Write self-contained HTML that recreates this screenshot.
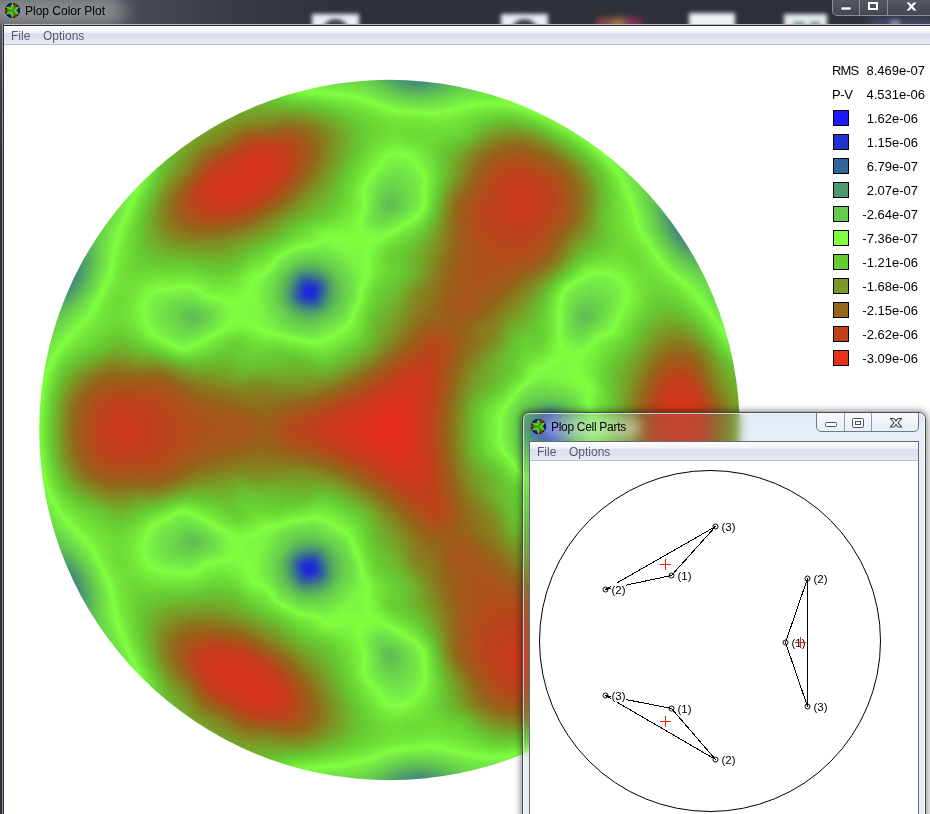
<!DOCTYPE html>
<html><head><meta charset="utf-8"><title>Plop Color Plot</title>
<style>
html,body{margin:0;padding:0}
body{width:930px;height:814px;overflow:hidden;position:relative;background:#fff;font-family:"Liberation Sans",sans-serif;font-size:12px;color:#000}
.abs{position:absolute}
#tb1{left:0;top:0;width:930px;height:26px;background:linear-gradient(90deg,#4d5158 0,#474b52 130px,#383c43 230px,#2e3239 330px,#2c3037 100%);overflow:hidden}
#tb1 .glow{left:-14px;top:-4px;width:140px;height:30px;border-radius:15px;background:rgba(255,255,255,.36);filter:blur(9px)}
#tb1 .ttl{left:25px;top:4px;font-size:12px;letter-spacing:0;color:#000;white-space:nowrap}
.blob{filter:blur(2.2px)}
#lb{left:0;top:24px;width:4px;height:790px;background:linear-gradient(#565a62,#3a3e46 60px,#2a2e36 160px)}
#lb i{position:absolute;left:2px;top:0;width:1px;height:790px;background:#8d9299}
#lb b{position:absolute;left:3px;top:1px;width:1px;height:789px;background:#30333a}
#tline1{left:2px;top:24px;width:928px;height:1px;background:#b9bdc3}
#tline2{left:3px;top:25px;width:927px;height:1px;background:#23262b}
.menu{height:18px;background:linear-gradient(#fff 0,#f1f3fa 35%,#dcdfee 42%,#dfe3f0 70%,#e9ecf6 100%);border-bottom:1px solid #b6bccc;color:#5a5a66}
.menu span{position:absolute;top:3px;font-size:12px;white-space:nowrap}
#menu1{left:4px;top:26px;width:926px}
#cap1{left:832px;top:-1px;width:100px;height:17px;border:1px solid #8b9096;border-bottom-left-radius:5px;background:linear-gradient(#555a62,#42464e);box-sizing:border-box}
#cap1 i{position:absolute;top:0;width:1px;height:16px;background:#8b9096}
.lg{left:832px;font-size:13px;white-space:nowrap;line-height:16px}
.sw{left:833px;width:14px;height:14px;border:1px solid #000}
.num{position:absolute;right:0;text-align:right}
/* window 2 */
#w2{left:522px;top:412px;width:404px;height:420px;border-radius:7px 7px 0 0;box-sizing:border-box;border:1px solid #454950;overflow:hidden;box-shadow:0 0 7px 1px rgba(0,0,0,.5)}
#w2 .glass{left:0;top:0;width:402px;height:420px;backdrop-filter:blur(5px);-webkit-backdrop-filter:blur(5px);background:rgba(255,255,255,.11)}
#w2 .tint{left:0;top:0;width:402px;height:420px;background:linear-gradient(#e2eaf6,#e8eff9 28px,#e8eff9);mix-blend-mode:multiply}
#w2 .hl{left:0;top:0;width:400px;height:418px;border:1px solid rgba(255,255,255,.65);border-radius:6px 6px 0 0}
#w2 .glow{left:18px;top:4px;width:100px;height:22px;border-radius:11px;background:rgba(255,255,255,.42);filter:blur(6px)}
#w2 .ttl{left:28px;top:7px;font-size:12px;letter-spacing:-.3px;white-space:nowrap}
#cl2{left:6px;top:28px;width:388px;height:400px;border:1px solid #5f6a74;background:#fff}
#menu2{left:0;top:0;width:388px}
#cap2{left:293px;top:-1px;width:103px;height:20px;border:1px solid #6f7b88;border-radius:0 0 5px 5px;box-sizing:border-box;background:linear-gradient(rgba(255,255,255,.75),rgba(235,240,248,.6))}
#cap2 i{position:absolute;top:0;width:1px;height:18px;background:#8e99a6}
</style></head><body>
<!-- main plot -->
<svg class="abs" style="left:0;top:0" width="930" height="814" viewBox="0 0 930 814">
<defs>
<filter id="cm" x="0" y="40" width="780" height="774" filterUnits="userSpaceOnUse" color-interpolation-filters="sRGB">
<feGaussianBlur stdDeviation="2.75"/>
<feComponentTransfer>
<feFuncR type="table" tableValues="0.1020 0.1020 0.1020 0.1294 0.2000 0.3020 0.4000 0.5020 0.4000 0.4784 0.5804 0.7529 0.9020"/>
<feFuncG type="table" tableValues="0.1020 0.1020 0.1020 0.2000 0.4000 0.6000 0.8000 1.0000 0.8000 0.6000 0.4000 0.2510 0.1882"/>
<feFuncB type="table" tableValues="1.0000 1.0000 1.0000 0.8000 0.6000 0.4235 0.3020 0.2510 0.2000 0.1490 0.1020 0.1020 0.1020"/>
<feFuncA type="linear" slope="0" intercept="1"/>
</feComponentTransfer>
</filter>
<symbol id="ico" viewBox="0 0 16 16"><circle cx="8" cy="8" r="7.6" fill="#0b0b0b"/><circle cx="14.30" cy="8.00" r="1.45" fill="#0c0cd2"/><circle cx="4.85" cy="2.54" r="1.45" fill="#0c0cd2"/><circle cx="4.85" cy="13.46" r="1.45" fill="#0c0cd2"/><circle cx="11.15" cy="2.54" r="1.45" fill="#b8200c"/><circle cx="1.70" cy="8.00" r="1.45" fill="#b8200c"/><circle cx="11.15" cy="13.46" r="1.45" fill="#b8200c"/><path d="M14.67 4.15 L10.35 3.93 L8.00 0.30 L5.65 3.93 L1.33 4.15 L3.30 8.00 L1.33 11.85 L5.65 12.07 L8.00 15.70 L10.35 12.07 L14.67 11.85 L12.70 8.00Z" fill="#3c9a18"/><path d="M13.14 4.91 L10.00 8.00 L13.14 11.09 M2.75 5.09 L7.00 6.27 L8.10 2.00 M8.10 14.00 L7.00 9.73 L2.75 10.91 " fill="none" stroke="#72e234" stroke-width="1.05" stroke-linejoin="round" stroke-linecap="round"/></symbol>
<clipPath id="disc"><circle cx="389.5" cy="430" r="350.3"/></clipPath>
<g id="half" shape-rendering="crispEdges">
<path fill="#2f2f2f" d="M308 290h5v5h-5z"/>
<path fill="#323232" d="M548 425h5v5h-5z"/>
<path fill="#373737" d="M303 290h5v5h-5z"/>
<path fill="#383838" d="M308 285h5v5h-5z"/>
<path fill="#393939" d="M543 425h5v5h-5z"/>
<path fill="#3c3c3c" d="M303 285h5v5h-5z"/>
<path fill="#3d3d3d" d="M308 295h5v5h-5z"/>
<path fill="#3f3f3f" d="M313 285h5v5h-5zM313 290h5v5h-5zM553 425h5v5h-5z"/>
<path fill="#404040" d="M548 420h5v5h-5z"/>
<path fill="#424242" d="M303 295h5v5h-5z"/>
<path fill="#444444" d="M313 295h5v5h-5z"/>
<path fill="#464646" d="M543 420h5v5h-5zM538 425h5v5h-5z"/>
<path fill="#474747" d="M303 280h5v5h-5zM298 290h5v5h-5z"/>
<path fill="#484848" d="M298 295h5v5h-5z"/>
<path fill="#494949" d="M308 280h5v5h-5z"/>
<path fill="#4b4b4b" d="M298 285h5v5h-5zM553 420h5v5h-5z"/>
<path fill="#4c4c4c" d="M318 285h5v5h-5zM558 425h5v5h-5z"/>
<path fill="#4d4d4d" d="M313 280h5v5h-5zM548 415h5v5h-5z"/>
<path fill="#4e4e4e" d="M308 300h10v5h-10z"/>
<path fill="#4f4f4f" d="M318 290h5v5h-5z"/>
<path fill="#515151" d="M298 280h5v5h-5zM303 300h5v5h-5zM538 420h5v5h-5z"/>
<path fill="#525252" d="M543 415h5v5h-5z"/>
<path fill="#535353" d="M318 295h5v5h-5z"/>
<path fill="#545454" d="M318 280h5v5h-5zM533 425h5v5h-5z"/>
<path fill="#565656" d="M293 295h5v5h-5zM298 300h5v5h-5zM558 420h5v5h-5z"/>
<path fill="#575757" d="M303 275h5v5h-5zM293 290h5v5h-5zM553 415h5v5h-5z"/>
<path fill="#585858" d="M308 275h5v5h-5z"/>
<path fill="#5a5a5a" d="M293 285h5v5h-5zM318 300h5v5h-5z"/>
<path fill="#5b5b5b" d="M298 275h5v5h-5zM563 425h5v5h-5z"/>
<path fill="#5c5c5c" d="M313 275h5v5h-5zM538 415h5v5h-5z"/>
<path fill="#5d5d5d" d="M323 285h5v5h-5zM548 410h5v5h-5zM533 420h5v5h-5z"/>
<path fill="#5e5e5e" d="M323 290h5v5h-5zM308 305h10v5h-10z"/>
<path fill="#5f5f5f" d="M293 300h5v5h-5z"/>
<path fill="#606060" d="M293 280h5v5h-5zM323 280h5v5h-5zM303 305h5v5h-5z"/>
<path fill="#616161" d="M543 410h5v5h-5zM558 415h5v5h-5z"/>
<path fill="#626262" d="M318 275h5v5h-5zM323 295h5v5h-5z"/>
<path fill="#636363" d="M413 65h5v5h-5zM413 70h5v5h-5zM408 75h10v5h-10zM688 220h5v5h-5zM678 225h20v5h-20zM678 230h10v5h-10zM58 265h10v5h-10zM58 270h15v5h-15zM63 275h10v5h-10zM563 420h5v5h-5z"/>
<path fill="#646464" d="M408 65h5v5h-5zM418 65h5v5h-5zM408 70h5v5h-5zM418 70h5v5h-5zM418 75h5v5h-5zM678 220h10v5h-10zM673 225h5v5h-5zM688 230h5v5h-5zM683 235h5v5h-5zM68 265h5v5h-5zM73 270h5v5h-5zM53 275h10v5h-10zM73 275h5v5h-5zM63 280h10v5h-10zM553 410h5v5h-5zM528 425h5v5h-5z"/>
<path fill="#656565" d="M403 65h5v5h-5zM423 65h5v5h-5zM403 70h5v5h-5zM423 70h5v5h-5zM403 75h5v5h-5zM423 75h5v5h-5zM413 80h10v5h-10zM683 215h5v5h-5zM693 230h5v5h-5zM678 235h5v5h-5zM688 235h5v5h-5zM63 260h5v5h-5zM73 265h5v5h-5zM58 280h5v5h-5zM298 305h5v5h-5zM318 305h5v5h-5z"/>
<path fill="#666666" d="M408 80h5v5h-5zM423 80h5v5h-5zM678 215h5v5h-5zM673 220h5v5h-5zM673 230h5v5h-5zM683 240h5v5h-5zM68 260h5v5h-5zM53 280h5v5h-5zM63 285h5v5h-5z"/>
<path fill="#676767" d="M428 65h5v5h-5zM428 70h5v5h-5zM398 75h5v5h-5zM428 75h5v5h-5zM683 210h5v5h-5zM673 215h5v5h-5zM693 235h5v5h-5zM688 240h5v5h-5zM63 255h5v5h-5zM73 260h5v5h-5zM303 270h5v5h-5zM58 285h5v5h-5zM68 285h5v5h-5zM288 290h5v5h-5zM288 295h5v5h-5zM533 415h5v5h-5z"/>
<path fill="#686868" d="M398 65h5v5h-5zM398 70h5v5h-5zM403 80h5v5h-5zM428 80h5v5h-5zM678 210h5v5h-5zM668 220h5v5h-5zM698 235h5v5h-5zM68 255h5v5h-5zM78 265h5v5h-5zM308 270h5v5h-5zM293 275h5v5h-5zM73 280h5v5h-5zM53 285h5v5h-5zM323 300h5v5h-5z"/>
<path fill="#696969" d="M668 215h5v5h-5zM693 240h5v5h-5zM78 260h5v5h-5zM78 270h5v5h-5zM288 285h5v5h-5zM63 290h5v5h-5zM538 410h5v5h-5z"/>
<path fill="#6a6a6a" d="M433 65h5v5h-5zM433 70h5v5h-5zM678 205h5v5h-5zM673 210h5v5h-5zM668 225h5v5h-5zM678 240h5v5h-5zM688 245h5v5h-5zM73 255h5v5h-5zM298 270h5v5h-5zM313 270h5v5h-5zM48 285h5v5h-5zM58 290h5v5h-5zM528 420h5v5h-5z"/>
<path fill="#6b6b6b" d="M393 65h5v5h-5zM393 70h5v5h-5zM393 75h5v5h-5zM433 75h5v5h-5zM398 80h5v5h-5zM673 235h5v5h-5zM698 240h5v5h-5zM683 245h5v5h-5zM68 250h5v5h-5zM78 275h5v5h-5zM323 275h5v5h-5zM53 290h5v5h-5zM68 290h5v5h-5zM288 300h5v5h-5zM558 410h5v5h-5zM563 415h5v5h-5zM568 425h5v5h-5z"/>
<path fill="#6c6c6c" d="M433 80h5v5h-5zM668 210h5v5h-5zM703 240h5v5h-5zM693 245h5v5h-5zM78 255h5v5h-5zM73 285h5v5h-5zM328 285h5v5h-5zM328 290h5v5h-5zM293 305h5v5h-5zM308 310h5v5h-5z"/>
<path fill="#6d6d6d" d="M438 65h5v5h-5zM413 85h10v5h-10zM673 205h5v5h-5zM663 215h5v5h-5zM73 250h5v5h-5zM288 280h5v5h-5zM48 290h5v5h-5zM58 295h10v5h-10zM303 310h5v5h-5zM313 310h5v5h-5zM548 405h5v5h-5z"/>
<path fill="#6e6e6e" d="M388 60h5v5h-5zM388 65h5v5h-5zM388 70h5v5h-5zM438 70h5v5h-5zM388 75h5v5h-5zM438 75h5v5h-5zM393 80h5v5h-5zM408 85h5v5h-5zM423 85h5v5h-5zM663 210h5v5h-5zM668 230h5v5h-5zM68 245h5v5h-5zM698 245h5v5h-5zM688 250h5v5h-5zM83 255h5v5h-5zM83 260h5v5h-5zM318 270h5v5h-5zM328 280h5v5h-5zM328 295h5v5h-5zM543 405h5v5h-5z"/>
<path fill="#6f6f6f" d="M438 80h5v5h-5zM428 85h5v5h-5zM668 205h5v5h-5zM663 220h5v5h-5zM78 250h5v5h-5zM693 250h5v5h-5zM83 265h5v5h-5zM78 280h5v5h-5zM53 295h5v5h-5zM323 305h5v5h-5zM533 410h5v5h-5zM568 420h5v5h-5z"/>
<path fill="#707070" d="M403 85h5v5h-5zM673 200h5v5h-5zM673 240h5v5h-5zM73 245h5v5h-5zM678 245h5v5h-5zM703 245h5v5h-5zM48 295h5v5h-5zM298 310h5v5h-5zM553 405h5v5h-5zM528 415h5v5h-5z"/>
<path fill="#717171" d="M443 70h5v5h-5zM433 85h5v5h-5zM663 205h5v5h-5zM83 250h5v5h-5zM698 250h5v5h-5zM83 270h5v5h-5zM293 270h5v5h-5zM73 290h5v5h-5zM68 295h5v5h-5zM58 300h5v5h-5zM328 300h5v5h-5zM318 310h5v5h-5z"/>
<path fill="#727272" d="M383 65h5v5h-5zM383 70h5v5h-5zM383 75h5v5h-5zM443 75h5v5h-5zM388 80h5v5h-5zM398 85h5v5h-5zM668 200h5v5h-5zM663 225h5v5h-5zM668 235h5v5h-5zM78 245h5v5h-5zM683 250h5v5h-5zM288 275h5v5h-5zM283 290h5v5h-5zM63 300h5v5h-5zM538 405h5v5h-5zM563 410h5v5h-5zM523 425h5v5h-5z"/>
<path fill="#737373" d="M443 80h5v5h-5zM703 250h5v5h-5zM693 255h5v5h-5zM303 265h10v5h-10zM323 270h5v5h-5zM83 275h5v5h-5zM328 275h5v5h-5zM78 285h5v5h-5zM283 285h5v5h-5zM283 295h5v5h-5zM53 300h5v5h-5zM288 305h5v5h-5z"/>
<path fill="#747474" d="M438 85h5v5h-5zM663 200h5v5h-5zM658 205h5v5h-5zM658 210h5v5h-5zM73 240h5v5h-5zM83 245h5v5h-5zM688 255h5v5h-5zM698 255h5v5h-5zM313 265h5v5h-5zM48 300h5v5h-5zM293 310h5v5h-5zM558 405h5v5h-5zM568 415h5v5h-5zM523 420h5v5h-5z"/>
<path fill="#757575" d="M448 70h5v5h-5zM393 85h5v5h-5zM668 195h5v5h-5zM658 215h5v5h-5zM663 230h5v5h-5zM708 250h5v5h-5zM43 300h5v5h-5zM58 305h5v5h-5zM528 410h5v5h-5z"/>
<path fill="#767676" d="M378 65h5v5h-5zM378 70h5v5h-5zM378 75h5v5h-5zM448 75h5v5h-5zM383 80h5v5h-5zM408 90h20v5h-20zM78 240h5v5h-5zM673 245h5v5h-5zM88 250h5v5h-5zM88 255h5v5h-5zM703 255h5v5h-5zM88 260h5v5h-5zM298 265h5v5h-5zM283 280h5v5h-5zM333 285h5v5h-5zM333 290h5v5h-5zM283 300h5v5h-5zM53 305h5v5h-5zM328 305h5v5h-5zM303 315h10v5h-10zM533 405h5v5h-5z"/>
<path fill="#777777" d="M448 80h5v5h-5zM443 85h5v5h-5zM663 195h5v5h-5zM658 200h5v5h-5zM658 220h5v5h-5zM668 240h5v5h-5zM88 245h5v5h-5zM678 250h5v5h-5zM693 260h5v5h-5zM88 265h5v5h-5zM318 265h5v5h-5zM83 280h5v5h-5zM73 295h5v5h-5zM333 295h5v5h-5zM68 300h5v5h-5zM323 310h5v5h-5zM313 315h5v5h-5zM523 415h5v5h-5zM573 425h5v5h-5z"/>
<path fill="#787878" d="M403 90h5v5h-5zM428 90h5v5h-5zM83 240h5v5h-5zM683 255h5v5h-5zM708 255h5v5h-5zM698 260h5v5h-5zM333 280h5v5h-5zM78 290h5v5h-5zM48 305h5v5h-5zM63 305h5v5h-5zM298 315h5v5h-5zM548 400h5v5h-5z"/>
<path fill="#797979" d="M453 70h5v5h-5zM388 85h5v5h-5zM433 90h5v5h-5zM388 200h5v5h-5zM78 235h5v5h-5zM88 270h5v5h-5zM288 270h5v5h-5zM333 300h5v5h-5zM43 305h5v5h-5zM188 315h10v5h-10zM583 315h5v5h-5zM543 400h5v5h-5zM563 405h5v5h-5zM568 410h5v5h-5zM573 420h5v5h-5z"/>
<path fill="#7a7a7a" d="M373 65h5v5h-5zM373 70h5v5h-5zM373 75h5v5h-5zM453 75h5v5h-5zM378 80h5v5h-5zM453 80h5v5h-5zM448 85h5v5h-5zM398 90h5v5h-5zM663 190h5v5h-5zM658 195h5v5h-5zM653 200h5v5h-5zM388 205h5v5h-5zM653 205h5v5h-5zM658 225h5v5h-5zM663 235h5v5h-5zM88 240h5v5h-5zM703 260h5v5h-5zM293 265h5v5h-5zM328 270h5v5h-5zM283 275h5v5h-5zM53 310h10v5h-10zM288 310h5v5h-5zM583 310h5v5h-5zM318 315h5v5h-5zM553 400h5v5h-5z"/>
<path fill="#7b7b7b" d="M383 200h5v5h-5zM393 200h5v5h-5zM653 210h5v5h-5zM83 235h5v5h-5zM688 260h5v5h-5zM708 260h5v5h-5zM323 265h5v5h-5zM698 265h5v5h-5zM88 275h5v5h-5zM83 285h5v5h-5zM283 305h5v5h-5zM48 310h5v5h-5zM293 315h5v5h-5zM578 315h5v5h-5zM538 400h5v5h-5zM528 405h5v5h-5zM523 410h5v5h-5z"/>
<path fill="#7c7c7c" d="M458 70h5v5h-5zM383 85h5v5h-5zM453 85h5v5h-5zM438 90h5v5h-5zM388 195h5v5h-5zM653 195h5v5h-5zM383 205h5v5h-5zM78 230h5v5h-5zM668 245h5v5h-5zM673 250h5v5h-5zM308 260h5v5h-5zM333 275h5v5h-5zM278 285h5v5h-5zM278 290h5v5h-5zM278 295h5v5h-5zM73 300h5v5h-5zM43 310h5v5h-5zM188 310h10v5h-10zM328 310h5v5h-5zM578 310h5v5h-5zM588 310h5v5h-5zM588 315h5v5h-5zM188 320h10v5h-10zM583 320h5v5h-5zM558 400h5v5h-5zM518 425h5v5h-5z"/>
<path fill="#7d7d7d" d="M458 75h5v5h-5zM373 80h5v5h-5zM393 90h5v5h-5zM663 185h5v5h-5zM658 190h5v5h-5zM393 195h5v5h-5zM393 205h5v5h-5zM653 215h5v5h-5zM658 230h5v5h-5zM88 235h5v5h-5zM93 240h5v5h-5zM93 245h5v5h-5zM93 250h5v5h-5zM93 255h5v5h-5zM678 255h5v5h-5zM303 260h5v5h-5zM313 260h5v5h-5zM713 260h5v5h-5zM693 265h5v5h-5zM703 265h5v5h-5zM338 290h5v5h-5zM78 295h5v5h-5zM68 305h5v5h-5zM333 305h5v5h-5zM38 310h5v5h-5zM53 315h5v5h-5zM183 315h5v5h-5zM198 315h5v5h-5zM578 320h5v5h-5zM533 400h5v5h-5zM573 415h5v5h-5zM518 420h5v5h-5z"/>
<path fill="#7e7e7e" d="M368 65h5v5h-5zM368 70h5v5h-5zM368 75h5v5h-5zM458 80h5v5h-5zM443 90h5v5h-5zM413 95h10v5h-10zM653 190h5v5h-5zM383 195h5v5h-5zM83 230h5v5h-5zM93 235h5v5h-5zM663 240h5v5h-5zM93 260h5v5h-5zM708 265h5v5h-5zM88 280h5v5h-5zM278 280h5v5h-5zM338 285h5v5h-5zM338 295h5v5h-5zM278 300h5v5h-5zM583 305h10v5h-10zM63 310h5v5h-5zM183 310h5v5h-5zM48 315h5v5h-5zM58 315h5v5h-5zM323 315h5v5h-5zM183 320h5v5h-5zM303 320h10v5h-10zM568 405h5v5h-5zM518 415h5v5h-5z"/>
<path fill="#7f7f7f" d="M463 70h5v5h-5zM458 85h5v5h-5zM388 90h5v5h-5zM408 95h5v5h-5zM423 95h10v5h-10zM658 185h5v5h-5zM388 190h5v5h-5zM648 195h5v5h-5zM383 210h10v5h-10zM653 220h5v5h-5zM88 230h5v5h-5zM298 260h5v5h-5zM318 260h5v5h-5zM683 260h5v5h-5zM93 265h5v5h-5zM713 265h5v5h-5zM698 270h10v5h-10zM338 280h5v5h-5zM83 290h5v5h-5zM338 300h5v5h-5zM198 310h5v5h-5zM283 310h5v5h-5zM43 315h5v5h-5zM288 315h5v5h-5zM198 320h5v5h-5zM298 320h5v5h-5zM313 320h5v5h-5zM563 400h5v5h-5zM523 405h5v5h-5z"/>
<path fill="#808080" d="M363 65h5v5h-5zM363 70h5v5h-5zM463 75h5v5h-5zM368 80h5v5h-5zM463 80h5v5h-5zM378 85h5v5h-5zM448 90h5v5h-5zM403 95h5v5h-5zM658 180h5v5h-5zM653 185h5v5h-5zM393 190h5v5h-5zM648 190h5v5h-5zM398 195h5v5h-5zM398 200h5v5h-5zM648 200h5v5h-5zM83 225h5v5h-5zM288 265h5v5h-5zM328 265h5v5h-5zM93 270h5v5h-5zM283 270h5v5h-5zM333 270h5v5h-5zM708 270h5v5h-5zM578 305h5v5h-5zM593 310h5v5h-5zM38 315h5v5h-5zM178 315h5v5h-5zM593 315h5v5h-5zM53 320h5v5h-5zM293 320h5v5h-5zM588 320h5v5h-5zM543 395h10v5h-10zM528 400h5v5h-5zM518 410h5v5h-5zM573 410h5v5h-5zM578 425h5v5h-5z"/>
<path fill="#818181" d="M363 75h5v5h-5zM463 85h5v5h-5zM433 95h5v5h-5zM383 190h5v5h-5zM378 200h5v5h-5zM378 205h5v5h-5zM398 205h5v5h-5zM648 205h5v5h-5zM393 210h5v5h-5zM88 225h5v5h-5zM653 225h5v5h-5zM93 230h5v5h-5zM658 235h5v5h-5zM668 250h5v5h-5zM673 255h5v5h-5zM323 260h5v5h-5zM688 265h5v5h-5zM713 270h5v5h-5zM278 275h5v5h-5zM338 275h5v5h-5zM588 300h5v5h-5zM73 305h5v5h-5zM183 305h10v5h-10zM278 305h5v5h-5zM338 305h5v5h-5zM593 305h5v5h-5zM178 310h5v5h-5zM333 310h5v5h-5zM573 310h5v5h-5zM203 315h5v5h-5zM328 315h5v5h-5zM573 315h5v5h-5zM43 320h10v5h-10zM178 320h5v5h-5zM318 320h5v5h-5zM188 325h10v5h-10zM578 325h10v5h-10zM538 395h5v5h-5zM553 395h5v5h-5zM578 420h5v5h-5z"/>
<path fill="#828282" d="M358 65h5v5h-5zM468 75h5v5h-5zM363 80h5v5h-5zM468 80h5v5h-5zM373 85h5v5h-5zM383 90h5v5h-5zM453 90h5v5h-5zM398 95h5v5h-5zM438 95h5v5h-5zM653 180h5v5h-5zM388 185h10v5h-10zM648 185h5v5h-5zM398 190h5v5h-5zM378 195h5v5h-5zM378 210h5v5h-5zM648 210h5v5h-5zM93 225h5v5h-5zM98 230h5v5h-5zM98 235h5v5h-5zM663 245h5v5h-5zM293 260h5v5h-5zM678 260h5v5h-5zM693 270h5v5h-5zM718 270h5v5h-5zM703 275h10v5h-10zM88 285h5v5h-5zM273 285h5v5h-5zM343 285h5v5h-5zM273 290h5v5h-5zM343 290h5v5h-5zM273 295h5v5h-5zM343 295h5v5h-5zM78 300h5v5h-5zM583 300h5v5h-5zM593 300h5v5h-5zM193 305h5v5h-5zM68 310h5v5h-5zM203 310h5v5h-5zM63 315h5v5h-5zM283 315h5v5h-5zM38 320h5v5h-5zM288 320h5v5h-5zM573 320h5v5h-5zM183 325h5v5h-5zM533 395h5v5h-5zM558 395h5v5h-5zM523 400h5v5h-5zM568 400h5v5h-5zM513 425h5v5h-5z"/>
<path fill="#838383" d="M358 70h5v5h-5zM358 75h5v5h-5zM468 85h5v5h-5zM393 95h5v5h-5zM653 175h5v5h-5zM648 180h5v5h-5zM643 185h5v5h-5zM643 190h5v5h-5zM383 215h5v5h-5zM648 215h5v5h-5zM88 220h10v5h-10zM98 225h5v5h-5zM98 240h5v5h-5zM98 245h5v5h-5zM98 250h5v5h-5zM308 255h10v5h-10zM328 260h5v5h-5zM333 265h5v5h-5zM93 275h5v5h-5zM713 275h10v5h-10zM343 280h5v5h-5zM83 295h5v5h-5zM273 300h5v5h-5zM578 300h5v5h-5zM178 305h5v5h-5zM573 305h5v5h-5zM598 305h5v5h-5zM173 310h5v5h-5zM278 310h5v5h-5zM598 310h5v5h-5zM173 315h5v5h-5zM58 320h5v5h-5zM203 320h5v5h-5zM323 320h5v5h-5zM593 320h5v5h-5zM43 325h15v5h-15zM298 325h20v5h-20zM573 325h5v5h-5zM528 395h5v5h-5zM518 405h5v5h-5zM573 405h5v5h-5zM513 415h5v5h-5zM578 415h5v5h-5zM513 420h5v5h-5z"/>
<path fill="#848484" d="M348 65h10v5h-10zM348 70h10v5h-10zM353 75h5v5h-5zM473 75h5v5h-5zM358 80h5v5h-5zM473 80h5v5h-5zM458 90h5v5h-5zM443 95h5v5h-5zM393 180h5v5h-5zM383 185h5v5h-5zM398 185h5v5h-5zM378 190h5v5h-5zM403 195h5v5h-5zM643 195h5v5h-5zM403 200h5v5h-5zM88 215h10v5h-10zM378 215h5v5h-5zM388 215h5v5h-5zM98 220h5v5h-5zM653 230h5v5h-5zM658 240h5v5h-5zM98 255h5v5h-5zM303 255h5v5h-5zM318 255h5v5h-5zM98 260h5v5h-5zM283 265h5v5h-5zM683 265h5v5h-5zM278 270h5v5h-5zM338 270h5v5h-5zM698 275h5v5h-5zM273 280h5v5h-5zM703 280h20v5h-20zM588 295h5v5h-5zM343 300h5v5h-5zM598 300h5v5h-5zM173 305h5v5h-5zM198 305h5v5h-5zM338 310h5v5h-5zM208 315h5v5h-5zM333 315h5v5h-5zM598 315h5v5h-5zM173 320h5v5h-5zM38 325h5v5h-5zM178 325h5v5h-5zM198 325h5v5h-5zM293 325h5v5h-5zM588 325h5v5h-5zM48 330h5v5h-5zM578 330h5v5h-5zM543 390h5v5h-5zM563 395h5v5h-5z"/>
<path fill="#858585" d="M343 65h5v5h-5zM343 70h5v5h-5zM348 75h5v5h-5zM348 80h10v5h-10zM368 85h5v5h-5zM473 85h5v5h-5zM378 90h5v5h-5zM463 90h5v5h-5zM388 95h5v5h-5zM418 100h5v5h-5zM648 175h5v5h-5zM388 180h5v5h-5zM398 180h5v5h-5zM643 180h5v5h-5zM403 190h5v5h-5zM643 200h5v5h-5zM403 205h5v5h-5zM93 210h10v5h-10zM398 210h5v5h-5zM98 215h10v5h-10zM103 220h5v5h-5zM648 220h5v5h-5zM103 225h5v5h-5zM298 255h5v5h-5zM323 255h5v5h-5zM288 260h5v5h-5zM98 265h5v5h-5zM688 270h5v5h-5zM343 275h5v5h-5zM93 280h5v5h-5zM723 280h5v5h-5zM708 285h20v5h-20zM88 290h5v5h-5zM583 295h5v5h-5zM593 295h5v5h-5zM183 300h10v5h-10zM273 305h5v5h-5zM168 310h5v5h-5zM208 310h5v5h-5zM168 315h5v5h-5zM278 315h5v5h-5zM283 320h5v5h-5zM318 325h5v5h-5zM38 330h10v5h-10zM183 330h10v5h-10zM573 330h5v5h-5zM583 330h5v5h-5zM533 390h10v5h-10zM548 390h10v5h-10zM513 410h5v5h-5z"/>
<path fill="#868686" d="M338 65h5v5h-5zM338 70h5v5h-5zM338 75h10v5h-10zM478 75h5v5h-5zM343 80h5v5h-5zM478 80h5v5h-5zM468 90h5v5h-5zM448 95h5v5h-5zM408 100h10v5h-10zM423 100h10v5h-10zM648 170h5v5h-5zM643 175h5v5h-5zM383 180h5v5h-5zM638 180h5v5h-5zM403 185h5v5h-5zM638 185h5v5h-5zM98 205h5v5h-5zM643 205h5v5h-5zM103 210h10v5h-10zM373 210h5v5h-5zM108 215h5v5h-5zM373 215h5v5h-5zM103 230h5v5h-5zM668 255h5v5h-5zM333 260h5v5h-5zM673 260h5v5h-5zM338 265h5v5h-5zM273 275h5v5h-5zM348 285h5v5h-5zM268 290h5v5h-5zM348 290h5v5h-5zM708 290h25v5h-25zM578 295h5v5h-5zM598 295h5v5h-5zM713 295h5v5h-5zM178 300h5v5h-5zM573 300h5v5h-5zM603 300h5v5h-5zM78 305h5v5h-5zM168 305h5v5h-5zM203 305h5v5h-5zM343 305h5v5h-5zM603 305h5v5h-5zM73 310h5v5h-5zM68 315h5v5h-5zM568 315h5v5h-5zM63 320h5v5h-5zM168 320h5v5h-5zM208 320h5v5h-5zM328 320h5v5h-5zM58 325h5v5h-5zM173 325h5v5h-5zM288 325h5v5h-5zM33 330h5v5h-5zM53 330h5v5h-5zM193 330h5v5h-5zM48 335h5v5h-5zM558 390h5v5h-5zM523 395h5v5h-5zM568 395h5v5h-5zM518 400h5v5h-5zM573 400h5v5h-5zM578 410h5v5h-5z"/>
<path fill="#878787" d="M333 70h5v5h-5zM333 75h5v5h-5zM483 75h5v5h-5zM333 80h10v5h-10zM363 85h5v5h-5zM478 85h5v5h-5zM373 90h5v5h-5zM473 90h5v5h-5zM453 95h5v5h-5zM403 100h5v5h-5zM433 100h5v5h-5zM643 170h5v5h-5zM388 175h15v5h-15zM638 175h5v5h-5zM403 180h5v5h-5zM378 185h5v5h-5zM408 190h5v5h-5zM638 190h5v5h-5zM373 195h5v5h-5zM408 195h5v5h-5zM98 200h10v5h-10zM373 200h5v5h-5zM408 200h5v5h-5zM103 205h10v5h-10zM373 205h5v5h-5zM113 210h5v5h-5zM393 215h5v5h-5zM108 220h5v5h-5zM378 220h10v5h-10zM648 225h5v5h-5zM103 235h5v5h-5zM653 235h5v5h-5zM663 250h5v5h-5zM293 255h5v5h-5zM328 255h5v5h-5zM678 265h5v5h-5zM98 270h5v5h-5zM343 270h5v5h-5zM693 275h5v5h-5zM348 280h5v5h-5zM698 280h5v5h-5zM268 285h5v5h-5zM703 285h5v5h-5zM588 290h15v5h-15zM268 295h5v5h-5zM348 295h5v5h-5zM603 295h5v5h-5zM718 295h15v5h-15zM83 300h5v5h-5zM173 300h5v5h-5zM193 300h5v5h-5zM568 305h5v5h-5zM163 310h5v5h-5zM273 310h5v5h-5zM568 310h5v5h-5zM603 310h5v5h-5zM163 315h5v5h-5zM213 315h5v5h-5zM338 315h5v5h-5zM278 320h5v5h-5zM568 320h5v5h-5zM598 320h5v5h-5zM203 325h5v5h-5zM568 325h5v5h-5zM593 325h5v5h-5zM178 330h5v5h-5zM308 330h5v5h-5zM33 335h15v5h-15zM578 335h5v5h-5zM528 390h5v5h-5zM513 405h5v5h-5zM583 420h5v5h-5zM583 425h5v5h-5z"/>
<path fill="#888888" d="M328 70h5v5h-5zM328 75h5v5h-5zM328 80h5v5h-5zM483 80h5v5h-5zM358 85h5v5h-5zM483 85h5v5h-5zM478 90h10v5h-10zM383 95h5v5h-5zM398 100h5v5h-5zM438 100h5v5h-5zM643 165h5v5h-5zM638 170h5v5h-5zM633 175h5v5h-5zM633 180h5v5h-5zM408 185h5v5h-5zM373 190h5v5h-5zM103 195h5v5h-5zM108 200h5v5h-5zM113 205h5v5h-5zM403 210h5v5h-5zM643 210h5v5h-5zM373 220h5v5h-5zM103 240h5v5h-5zM658 245h5v5h-5zM283 260h5v5h-5zM278 265h5v5h-5zM348 275h5v5h-5zM268 280h5v5h-5zM93 285h5v5h-5zM583 290h5v5h-5zM573 295h5v5h-5zM708 295h5v5h-5zM168 300h5v5h-5zM268 300h5v5h-5zM713 300h20v5h-20zM163 305h5v5h-5zM208 305h5v5h-5zM718 305h5v5h-5zM213 310h5v5h-5zM343 310h5v5h-5zM273 315h5v5h-5zM603 315h5v5h-5zM163 320h5v5h-5zM333 320h5v5h-5zM168 325h5v5h-5zM283 325h5v5h-5zM323 325h5v5h-5zM173 330h5v5h-5zM303 330h5v5h-5zM313 330h5v5h-5zM568 330h5v5h-5zM573 335h5v5h-5zM38 340h15v5h-15zM538 385h10v5h-10zM563 390h5v5h-5zM578 405h5v5h-5zM508 415h5v5h-5zM508 420h5v5h-5zM508 425h5v5h-5z"/>
<path fill="#898989" d="M323 70h5v5h-5zM488 80h5v5h-5zM353 85h5v5h-5zM488 85h5v5h-5zM488 90h5v5h-5zM458 95h5v5h-5zM443 100h5v5h-5zM638 165h5v5h-5zM393 170h10v5h-10zM633 170h5v5h-5zM383 175h5v5h-5zM403 175h5v5h-5zM378 180h5v5h-5zM408 180h5v5h-5zM108 195h10v5h-10zM638 195h5v5h-5zM113 200h10v5h-10zM118 205h5v5h-5zM408 205h5v5h-5zM113 215h5v5h-5zM398 215h5v5h-5zM643 215h5v5h-5zM388 220h5v5h-5zM108 225h5v5h-5zM648 230h5v5h-5zM103 245h5v5h-5zM103 250h5v5h-5zM313 250h10v5h-10zM338 260h5v5h-5zM343 265h5v5h-5zM683 270h5v5h-5zM98 275h5v5h-5zM588 285h10v5h-10zM578 290h5v5h-5zM603 290h5v5h-5zM88 295h5v5h-5zM183 295h5v5h-5zM608 295h5v5h-5zM198 300h5v5h-5zM348 300h5v5h-5zM568 300h5v5h-5zM608 300h5v5h-5zM268 305h5v5h-5zM608 305h5v5h-5zM723 305h10v5h-10zM158 310h5v5h-5zM213 320h5v5h-5zM208 325h5v5h-5zM198 330h5v5h-5zM293 330h10v5h-10zM588 330h5v5h-5zM53 335h5v5h-5zM178 335h10v5h-10zM583 335h5v5h-5zM33 340h5v5h-5zM43 345h5v5h-5zM533 385h5v5h-5zM548 385h10v5h-10zM573 395h5v5h-5zM508 410h5v5h-5zM583 415h5v5h-5z"/>
<path fill="#8a8a8a" d="M318 70h5v5h-5zM323 75h5v5h-5zM323 80h5v5h-5zM493 80h5v5h-5zM338 85h15v5h-15zM493 85h5v5h-5zM368 90h5v5h-5zM378 95h5v5h-5zM463 95h5v5h-5zM393 100h5v5h-5zM633 160h10v5h-10zM633 165h5v5h-5zM388 170h5v5h-5zM403 170h5v5h-5zM628 170h5v5h-5zM408 175h5v5h-5zM628 175h5v5h-5zM373 185h5v5h-5zM633 185h5v5h-5zM108 190h10v5h-10zM413 190h5v5h-5zM118 195h5v5h-5zM413 195h5v5h-5zM413 200h5v5h-5zM638 200h5v5h-5zM368 215h5v5h-5zM653 240h5v5h-5zM303 250h10v5h-10zM323 250h5v5h-5zM103 255h5v5h-5zM288 255h5v5h-5zM333 255h5v5h-5zM103 260h5v5h-5zM273 270h5v5h-5zM348 270h5v5h-5zM688 275h5v5h-5zM583 285h5v5h-5zM598 285h5v5h-5zM573 290h5v5h-5zM608 290h5v5h-5zM703 290h5v5h-5zM178 295h5v5h-5zM188 295h5v5h-5zM568 295h5v5h-5zM163 300h5v5h-5zM83 305h5v5h-5zM158 305h5v5h-5zM213 305h5v5h-5zM713 305h5v5h-5zM733 305h5v5h-5zM78 310h5v5h-5zM268 310h5v5h-5zM608 310h5v5h-5zM718 310h10v5h-10zM73 315h5v5h-5zM158 315h5v5h-5zM68 320h5v5h-5zM158 320h5v5h-5zM603 320h5v5h-5zM63 325h5v5h-5zM163 325h5v5h-5zM598 325h5v5h-5zM58 330h5v5h-5zM168 330h5v5h-5zM318 330h5v5h-5zM188 335h5v5h-5zM28 345h15v5h-15zM48 345h5v5h-5zM43 350h5v5h-5zM558 385h5v5h-5zM523 390h5v5h-5zM568 390h5v5h-5zM518 395h5v5h-5z"/>
<path fill="#8b8b8b" d="M318 75h5v5h-5zM318 80h5v5h-5zM498 80h5v5h-5zM328 85h10v5h-10zM498 85h5v5h-5zM493 90h5v5h-5zM468 95h5v5h-5zM388 100h5v5h-5zM448 100h5v5h-5zM633 155h5v5h-5zM628 160h5v5h-5zM628 165h5v5h-5zM413 180h5v5h-5zM413 185h5v5h-5zM118 190h5v5h-5zM123 195h5v5h-5zM368 210h5v5h-5zM408 210h5v5h-5zM113 220h5v5h-5zM368 220h5v5h-5zM393 220h5v5h-5zM643 220h5v5h-5zM378 225h10v5h-10zM108 230h5v5h-5zM298 250h5v5h-5zM328 250h5v5h-5zM663 255h5v5h-5zM668 260h5v5h-5zM673 265h5v5h-5zM268 275h5v5h-5zM353 280h5v5h-5zM693 280h5v5h-5zM263 285h5v5h-5zM353 285h5v5h-5zM603 285h5v5h-5zM698 285h5v5h-5zM93 290h5v5h-5zM263 290h5v5h-5zM353 290h5v5h-5zM173 295h5v5h-5zM193 295h5v5h-5zM263 295h5v5h-5zM708 300h5v5h-5zM348 305h5v5h-5zM728 310h10v5h-10zM343 315h5v5h-5zM273 320h5v5h-5zM338 320h5v5h-5zM278 325h5v5h-5zM328 325h5v5h-5zM288 330h5v5h-5zM173 335h5v5h-5zM193 335h5v5h-5zM568 335h5v5h-5zM578 340h5v5h-5zM28 350h15v5h-15zM528 385h5v5h-5zM513 400h5v5h-5zM578 400h5v5h-5zM583 410h5v5h-5z"/>
<path fill="#8c8c8c" d="M313 70h5v5h-5zM313 75h5v5h-5zM503 80h5v5h-5zM318 85h10v5h-10zM363 90h5v5h-5zM498 90h5v5h-5zM473 95h10v5h-10zM488 95h10v5h-10zM423 105h10v5h-10zM628 155h5v5h-5zM623 160h5v5h-5zM393 165h10v5h-10zM623 165h5v5h-5zM383 170h5v5h-5zM408 170h5v5h-5zM623 170h5v5h-5zM378 175h5v5h-5zM373 180h5v5h-5zM113 185h5v5h-5zM633 190h5v5h-5zM123 200h5v5h-5zM368 205h5v5h-5zM413 205h5v5h-5zM638 205h5v5h-5zM118 210h5v5h-5zM403 215h5v5h-5zM373 225h5v5h-5zM108 235h5v5h-5zM658 250h5v5h-5zM338 255h5v5h-5zM278 260h5v5h-5zM343 260h5v5h-5zM103 265h5v5h-5zM678 270h5v5h-5zM353 275h5v5h-5zM98 280h5v5h-5zM588 280h15v5h-15zM578 285h5v5h-5zM608 285h5v5h-5zM168 295h5v5h-5zM353 295h5v5h-5zM613 295h5v5h-5zM88 300h5v5h-5zM158 300h5v5h-5zM203 300h5v5h-5zM263 300h5v5h-5zM563 305h5v5h-5zM153 310h5v5h-5zM218 310h5v5h-5zM563 310h5v5h-5zM153 315h5v5h-5zM218 315h5v5h-5zM268 315h5v5h-5zM563 315h5v5h-5zM608 315h5v5h-5zM718 315h15v5h-15zM563 320h5v5h-5zM158 325h5v5h-5zM563 325h5v5h-5zM163 330h5v5h-5zM203 330h5v5h-5zM323 330h5v5h-5zM53 340h5v5h-5zM573 340h5v5h-5zM48 350h5v5h-5zM28 355h20v5h-20zM543 380h5v5h-5zM563 385h5v5h-5zM573 390h5v5h-5zM508 405h5v5h-5z"/>
<path fill="#8d8d8d" d="M313 80h5v5h-5zM503 85h5v5h-5zM358 90h5v5h-5zM503 90h5v5h-5zM373 95h5v5h-5zM483 95h5v5h-5zM498 95h10v5h-10zM383 100h5v5h-5zM453 100h5v5h-5zM408 105h15v5h-15zM433 105h5v5h-5zM628 150h5v5h-5zM623 155h5v5h-5zM618 160h5v5h-5zM388 165h5v5h-5zM403 165h5v5h-5zM618 165h5v5h-5zM413 175h5v5h-5zM628 180h5v5h-5zM118 185h5v5h-5zM123 190h5v5h-5zM368 190h5v5h-5zM368 195h5v5h-5zM368 200h5v5h-5zM638 210h5v5h-5zM388 225h5v5h-5zM643 225h5v5h-5zM648 235h5v5h-5zM108 240h5v5h-5zM293 250h5v5h-5zM333 250h5v5h-5zM348 265h5v5h-5zM103 270h5v5h-5zM683 275h5v5h-5zM263 280h5v5h-5zM603 280h5v5h-5zM568 290h5v5h-5zM613 290h5v5h-5zM163 295h5v5h-5zM703 295h5v5h-5zM563 300h5v5h-5zM613 300h5v5h-5zM153 305h5v5h-5zM218 305h5v5h-5zM263 305h5v5h-5zM613 305h5v5h-5zM713 310h5v5h-5zM733 315h5v5h-5zM153 320h5v5h-5zM218 320h5v5h-5zM723 320h5v5h-5zM213 325h5v5h-5zM333 325h5v5h-5zM603 325h5v5h-5zM283 330h5v5h-5zM563 330h5v5h-5zM593 330h5v5h-5zM58 335h5v5h-5zM168 335h5v5h-5zM308 335h10v5h-10zM588 335h5v5h-5zM178 340h10v5h-10zM28 360h20v5h-20zM538 380h5v5h-5zM548 380h10v5h-10zM578 395h5v5h-5zM503 415h5v5h-5zM503 420h5v5h-5zM503 425h5v5h-5zM588 425h5v5h-5z"/>
<path fill="#8e8e8e" d="M308 70h5v5h-5zM308 75h5v5h-5zM313 85h5v5h-5zM508 85h5v5h-5zM353 90h5v5h-5zM508 90h5v5h-5zM508 95h5v5h-5zM458 100h5v5h-5zM403 105h5v5h-5zM438 105h5v5h-5zM623 150h5v5h-5zM618 155h5v5h-5zM408 165h5v5h-5zM118 180h5v5h-5zM123 185h5v5h-5zM368 185h5v5h-5zM128 190h5v5h-5zM633 195h5v5h-5zM118 215h5v5h-5zM398 220h5v5h-5zM113 225h5v5h-5zM368 225h5v5h-5zM108 245h5v5h-5zM318 245h10v5h-10zM653 245h5v5h-5zM283 255h5v5h-5zM273 265h5v5h-5zM353 270h5v5h-5zM583 280h5v5h-5zM608 280h5v5h-5zM688 280h5v5h-5zM573 285h5v5h-5zM613 285h5v5h-5zM178 290h15v5h-15zM698 290h5v5h-5zM158 295h5v5h-5zM153 300h5v5h-5zM208 300h5v5h-5zM83 310h5v5h-5zM263 310h5v5h-5zM348 310h5v5h-5zM78 315h5v5h-5zM73 320h5v5h-5zM268 320h5v5h-5zM608 320h5v5h-5zM728 320h5v5h-5zM68 325h5v5h-5zM273 325h5v5h-5zM63 330h5v5h-5zM158 330h5v5h-5zM198 335h5v5h-5zM303 335h5v5h-5zM563 335h5v5h-5zM188 340h5v5h-5zM568 340h5v5h-5zM583 340h5v5h-5zM38 365h5v5h-5zM533 380h5v5h-5zM568 385h5v5h-5zM518 390h5v5h-5zM588 420h5v5h-5z"/>
<path fill="#8f8f8f" d="M308 80h5v5h-5zM308 85h5v5h-5zM513 85h5v5h-5zM348 90h5v5h-5zM513 90h5v5h-5zM368 95h5v5h-5zM463 100h5v5h-5zM398 105h5v5h-5zM443 105h5v5h-5zM618 145h5v5h-5zM613 150h10v5h-10zM613 155h5v5h-5zM393 160h15v5h-15zM613 160h5v5h-5zM383 165h5v5h-5zM378 170h5v5h-5zM413 170h5v5h-5zM373 175h5v5h-5zM623 175h5v5h-5zM418 180h5v5h-5zM418 185h5v5h-5zM628 185h5v5h-5zM418 190h5v5h-5zM128 195h5v5h-5zM418 195h5v5h-5zM418 200h5v5h-5zM123 205h5v5h-5zM413 210h5v5h-5zM363 215h5v5h-5zM638 215h5v5h-5zM363 220h5v5h-5zM643 230h5v5h-5zM313 245h5v5h-5zM328 245h5v5h-5zM108 250h5v5h-5zM343 255h5v5h-5zM348 260h5v5h-5zM668 265h5v5h-5zM268 270h5v5h-5zM263 275h5v5h-5zM593 275h5v5h-5zM98 285h5v5h-5zM693 285h5v5h-5zM173 290h5v5h-5zM93 295h5v5h-5zM198 295h5v5h-5zM563 295h5v5h-5zM213 300h5v5h-5zM353 300h5v5h-5zM148 305h5v5h-5zM708 305h5v5h-5zM148 310h5v5h-5zM613 310h5v5h-5zM148 315h5v5h-5zM343 320h5v5h-5zM718 320h5v5h-5zM733 320h10v5h-10zM153 325h5v5h-5zM208 330h5v5h-5zM598 330h5v5h-5zM318 335h5v5h-5zM173 340h5v5h-5zM53 345h5v5h-5zM28 365h10v5h-10zM43 365h5v5h-5zM28 370h15v5h-15zM558 380h5v5h-5zM523 385h5v5h-5zM583 405h5v5h-5zM503 410h5v5h-5zM588 415h5v5h-5z"/>
<path fill="#909090" d="M518 85h5v5h-5zM343 90h5v5h-5zM518 90h5v5h-5zM513 95h10v5h-10zM378 100h5v5h-5zM508 100h10v5h-10zM393 105h5v5h-5zM613 145h5v5h-5zM608 150h5v5h-5zM608 155h5v5h-5zM388 160h5v5h-5zM418 175h5v5h-5zM123 180h5v5h-5zM128 185h5v5h-5zM633 200h5v5h-5zM418 205h5v5h-5zM408 215h5v5h-5zM638 220h5v5h-5zM113 230h5v5h-5zM373 230h10v5h-10zM338 250h5v5h-5zM108 255h5v5h-5zM663 260h5v5h-5zM353 265h5v5h-5zM673 270h5v5h-5zM103 275h5v5h-5zM588 275h5v5h-5zM598 275h10v5h-10zM578 280h5v5h-5zM613 280h5v5h-5zM258 285h5v5h-5zM168 290h5v5h-5zM193 290h5v5h-5zM258 290h5v5h-5zM618 290h5v5h-5zM153 295h5v5h-5zM258 295h5v5h-5zM618 295h5v5h-5zM148 300h5v5h-5zM258 300h5v5h-5zM618 300h5v5h-5zM88 305h5v5h-5zM223 310h5v5h-5zM223 315h5v5h-5zM263 315h5v5h-5zM613 315h5v5h-5zM148 320h5v5h-5zM218 325h5v5h-5zM338 325h5v5h-5zM723 325h10v5h-10zM278 330h5v5h-5zM328 330h5v5h-5zM163 335h5v5h-5zM298 335h5v5h-5zM58 340h5v5h-5zM573 345h10v5h-10zM48 355h5v5h-5zM33 375h10v5h-10zM563 380h5v5h-5zM573 385h5v5h-5zM578 390h5v5h-5zM513 395h5v5h-5z"/>
<path fill="#919191" d="M303 75h5v5h-5zM338 90h5v5h-5zM523 90h5v5h-5zM363 95h5v5h-5zM523 95h5v5h-5zM468 100h5v5h-5zM518 100h10v5h-10zM448 105h5v5h-5zM608 140h10v5h-10zM603 145h10v5h-10zM603 150h5v5h-5zM408 160h5v5h-5zM413 165h5v5h-5zM618 170h5v5h-5zM368 180h5v5h-5zM628 190h5v5h-5zM363 210h5v5h-5zM118 220h5v5h-5zM363 225h5v5h-5zM393 225h5v5h-5zM383 230h5v5h-5zM648 240h5v5h-5zM303 245h10v5h-10zM288 250h5v5h-5zM353 255h5v5h-5zM658 255h5v5h-5zM108 260h5v5h-5zM353 260h5v5h-5zM358 270h5v5h-5zM358 275h5v5h-5zM608 275h5v5h-5zM678 275h5v5h-5zM258 280h5v5h-5zM358 280h5v5h-5zM568 285h5v5h-5zM618 285h5v5h-5zM163 290h5v5h-5zM563 290h5v5h-5zM218 300h5v5h-5zM703 300h5v5h-5zM223 305h5v5h-5zM258 305h5v5h-5zM258 310h5v5h-5zM258 315h5v5h-5zM348 315h5v5h-5zM713 315h5v5h-5zM223 320h5v5h-5zM263 320h5v5h-5zM268 325h5v5h-5zM608 325h5v5h-5zM733 325h5v5h-5zM153 330h5v5h-5zM203 335h5v5h-5zM293 335h5v5h-5zM193 340h5v5h-5zM563 340h5v5h-5zM568 345h5v5h-5zM43 370h5v5h-5zM23 375h10v5h-10zM538 375h20v5h-20zM38 380h5v5h-5zM528 380h5v5h-5zM23 385h10v5h-10zM508 400h5v5h-5zM583 400h5v5h-5z"/>
<path fill="#929292" d="M303 80h5v5h-5zM303 85h5v5h-5zM328 90h10v5h-10zM528 90h5v5h-5zM528 95h15v5h-15zM473 100h5v5h-5zM503 100h5v5h-5zM528 100h15v5h-15zM388 105h5v5h-5zM528 105h10v5h-10zM598 130h5v5h-5zM598 135h15v5h-15zM593 140h15v5h-15zM598 145h5v5h-5zM393 155h10v5h-10zM383 160h5v5h-5zM418 170h5v5h-5zM123 175h5v5h-5zM128 180h5v5h-5zM623 180h5v5h-5zM133 185h5v5h-5zM363 190h5v5h-5zM633 205h5v5h-5zM123 210h5v5h-5zM403 220h5v5h-5zM368 230h5v5h-5zM113 235h5v5h-5zM323 240h5v5h-5zM298 245h5v5h-5zM333 245h5v5h-5zM343 250h20v5h-20zM278 255h5v5h-5zM348 255h5v5h-5zM358 255h5v5h-5zM273 260h5v5h-5zM358 260h5v5h-5zM358 265h5v5h-5zM358 285h5v5h-5zM158 290h5v5h-5zM203 295h5v5h-5zM698 295h5v5h-5zM248 305h10v5h-10zM618 305h5v5h-5zM248 310h10v5h-10zM248 315h10v5h-10zM258 320h5v5h-5zM263 325h5v5h-5zM738 325h5v5h-5zM68 330h5v5h-5zM603 330h5v5h-5zM63 335h5v5h-5zM288 335h5v5h-5zM323 335h5v5h-5zM593 335h5v5h-5zM588 340h5v5h-5zM583 345h5v5h-5zM553 365h10v5h-10zM543 370h25v5h-25zM533 375h5v5h-5zM558 375h10v5h-10zM23 380h15v5h-15zM568 380h5v5h-5zM33 385h10v5h-10zM23 390h20v5h-20zM583 395h5v5h-5zM588 410h5v5h-5z"/>
<path fill="#939393" d="M298 75h5v5h-5zM323 90h5v5h-5zM358 95h5v5h-5zM373 100h5v5h-5zM478 100h10v5h-10zM498 100h5v5h-5zM543 100h5v5h-5zM453 105h5v5h-5zM523 105h5v5h-5zM538 105h10v5h-10zM538 110h5v5h-5zM593 125h5v5h-5zM588 130h10v5h-10zM588 135h10v5h-10zM588 140h5v5h-5zM388 155h5v5h-5zM403 155h5v5h-5zM378 165h5v5h-5zM613 165h5v5h-5zM363 185h5v5h-5zM133 190h5v5h-5zM363 195h5v5h-5zM128 200h5v5h-5zM363 205h5v5h-5zM638 225h5v5h-5zM363 230h5v5h-5zM643 235h5v5h-5zM328 240h5v5h-5zM338 245h25v5h-25zM653 250h5v5h-5zM108 265h5v5h-5zM583 275h5v5h-5zM613 275h5v5h-5zM103 280h5v5h-5zM253 280h5v5h-5zM618 280h5v5h-5zM683 280h5v5h-5zM183 285h5v5h-5zM253 285h5v5h-5zM688 285h5v5h-5zM98 290h5v5h-5zM153 290h5v5h-5zM253 290h5v5h-5zM693 290h5v5h-5zM148 295h5v5h-5zM253 295h5v5h-5zM623 295h5v5h-5zM93 300h5v5h-5zM223 300h5v5h-5zM248 300h10v5h-10zM143 305h5v5h-5zM228 305h5v5h-5zM243 305h5v5h-5zM558 305h5v5h-5zM143 310h5v5h-5zM228 310h5v5h-5zM243 310h5v5h-5zM558 310h5v5h-5zM83 315h5v5h-5zM143 315h5v5h-5zM228 315h5v5h-5zM243 315h5v5h-5zM558 315h5v5h-5zM78 320h5v5h-5zM253 320h5v5h-5zM558 320h5v5h-5zM613 320h5v5h-5zM73 325h5v5h-5zM148 325h5v5h-5zM558 325h5v5h-5zM213 330h5v5h-5zM273 330h5v5h-5zM333 330h5v5h-5zM558 330h5v5h-5zM723 330h10v5h-10zM158 335h5v5h-5zM168 340h5v5h-5zM178 345h5v5h-5zM563 345h5v5h-5zM53 350h5v5h-5zM573 350h10v5h-10zM48 360h5v5h-5zM553 360h15v5h-15zM548 365h5v5h-5zM563 365h5v5h-5zM538 370h5v5h-5zM568 370h5v5h-5zM568 375h5v5h-5zM573 380h5v5h-5zM578 385h10v5h-10zM583 390h5v5h-5zM23 395h20v5h-20zM503 405h5v5h-5zM498 420h5v5h-5z"/>
<path fill="#949494" d="M298 80h5v5h-5zM318 90h5v5h-5zM488 100h10v5h-10zM548 100h5v5h-5zM548 105h5v5h-5zM423 110h15v5h-15zM533 110h5v5h-5zM543 110h5v5h-5zM583 125h10v5h-10zM583 130h5v5h-5zM583 135h5v5h-5zM593 145h5v5h-5zM373 170h5v5h-5zM128 175h5v5h-5zM368 175h5v5h-5zM133 180h5v5h-5zM628 195h5v5h-5zM363 200h5v5h-5zM633 210h5v5h-5zM358 220h5v5h-5zM118 225h5v5h-5zM358 225h5v5h-5zM388 230h5v5h-5zM323 235h10v5h-10zM363 235h20v5h-20zM113 240h5v5h-5zM318 240h5v5h-5zM333 240h35v5h-35zM363 245h5v5h-5zM363 250h5v5h-5zM363 255h5v5h-5zM363 260h5v5h-5zM268 265h5v5h-5zM363 265h5v5h-5zM363 270h5v5h-5zM253 275h10v5h-10zM573 280h5v5h-5zM178 285h5v5h-5zM188 285h5v5h-5zM198 290h5v5h-5zM248 290h5v5h-5zM358 290h5v5h-5zM623 290h5v5h-5zM208 295h5v5h-5zM248 295h5v5h-5zM143 300h5v5h-5zM243 300h5v5h-5zM238 305h5v5h-5zM353 305h5v5h-5zM88 310h5v5h-5zM233 310h10v5h-10zM618 310h5v5h-5zM708 310h5v5h-5zM238 315h5v5h-5zM248 320h5v5h-5zM223 325h5v5h-5zM258 325h5v5h-5zM268 330h5v5h-5zM733 330h5v5h-5zM558 335h5v5h-5zM558 340h5v5h-5zM183 345h5v5h-5zM568 350h5v5h-5zM558 355h10v5h-10zM568 360h5v5h-5zM543 365h5v5h-5zM568 365h5v5h-5zM573 370h5v5h-5zM43 375h5v5h-5zM573 375h5v5h-5zM578 380h5v5h-5zM23 400h15v5h-15zM23 405h15v5h-15zM23 410h15v5h-15zM23 415h15v5h-15zM23 420h15v5h-15zM498 425h5v5h-5z"/>
<path fill="#959595" d="M313 90h5v5h-5zM353 95h5v5h-5zM383 105h5v5h-5zM458 105h5v5h-5zM518 105h5v5h-5zM553 105h10v5h-10zM413 110h10v5h-10zM438 110h5v5h-5zM548 110h25v5h-25zM548 115h20v5h-20zM578 115h5v5h-5zM558 120h5v5h-5zM573 120h15v5h-15zM573 125h10v5h-10zM578 130h5v5h-5zM598 150h5v5h-5zM383 155h5v5h-5zM408 155h5v5h-5zM603 155h5v5h-5zM413 160h5v5h-5zM608 160h5v5h-5zM423 180h5v5h-5zM418 210h5v5h-5zM358 215h5v5h-5zM413 215h5v5h-5zM398 225h5v5h-5zM358 230h5v5h-5zM333 235h30v5h-30zM368 240h5v5h-5zM113 245h5v5h-5zM293 245h5v5h-5zM663 265h5v5h-5zM108 270h5v5h-5zM263 270h5v5h-5zM593 270h15v5h-15zM668 270h5v5h-5zM363 275h5v5h-5zM248 280h5v5h-5zM173 285h5v5h-5zM248 285h5v5h-5zM623 285h5v5h-5zM213 295h5v5h-5zM243 295h5v5h-5zM358 295h5v5h-5zM228 300h5v5h-5zM238 300h5v5h-5zM558 300h5v5h-5zM623 300h5v5h-5zM233 305h5v5h-5zM233 315h5v5h-5zM143 320h5v5h-5zM228 320h5v5h-5zM243 320h5v5h-5zM343 325h5v5h-5zM718 325h5v5h-5zM263 330h5v5h-5zM608 330h5v5h-5zM738 330h5v5h-5zM198 340h5v5h-5zM58 345h5v5h-5zM563 350h5v5h-5zM568 355h10v5h-10zM548 360h5v5h-5zM573 365h5v5h-5zM533 370h5v5h-5zM578 375h5v5h-5zM583 380h5v5h-5zM518 385h5v5h-5zM38 400h5v5h-5zM498 415h5v5h-5zM23 425h15v5h-15z"/>
<path fill="#969696" d="M298 85h5v5h-5zM308 90h5v5h-5zM348 95h5v5h-5zM368 100h5v5h-5zM463 105h5v5h-5zM403 110h10v5h-10zM443 110h5v5h-5zM543 115h5v5h-5zM568 115h10v5h-10zM563 120h10v5h-10zM568 125h5v5h-5zM573 130h5v5h-5zM393 150h10v5h-10zM378 160h5v5h-5zM418 165h5v5h-5zM423 175h5v5h-5zM618 175h5v5h-5zM363 180h5v5h-5zM423 185h5v5h-5zM623 185h5v5h-5zM423 190h5v5h-5zM628 200h5v5h-5zM123 215h5v5h-5zM633 215h5v5h-5zM353 230h5v5h-5zM638 230h5v5h-5zM313 240h5v5h-5zM368 245h5v5h-5zM648 245h5v5h-5zM283 250h5v5h-5zM658 260h5v5h-5zM588 270h5v5h-5zM618 275h5v5h-5zM673 275h5v5h-5zM168 285h5v5h-5zM193 285h5v5h-5zM148 290h5v5h-5zM243 290h5v5h-5zM143 295h5v5h-5zM218 295h5v5h-5zM238 295h5v5h-5zM558 295h5v5h-5zM233 300h5v5h-5zM93 305h5v5h-5zM703 305h5v5h-5zM233 320h10v5h-10zM348 320h5v5h-5zM253 325h5v5h-5zM613 325h5v5h-5zM148 330h5v5h-5zM208 335h5v5h-5zM283 335h5v5h-5zM328 335h5v5h-5zM598 335h5v5h-5zM63 340h5v5h-5zM308 340h10v5h-10zM173 345h5v5h-5zM188 345h5v5h-5zM558 345h5v5h-5zM588 345h5v5h-5zM558 350h5v5h-5zM583 350h5v5h-5zM553 355h5v5h-5zM578 355h5v5h-5zM573 360h5v5h-5zM538 365h5v5h-5zM578 370h5v5h-5zM528 375h5v5h-5zM523 380h5v5h-5zM588 385h5v5h-5zM513 390h5v5h-5zM588 390h5v5h-5zM38 405h5v5h-5zM588 405h5v5h-5zM593 420h5v5h-5z"/>
<path fill="#979797" d="M303 90h5v5h-5zM398 110h5v5h-5zM553 120h5v5h-5zM563 125h5v5h-5zM578 135h5v5h-5zM388 150h5v5h-5zM403 150h5v5h-5zM128 170h5v5h-5zM133 175h5v5h-5zM138 180h5v5h-5zM423 195h5v5h-5zM423 200h5v5h-5zM128 205h5v5h-5zM358 210h5v5h-5zM408 220h5v5h-5zM633 220h5v5h-5zM353 225h5v5h-5zM118 230h5v5h-5zM348 230h5v5h-5zM318 235h5v5h-5zM383 235h5v5h-5zM373 240h5v5h-5zM113 250h5v5h-5zM368 250h5v5h-5zM608 270h5v5h-5zM108 275h5v5h-5zM248 275h5v5h-5zM578 275h5v5h-5zM363 280h5v5h-5zM623 280h5v5h-5zM103 285h5v5h-5zM158 285h10v5h-10zM243 285h5v5h-5zM563 285h5v5h-5zM98 295h5v5h-5zM223 295h5v5h-5zM233 295h5v5h-5zM698 300h5v5h-5zM623 305h5v5h-5zM353 310h5v5h-5zM618 315h5v5h-5zM713 320h5v5h-5zM228 325h5v5h-5zM218 330h5v5h-5zM258 330h5v5h-5zM338 330h5v5h-5zM68 335h5v5h-5zM153 335h5v5h-5zM728 335h5v5h-5zM163 340h5v5h-5zM318 340h5v5h-5zM593 340h5v5h-5zM578 360h5v5h-5zM48 365h5v5h-5zM578 365h5v5h-5zM583 375h5v5h-5zM43 380h5v5h-5zM38 410h5v5h-5zM498 410h5v5h-5zM38 415h5v5h-5zM38 420h5v5h-5zM593 425h5v5h-5z"/>
<path fill="#989898" d="M293 75h5v5h-5zM293 80h5v5h-5zM343 95h5v5h-5zM363 100h5v5h-5zM378 105h5v5h-5zM468 105h5v5h-5zM513 105h5v5h-5zM393 110h5v5h-5zM448 110h5v5h-5zM528 110h5v5h-5zM583 140h5v5h-5zM413 155h5v5h-5zM373 165h5v5h-5zM368 170h5v5h-5zM423 170h5v5h-5zM138 185h5v5h-5zM623 190h5v5h-5zM133 195h5v5h-5zM628 205h5v5h-5zM353 220h5v5h-5zM323 230h25v5h-25zM393 230h5v5h-5zM378 240h5v5h-5zM643 240h5v5h-5zM113 255h5v5h-5zM273 255h5v5h-5zM368 255h5v5h-5zM653 255h5v5h-5zM368 260h5v5h-5zM368 265h5v5h-5zM253 270h10v5h-10zM368 270h5v5h-5zM613 270h5v5h-5zM678 280h5v5h-5zM153 285h5v5h-5zM203 290h5v5h-5zM238 290h5v5h-5zM628 290h5v5h-5zM228 295h5v5h-5zM628 295h5v5h-5zM693 295h5v5h-5zM138 305h5v5h-5zM138 310h5v5h-5zM88 315h5v5h-5zM83 320h5v5h-5zM78 325h5v5h-5zM143 325h5v5h-5zM248 325h5v5h-5zM73 330h5v5h-5zM603 335h5v5h-5zM733 335h5v5h-5zM303 340h5v5h-5zM553 350h5v5h-5zM53 355h5v5h-5zM548 355h5v5h-5zM583 355h5v5h-5zM543 360h5v5h-5zM533 365h5v5h-5zM583 370h5v5h-5zM588 380h5v5h-5zM508 395h5v5h-5zM588 400h5v5h-5zM593 415h5v5h-5zM38 425h5v5h-5z"/>
<path fill="#999999" d="M293 85h5v5h-5zM298 90h5v5h-5zM338 95h5v5h-5zM473 105h5v5h-5zM453 110h5v5h-5zM568 130h5v5h-5zM383 150h5v5h-5zM408 150h5v5h-5zM378 155h5v5h-5zM418 160h5v5h-5zM133 170h5v5h-5zM613 170h5v5h-5zM138 175h5v5h-5zM358 190h5v5h-5zM358 195h5v5h-5zM358 205h5v5h-5zM423 205h5v5h-5zM123 220h5v5h-5zM348 225h5v5h-5zM403 225h5v5h-5zM633 225h5v5h-5zM118 235h5v5h-5zM638 235h5v5h-5zM308 240h5v5h-5zM373 245h5v5h-5zM113 260h5v5h-5zM583 270h5v5h-5zM243 280h5v5h-5zM568 280h5v5h-5zM198 285h5v5h-5zM628 285h5v5h-5zM683 285h5v5h-5zM143 290h5v5h-5zM233 290h5v5h-5zM688 290h5v5h-5zM98 300h5v5h-5zM138 300h5v5h-5zM358 300h5v5h-5zM628 300h5v5h-5zM93 310h5v5h-5zM138 315h5v5h-5zM708 315h5v5h-5zM618 320h5v5h-5zM233 325h5v5h-5zM243 325h5v5h-5zM278 335h5v5h-5zM333 335h5v5h-5zM723 335h5v5h-5zM738 335h10v5h-10zM203 340h5v5h-5zM323 340h5v5h-5zM553 340h5v5h-5zM193 345h5v5h-5zM553 345h5v5h-5zM588 350h5v5h-5zM583 360h5v5h-5zM583 365h5v5h-5zM528 370h5v5h-5zM43 385h5v5h-5zM588 395h5v5h-5zM503 400h5v5h-5z"/>
<path fill="#9a9a9a" d="M288 75h5v5h-5zM293 90h5v5h-5zM333 95h5v5h-5zM358 100h5v5h-5zM373 105h5v5h-5zM478 105h5v5h-5zM508 105h5v5h-5zM388 110h5v5h-5zM458 110h5v5h-5zM428 115h10v5h-10zM538 115h5v5h-5zM558 125h5v5h-5zM393 145h5v5h-5zM588 145h5v5h-5zM373 160h5v5h-5zM363 175h5v5h-5zM618 180h5v5h-5zM358 185h5v5h-5zM623 195h5v5h-5zM358 200h5v5h-5zM628 210h5v5h-5zM353 215h5v5h-5zM343 225h5v5h-5zM318 230h5v5h-5zM303 240h5v5h-5zM288 245h5v5h-5zM648 250h5v5h-5zM268 260h5v5h-5zM113 265h5v5h-5zM263 265h5v5h-5zM658 265h5v5h-5zM618 270h5v5h-5zM663 270h5v5h-5zM368 275h5v5h-5zM623 275h5v5h-5zM108 280h5v5h-5zM178 280h15v5h-15zM628 280h5v5h-5zM148 285h5v5h-5zM238 285h5v5h-5zM363 285h5v5h-5zM103 290h5v5h-5zM208 290h5v5h-5zM228 290h5v5h-5zM558 290h5v5h-5zM138 295h5v5h-5zM623 310h5v5h-5zM353 315h5v5h-5zM138 320h5v5h-5zM238 325h5v5h-5zM348 325h5v5h-5zM223 330h5v5h-5zM253 330h5v5h-5zM343 330h5v5h-5zM613 330h5v5h-5zM213 335h5v5h-5zM263 335h15v5h-15zM553 335h5v5h-5zM298 340h5v5h-5zM328 340h5v5h-5zM728 340h5v5h-5zM593 345h5v5h-5zM58 350h5v5h-5zM538 360h5v5h-5zM588 375h5v5h-5zM498 405h5v5h-5zM493 415h5v5h-5zM493 420h5v5h-5zM493 425h5v5h-5z"/>
<path fill="#9b9b9b" d="M288 80h5v5h-5zM328 95h5v5h-5zM483 105h5v5h-5zM503 105h5v5h-5zM383 110h5v5h-5zM423 115h5v5h-5zM438 115h10v5h-10zM548 120h5v5h-5zM388 145h5v5h-5zM398 145h5v5h-5zM133 165h5v5h-5zM368 165h5v5h-5zM423 165h5v5h-5zM608 165h5v5h-5zM138 170h5v5h-5zM133 200h5v5h-5zM128 210h5v5h-5zM353 210h5v5h-5zM418 215h5v5h-5zM628 215h5v5h-5zM348 220h5v5h-5zM413 220h5v5h-5zM123 225h5v5h-5zM338 225h5v5h-5zM633 230h5v5h-5zM313 235h5v5h-5zM388 235h5v5h-5zM118 240h5v5h-5zM643 245h5v5h-5zM278 250h5v5h-5zM373 250h5v5h-5zM653 260h5v5h-5zM593 265h20v5h-20zM248 270h5v5h-5zM243 275h5v5h-5zM668 275h5v5h-5zM158 280h20v5h-20zM213 290h15v5h-15zM628 305h5v5h-5zM553 310h5v5h-5zM703 310h5v5h-5zM553 315h5v5h-5zM88 320h5v5h-5zM553 320h5v5h-5zM83 325h5v5h-5zM553 325h5v5h-5zM78 330h5v5h-5zM143 330h5v5h-5zM553 330h5v5h-5zM718 330h5v5h-5zM73 335h5v5h-5zM148 335h5v5h-5zM258 335h5v5h-5zM338 335h5v5h-5zM608 335h5v5h-5zM68 340h5v5h-5zM158 340h5v5h-5zM293 340h5v5h-5zM598 340h5v5h-5zM733 340h5v5h-5zM63 345h5v5h-5zM168 345h5v5h-5zM548 350h5v5h-5zM543 355h5v5h-5zM588 355h5v5h-5zM53 360h5v5h-5zM48 370h5v5h-5zM523 375h5v5h-5zM518 380h5v5h-5zM513 385h5v5h-5zM593 385h5v5h-5zM43 390h5v5h-5zM593 390h5v5h-5zM593 410h5v5h-5z"/>
<path fill="#9c9c9c" d="M288 85h5v5h-5zM323 95h5v5h-5zM353 100h5v5h-5zM368 105h5v5h-5zM488 105h15v5h-15zM463 110h5v5h-5zM523 110h5v5h-5zM408 115h15v5h-15zM448 115h5v5h-5zM573 135h5v5h-5zM403 145h5v5h-5zM378 150h5v5h-5zM413 150h5v5h-5zM593 150h5v5h-5zM373 155h5v5h-5zM418 155h5v5h-5zM598 155h5v5h-5zM603 160h5v5h-5zM143 175h5v5h-5zM358 180h5v5h-5zM618 185h5v5h-5zM138 190h5v5h-5zM623 200h5v5h-5zM628 220h5v5h-5zM333 225h5v5h-5zM398 230h5v5h-5zM298 240h5v5h-5zM383 240h5v5h-5zM638 240h5v5h-5zM118 245h5v5h-5zM378 245h5v5h-5zM373 255h5v5h-5zM258 265h5v5h-5zM613 265h5v5h-5zM113 270h5v5h-5zM573 275h5v5h-5zM153 280h5v5h-5zM193 280h5v5h-5zM238 280h5v5h-5zM673 280h5v5h-5zM108 285h5v5h-5zM143 285h5v5h-5zM203 285h5v5h-5zM233 285h5v5h-5zM678 285h5v5h-5zM138 290h5v5h-5zM363 290h5v5h-5zM633 290h5v5h-5zM103 295h5v5h-5zM633 295h5v5h-5zM693 300h5v5h-5zM98 305h5v5h-5zM133 305h5v5h-5zM358 305h5v5h-5zM553 305h5v5h-5zM698 305h5v5h-5zM133 310h5v5h-5zM93 315h5v5h-5zM623 315h5v5h-5zM353 320h5v5h-5zM138 325h5v5h-5zM618 325h5v5h-5zM713 325h5v5h-5zM228 330h5v5h-5zM248 330h5v5h-5zM208 340h5v5h-5zM288 340h5v5h-5zM333 340h5v5h-5zM738 340h5v5h-5zM198 345h5v5h-5zM313 345h10v5h-10zM593 350h5v5h-5zM533 360h5v5h-5zM588 360h5v5h-5zM528 365h5v5h-5zM588 365h5v5h-5zM588 370h5v5h-5zM593 395h5v5h-5zM493 410h5v5h-5z"/>
<path fill="#9d9d9d" d="M318 95h5v5h-5zM348 100h5v5h-5zM378 110h5v5h-5zM468 110h5v5h-5zM398 115h10v5h-10zM453 115h5v5h-5zM383 145h5v5h-5zM408 145h5v5h-5zM423 160h5v5h-5zM363 170h5v5h-5zM428 175h5v5h-5zM613 175h5v5h-5zM143 180h5v5h-5zM428 180h5v5h-5zM353 205h5v5h-5zM623 205h5v5h-5zM423 210h5v5h-5zM128 215h5v5h-5zM348 215h5v5h-5zM343 220h5v5h-5zM328 225h5v5h-5zM408 225h5v5h-5zM628 225h5v5h-5zM123 230h5v5h-5zM313 230h5v5h-5zM633 235h5v5h-5zM118 250h5v5h-5zM648 255h5v5h-5zM373 260h5v5h-5zM253 265h5v5h-5zM373 265h5v5h-5zM588 265h5v5h-5zM373 270h5v5h-5zM623 270h5v5h-5zM113 275h5v5h-5zM628 275h5v5h-5zM148 280h5v5h-5zM198 280h5v5h-5zM368 280h5v5h-5zM228 285h5v5h-5zM633 285h5v5h-5zM683 290h5v5h-5zM363 295h5v5h-5zM688 295h5v5h-5zM133 300h5v5h-5zM553 300h5v5h-5zM98 310h5v5h-5zM133 315h5v5h-5zM348 330h5v5h-5zM218 335h5v5h-5zM253 335h5v5h-5zM343 335h5v5h-5zM283 340h5v5h-5zM603 340h5v5h-5zM723 340h5v5h-5zM743 340h5v5h-5zM308 345h5v5h-5zM323 345h5v5h-5zM598 345h5v5h-5zM178 350h10v5h-10zM593 380h5v5h-5zM508 390h5v5h-5zM43 395h5v5h-5zM593 400h5v5h-5zM593 405h5v5h-5z"/>
<path fill="#9e9e9e" d="M288 90h5v5h-5zM313 95h5v5h-5zM343 100h5v5h-5zM363 105h5v5h-5zM473 110h5v5h-5zM388 115h10v5h-10zM458 115h5v5h-5zM533 115h5v5h-5zM428 120h15v5h-15zM563 130h5v5h-5zM388 140h15v5h-15zM413 145h5v5h-5zM418 150h5v5h-5zM368 160h5v5h-5zM138 165h5v5h-5zM143 170h5v5h-5zM428 170h5v5h-5zM358 175h5v5h-5zM428 185h5v5h-5zM353 190h5v5h-5zM618 190h5v5h-5zM353 195h5v5h-5zM353 200h5v5h-5zM623 210h5v5h-5zM623 215h5v5h-5zM338 220h5v5h-5zM323 225h5v5h-5zM628 230h5v5h-5zM123 235h5v5h-5zM308 235h5v5h-5zM393 235h5v5h-5zM293 240h5v5h-5zM283 245h5v5h-5zM643 250h5v5h-5zM118 255h5v5h-5zM268 255h5v5h-5zM118 260h5v5h-5zM263 260h5v5h-5zM618 265h5v5h-5zM653 265h5v5h-5zM578 270h5v5h-5zM658 270h5v5h-5zM663 275h5v5h-5zM113 280h5v5h-5zM633 280h5v5h-5zM138 285h5v5h-5zM208 285h10v5h-10zM223 285h5v5h-5zM108 290h5v5h-5zM133 295h5v5h-5zM103 300h5v5h-5zM633 300h5v5h-5zM358 310h5v5h-5zM628 310h5v5h-5zM93 320h5v5h-5zM133 320h5v5h-5zM623 320h5v5h-5zM708 320h5v5h-5zM88 325h5v5h-5zM353 325h5v5h-5zM83 330h5v5h-5zM233 330h15v5h-15zM618 330h5v5h-5zM78 335h5v5h-5zM613 335h5v5h-5zM73 340h5v5h-5zM153 340h5v5h-5zM203 345h5v5h-5zM328 345h5v5h-5zM548 345h5v5h-5zM728 345h5v5h-5zM188 350h5v5h-5zM58 355h5v5h-5zM538 355h5v5h-5zM593 355h5v5h-5zM523 370h5v5h-5zM48 375h5v5h-5zM503 395h5v5h-5zM43 400h5v5h-5zM498 400h5v5h-5zM493 405h5v5h-5zM488 420h5v5h-5zM488 425h5v5h-5z"/>
<path fill="#9f9f9f" d="M283 80h5v5h-5zM308 95h5v5h-5zM338 100h5v5h-5zM358 105h5v5h-5zM373 110h5v5h-5zM478 110h5v5h-5zM518 110h5v5h-5zM463 115h5v5h-5zM418 120h10v5h-10zM443 120h10v5h-10zM543 120h5v5h-5zM553 125h5v5h-5zM403 140h5v5h-5zM578 140h5v5h-5zM378 145h5v5h-5zM373 150h5v5h-5zM423 155h5v5h-5zM363 165h5v5h-5zM428 165h5v5h-5zM608 170h5v5h-5zM353 185h5v5h-5zM428 190h5v5h-5zM618 195h5v5h-5zM133 205h5v5h-5zM348 210h5v5h-5zM343 215h5v5h-5zM128 220h5v5h-5zM623 220h5v5h-5zM318 225h5v5h-5zM403 230h5v5h-5zM633 240h5v5h-5zM638 245h5v5h-5zM273 250h5v5h-5zM378 250h5v5h-5zM598 260h20v5h-20zM648 260h5v5h-5zM118 265h5v5h-5zM583 265h5v5h-5zM623 265h5v5h-5zM243 270h5v5h-5zM628 270h5v5h-5zM178 275h10v5h-10zM238 275h5v5h-5zM373 275h5v5h-5zM633 275h5v5h-5zM143 280h5v5h-5zM203 280h5v5h-5zM233 280h5v5h-5zM563 280h5v5h-5zM668 280h5v5h-5zM218 285h5v5h-5zM558 285h5v5h-5zM673 285h5v5h-5zM133 290h5v5h-5zM553 295h5v5h-5zM363 300h5v5h-5zM103 305h5v5h-5zM128 305h5v5h-5zM633 305h5v5h-5zM128 310h5v5h-5zM98 315h5v5h-5zM703 315h5v5h-5zM138 330h5v5h-5zM143 335h5v5h-5zM223 335h5v5h-5zM718 335h5v5h-5zM213 340h5v5h-5zM278 340h5v5h-5zM338 340h5v5h-5zM548 340h5v5h-5zM608 340h5v5h-5zM68 345h5v5h-5zM163 345h5v5h-5zM303 345h5v5h-5zM733 345h10v5h-10zM63 350h5v5h-5zM543 350h5v5h-5zM598 350h5v5h-5zM528 360h5v5h-5zM593 360h5v5h-5zM53 365h5v5h-5zM593 375h5v5h-5zM43 405h5v5h-5zM488 415h5v5h-5z"/>
<path fill="#a0a0a0" d="M283 85h5v5h-5zM298 95h10v5h-10zM368 110h5v5h-5zM383 115h5v5h-5zM398 120h20v5h-20zM453 120h5v5h-5zM383 140h5v5h-5zM408 140h5v5h-5zM418 145h5v5h-5zM583 145h5v5h-5zM423 150h5v5h-5zM368 155h5v5h-5zM613 180h5v5h-5zM143 185h5v5h-5zM138 195h5v5h-5zM428 195h5v5h-5zM618 200h5v5h-5zM348 205h5v5h-5zM333 220h5v5h-5zM623 225h5v5h-5zM308 230h5v5h-5zM303 235h5v5h-5zM628 235h5v5h-5zM123 240h5v5h-5zM388 240h5v5h-5zM123 245h5v5h-5zM383 245h5v5h-5zM643 255h5v5h-5zM258 260h5v5h-5zM593 260h5v5h-5zM618 260h5v5h-5zM248 265h5v5h-5zM648 265h5v5h-5zM118 270h5v5h-5zM653 270h5v5h-5zM118 275h5v5h-5zM153 275h25v5h-25zM188 275h5v5h-5zM138 280h5v5h-5zM228 280h5v5h-5zM638 280h5v5h-5zM113 285h5v5h-5zM133 285h5v5h-5zM368 285h5v5h-5zM638 285h5v5h-5zM638 290h5v5h-5zM678 290h5v5h-5zM108 295h5v5h-5zM128 295h5v5h-5zM638 295h5v5h-5zM683 295h5v5h-5zM128 300h5v5h-5zM688 300h5v5h-5zM693 305h5v5h-5zM103 310h5v5h-5zM698 310h5v5h-5zM128 315h5v5h-5zM358 315h5v5h-5zM628 315h5v5h-5zM98 320h5v5h-5zM93 325h5v5h-5zM133 325h5v5h-5zM623 325h5v5h-5zM88 330h5v5h-5zM353 330h5v5h-5zM83 335h5v5h-5zM248 335h5v5h-5zM348 335h5v5h-5zM548 335h5v5h-5zM258 340h20v5h-20zM298 345h5v5h-5zM333 345h5v5h-5zM603 345h5v5h-5zM743 345h5v5h-5zM173 350h5v5h-5zM193 350h5v5h-5zM533 355h5v5h-5zM593 365h5v5h-5zM593 370h5v5h-5zM518 375h5v5h-5zM48 380h5v5h-5zM513 380h5v5h-5zM508 385h5v5h-5zM598 390h5v5h-5zM43 410h5v5h-5zM488 410h5v5h-5zM598 415h5v5h-5zM598 420h5v5h-5zM598 425h5v5h-5z"/>
<path fill="#a1a1a1" d="M283 90h5v5h-5zM293 95h5v5h-5zM333 100h5v5h-5zM353 105h5v5h-5zM483 110h5v5h-5zM513 110h5v5h-5zM378 115h5v5h-5zM468 115h5v5h-5zM528 115h5v5h-5zM388 120h10v5h-10zM458 120h5v5h-5zM423 125h25v5h-25zM388 135h15v5h-15zM568 135h5v5h-5zM378 140h5v5h-5zM413 140h5v5h-5zM373 145h5v5h-5zM138 160h5v5h-5zM363 160h5v5h-5zM428 160h5v5h-5zM143 165h5v5h-5zM603 165h5v5h-5zM148 170h5v5h-5zM358 170h5v5h-5zM148 175h5v5h-5zM353 180h5v5h-5zM348 200h5v5h-5zM428 200h5v5h-5zM618 205h5v5h-5zM133 210h5v5h-5zM343 210h5v5h-5zM618 210h5v5h-5zM338 215h5v5h-5zM618 215h5v5h-5zM418 220h5v5h-5zM128 225h5v5h-5zM413 225h5v5h-5zM623 230h5v5h-5zM298 235h5v5h-5zM398 235h5v5h-5zM288 240h5v5h-5zM628 240h5v5h-5zM633 245h5v5h-5zM123 250h5v5h-5zM638 250h5v5h-5zM378 255h5v5h-5zM378 260h5v5h-5zM623 260h5v5h-5zM643 260h5v5h-5zM378 265h5v5h-5zM628 265h5v5h-5zM378 270h5v5h-5zM633 270h5v5h-5zM148 275h5v5h-5zM193 275h5v5h-5zM568 275h5v5h-5zM638 275h5v5h-5zM658 275h5v5h-5zM118 280h5v5h-5zM208 280h5v5h-5zM663 280h5v5h-5zM113 290h5v5h-5zM128 290h5v5h-5zM108 300h5v5h-5zM638 300h5v5h-5zM108 305h5v5h-5zM548 310h5v5h-5zM633 310h5v5h-5zM103 315h5v5h-5zM548 315h5v5h-5zM128 320h5v5h-5zM358 320h5v5h-5zM548 320h5v5h-5zM548 325h5v5h-5zM548 330h5v5h-5zM713 330h5v5h-5zM618 335h5v5h-5zM78 340h5v5h-5zM148 340h5v5h-5zM253 340h5v5h-5zM343 340h5v5h-5zM613 340h5v5h-5zM208 345h5v5h-5zM293 345h5v5h-5zM313 350h15v5h-15zM598 355h5v5h-5zM58 360h5v5h-5zM523 365h5v5h-5zM598 385h5v5h-5zM503 390h5v5h-5zM598 395h5v5h-5zM493 400h5v5h-5zM598 400h5v5h-5zM598 405h5v5h-5zM598 410h5v5h-5zM43 415h5v5h-5zM43 420h5v5h-5zM43 425h5v5h-5z"/>
<path fill="#a2a2a2" d="M288 95h5v5h-5zM328 100h5v5h-5zM348 105h5v5h-5zM363 110h5v5h-5zM488 110h5v5h-5zM508 110h5v5h-5zM373 115h5v5h-5zM383 120h5v5h-5zM393 125h30v5h-30zM448 125h5v5h-5zM388 130h15v5h-15zM558 130h5v5h-5zM383 135h5v5h-5zM403 135h10v5h-10zM418 140h5v5h-5zM423 145h5v5h-5zM368 150h5v5h-5zM588 150h5v5h-5zM428 155h5v5h-5zM593 155h5v5h-5zM598 160h5v5h-5zM613 185h5v5h-5zM348 195h5v5h-5zM423 215h5v5h-5zM328 220h5v5h-5zM618 220h5v5h-5zM313 225h5v5h-5zM618 225h5v5h-5zM128 230h5v5h-5zM408 230h5v5h-5zM623 235h5v5h-5zM393 240h5v5h-5zM623 240h5v5h-5zM278 245h5v5h-5zM628 245h5v5h-5zM633 250h5v5h-5zM123 255h5v5h-5zM263 255h5v5h-5zM608 255h15v5h-15zM638 255h5v5h-5zM123 260h5v5h-5zM253 260h5v5h-5zM588 260h5v5h-5zM123 265h5v5h-5zM633 265h5v5h-5zM643 265h5v5h-5zM573 270h5v5h-5zM638 270h15v5h-15zM123 275h5v5h-5zM143 275h5v5h-5zM198 275h5v5h-5zM233 275h5v5h-5zM643 275h5v5h-5zM653 275h5v5h-5zM123 280h15v5h-15zM213 280h15v5h-15zM373 280h5v5h-5zM643 280h5v5h-5zM118 285h15v5h-15zM643 285h5v5h-5zM668 285h5v5h-5zM118 290h10v5h-10zM368 290h5v5h-5zM553 290h5v5h-5zM673 290h5v5h-5zM113 295h5v5h-5zM123 300h5v5h-5zM123 305h5v5h-5zM363 305h5v5h-5zM548 305h5v5h-5zM108 310h5v5h-5zM123 310h5v5h-5zM123 315h5v5h-5zM103 320h5v5h-5zM628 320h5v5h-5zM98 325h5v5h-5zM93 330h5v5h-5zM623 330h5v5h-5zM88 335h5v5h-5zM228 335h5v5h-5zM243 335h5v5h-5zM218 340h5v5h-5zM73 345h5v5h-5zM158 345h5v5h-5zM288 345h5v5h-5zM543 345h5v5h-5zM608 345h5v5h-5zM723 345h5v5h-5zM68 350h5v5h-5zM198 350h5v5h-5zM538 350h5v5h-5zM603 350h5v5h-5zM728 350h10v5h-10zM63 355h5v5h-5zM528 355h5v5h-5zM598 360h5v5h-5zM53 370h5v5h-5zM48 385h5v5h-5zM498 395h5v5h-5zM488 405h5v5h-5z"/>
<path fill="#a3a3a3" d="M278 80h5v5h-5zM323 100h5v5h-5zM343 105h5v5h-5zM358 110h5v5h-5zM493 110h15v5h-15zM473 115h5v5h-5zM463 120h5v5h-5zM538 120h5v5h-5zM388 125h5v5h-5zM453 125h5v5h-5zM548 125h5v5h-5zM383 130h5v5h-5zM403 130h40v5h-40zM378 135h5v5h-5zM413 135h15v5h-15zM373 140h5v5h-5zM423 140h5v5h-5zM428 150h5v5h-5zM358 165h5v5h-5zM353 175h5v5h-5zM608 175h5v5h-5zM348 190h5v5h-5zM613 190h5v5h-5zM138 200h5v5h-5zM343 205h5v5h-5zM428 205h5v5h-5zM133 215h5v5h-5zM303 230h5v5h-5zM618 230h5v5h-5zM128 235h5v5h-5zM293 235h5v5h-5zM403 235h5v5h-5zM623 245h5v5h-5zM268 250h5v5h-5zM618 250h15v5h-15zM603 255h5v5h-5zM623 255h15v5h-15zM628 260h15v5h-15zM243 265h5v5h-5zM578 265h5v5h-5zM638 265h5v5h-5zM123 270h5v5h-5zM238 270h5v5h-5zM128 275h15v5h-15zM203 275h5v5h-5zM378 275h5v5h-5zM648 275h5v5h-5zM648 280h5v5h-5zM658 280h5v5h-5zM643 290h5v5h-5zM118 295h10v5h-10zM643 295h5v5h-5zM678 295h5v5h-5zM113 300h10v5h-10zM113 305h10v5h-10zM638 305h5v5h-5zM113 310h10v5h-10zM108 315h15v5h-15zM633 315h5v5h-5zM108 320h5v5h-5zM123 320h5v5h-5zM128 325h5v5h-5zM358 325h5v5h-5zM708 325h5v5h-5zM133 330h5v5h-5zM138 335h5v5h-5zM353 335h5v5h-5zM83 340h5v5h-5zM248 340h5v5h-5zM213 345h5v5h-5zM283 345h5v5h-5zM338 345h5v5h-5zM168 350h5v5h-5zM308 350h5v5h-5zM328 350h5v5h-5zM533 350h5v5h-5zM738 350h5v5h-5zM523 360h5v5h-5zM598 365h5v5h-5zM598 380h5v5h-5zM483 415h5v5h-5zM483 420h5v5h-5zM483 425h5v5h-5z"/>
<path fill="#a4a4a4" d="M278 85h5v5h-5zM283 95h5v5h-5zM368 115h5v5h-5zM478 115h5v5h-5zM523 115h5v5h-5zM378 120h5v5h-5zM468 120h5v5h-5zM383 125h5v5h-5zM458 125h5v5h-5zM443 130h5v5h-5zM428 135h10v5h-10zM428 140h5v5h-5zM573 140h5v5h-5zM368 145h5v5h-5zM428 145h5v5h-5zM363 155h5v5h-5zM143 160h5v5h-5zM148 165h5v5h-5zM433 165h5v5h-5zM433 170h5v5h-5zM433 175h5v5h-5zM148 180h5v5h-5zM433 180h5v5h-5zM348 185h5v5h-5zM143 190h5v5h-5zM613 195h5v5h-5zM613 200h5v5h-5zM613 205h5v5h-5zM338 210h5v5h-5zM613 210h5v5h-5zM333 215h5v5h-5zM613 215h5v5h-5zM323 220h5v5h-5zM613 220h5v5h-5zM308 225h5v5h-5zM618 235h5v5h-5zM128 240h5v5h-5zM283 240h5v5h-5zM618 240h5v5h-5zM128 245h5v5h-5zM388 245h5v5h-5zM618 245h5v5h-5zM383 250h5v5h-5zM613 250h5v5h-5zM258 255h5v5h-5zM598 255h5v5h-5zM248 260h5v5h-5zM383 265h5v5h-5zM128 270h5v5h-5zM143 270h50v5h-50zM383 270h5v5h-5zM228 275h5v5h-5zM653 280h5v5h-5zM648 285h5v5h-5zM663 285h5v5h-5zM668 290h5v5h-5zM368 295h5v5h-5zM548 300h5v5h-5zM643 300h5v5h-5zM683 300h5v5h-5zM688 305h5v5h-5zM363 310h5v5h-5zM693 310h5v5h-5zM698 315h5v5h-5zM113 320h10v5h-10zM703 320h5v5h-5zM103 325h5v5h-5zM628 325h5v5h-5zM98 330h5v5h-5zM358 330h5v5h-5zM93 335h5v5h-5zM233 335h10v5h-10zM143 340h5v5h-5zM223 340h5v5h-5zM348 340h5v5h-5zM718 340h5v5h-5zM78 345h5v5h-5zM153 345h5v5h-5zM253 345h15v5h-15zM203 350h5v5h-5zM743 350h5v5h-5zM523 355h5v5h-5zM603 355h5v5h-5zM518 370h5v5h-5zM598 370h5v5h-5zM598 375h5v5h-5zM508 380h5v5h-5zM48 390h5v5h-5zM483 410h5v5h-5z"/>
<path fill="#a5a5a5" d="M278 90h5v5h-5zM318 100h5v5h-5zM338 105h5v5h-5zM353 110h5v5h-5zM363 115h5v5h-5zM373 120h5v5h-5zM378 125h5v5h-5zM463 125h5v5h-5zM378 130h5v5h-5zM448 130h10v5h-10zM373 135h5v5h-5zM438 135h5v5h-5zM563 135h5v5h-5zM433 140h5v5h-5zM363 150h5v5h-5zM358 160h5v5h-5zM433 160h5v5h-5zM353 170h5v5h-5zM603 170h5v5h-5zM348 180h5v5h-5zM608 180h5v5h-5zM433 185h5v5h-5zM343 200h5v5h-5zM138 205h5v5h-5zM133 220h5v5h-5zM318 220h5v5h-5zM418 225h5v5h-5zM613 225h5v5h-5zM298 230h5v5h-5zM413 230h5v5h-5zM398 240h5v5h-5zM273 245h5v5h-5zM613 245h5v5h-5zM128 250h5v5h-5zM263 250h5v5h-5zM608 250h5v5h-5zM128 255h5v5h-5zM593 255h5v5h-5zM128 260h5v5h-5zM383 260h5v5h-5zM583 260h5v5h-5zM128 265h5v5h-5zM133 270h10v5h-10zM193 270h5v5h-5zM208 275h20v5h-20zM378 280h5v5h-5zM558 280h5v5h-5zM373 285h5v5h-5zM653 285h10v5h-10zM648 290h5v5h-5zM673 295h5v5h-5zM368 300h5v5h-5zM638 310h5v5h-5zM363 315h5v5h-5zM543 320h5v5h-5zM633 320h5v5h-5zM108 325h5v5h-5zM123 325h5v5h-5zM543 325h5v5h-5zM103 330h5v5h-5zM128 330h5v5h-5zM623 335h5v5h-5zM88 340h5v5h-5zM243 340h5v5h-5zM543 340h5v5h-5zM618 340h5v5h-5zM218 345h5v5h-5zM248 345h5v5h-5zM268 345h5v5h-5zM278 345h5v5h-5zM613 345h5v5h-5zM73 350h5v5h-5zM303 350h5v5h-5zM333 350h5v5h-5zM528 350h5v5h-5zM608 350h5v5h-5zM58 365h5v5h-5zM518 365h5v5h-5zM53 375h5v5h-5zM513 375h5v5h-5zM503 385h5v5h-5zM603 395h5v5h-5zM488 400h5v5h-5zM603 400h5v5h-5zM603 415h5v5h-5z"/>
<path fill="#a6a6a6" d="M273 80h5v5h-5zM313 100h5v5h-5zM348 110h5v5h-5zM358 115h5v5h-5zM483 115h5v5h-5zM518 115h5v5h-5zM368 120h5v5h-5zM473 120h5v5h-5zM533 120h5v5h-5zM373 125h5v5h-5zM373 130h5v5h-5zM458 130h5v5h-5zM443 135h5v5h-5zM368 140h5v5h-5zM433 145h5v5h-5zM578 145h5v5h-5zM433 150h5v5h-5zM143 155h5v5h-5zM433 155h5v5h-5zM153 170h5v5h-5zM343 195h5v5h-5zM338 205h5v5h-5zM428 210h5v5h-5zM328 215h5v5h-5zM423 220h5v5h-5zM133 225h5v5h-5zM613 230h5v5h-5zM288 235h5v5h-5zM408 235h5v5h-5zM613 235h5v5h-5zM613 240h5v5h-5zM393 245h5v5h-5zM603 250h5v5h-5zM253 255h5v5h-5zM383 255h5v5h-5zM133 265h5v5h-5zM198 270h5v5h-5zM233 270h5v5h-5zM383 275h5v5h-5zM563 275h5v5h-5zM553 285h5v5h-5zM653 290h15v5h-15zM548 295h5v5h-5zM648 295h5v5h-5zM678 300h5v5h-5zM643 305h5v5h-5zM543 315h5v5h-5zM113 325h10v5h-10zM543 330h5v5h-5zM628 330h5v5h-5zM98 335h5v5h-5zM133 335h5v5h-5zM543 335h5v5h-5zM713 335h5v5h-5zM93 340h5v5h-5zM228 340h5v5h-5zM83 345h5v5h-5zM273 345h5v5h-5zM343 345h5v5h-5zM538 345h5v5h-5zM163 350h5v5h-5zM208 350h5v5h-5zM298 350h5v5h-5zM523 350h5v5h-5zM68 355h5v5h-5zM183 355h10v5h-10zM313 355h15v5h-15zM733 355h5v5h-5zM63 360h5v5h-5zM518 360h5v5h-5zM603 360h5v5h-5zM498 390h5v5h-5zM603 390h5v5h-5zM48 395h5v5h-5zM493 395h5v5h-5zM483 405h5v5h-5zM603 405h5v5h-5zM603 410h5v5h-5zM603 420h5v5h-5zM603 425h5v5h-5z"/>
<path fill="#a7a7a7" d="M273 85h5v5h-5zM278 95h5v5h-5zM303 100h10v5h-10zM333 105h5v5h-5zM488 115h5v5h-5zM363 120h5v5h-5zM368 125h5v5h-5zM543 125h5v5h-5zM553 130h5v5h-5zM368 135h5v5h-5zM448 135h5v5h-5zM438 140h5v5h-5zM363 145h5v5h-5zM583 150h5v5h-5zM358 155h5v5h-5zM148 160h5v5h-5zM153 165h5v5h-5zM353 165h5v5h-5zM598 165h5v5h-5zM348 175h5v5h-5zM148 185h5v5h-5zM608 185h5v5h-5zM343 190h5v5h-5zM433 190h5v5h-5zM143 195h5v5h-5zM138 210h5v5h-5zM333 210h5v5h-5zM608 215h5v5h-5zM313 220h5v5h-5zM608 220h5v5h-5zM303 225h5v5h-5zM133 230h5v5h-5zM133 235h5v5h-5zM278 240h5v5h-5zM403 240h5v5h-5zM268 245h5v5h-5zM608 245h5v5h-5zM133 255h5v5h-5zM588 255h5v5h-5zM133 260h5v5h-5zM243 260h5v5h-5zM138 265h20v5h-20zM238 265h5v5h-5zM388 265h5v5h-5zM203 270h5v5h-5zM388 270h5v5h-5zM568 270h5v5h-5zM383 280h5v5h-5zM373 290h5v5h-5zM653 295h5v5h-5zM668 295h5v5h-5zM648 300h5v5h-5zM368 305h5v5h-5zM683 305h5v5h-5zM543 310h5v5h-5zM638 315h5v5h-5zM363 320h5v5h-5zM108 330h5v5h-5zM123 330h5v5h-5zM708 330h5v5h-5zM358 335h5v5h-5zM138 340h5v5h-5zM353 340h5v5h-5zM148 345h5v5h-5zM223 345h5v5h-5zM243 345h5v5h-5zM523 345h15v5h-15zM248 350h15v5h-15zM288 350h10v5h-10zM338 350h5v5h-5zM723 350h5v5h-5zM178 355h5v5h-5zM193 355h5v5h-5zM328 355h5v5h-5zM518 355h5v5h-5zM608 355h5v5h-5zM728 355h5v5h-5zM738 355h5v5h-5zM603 365h5v5h-5zM53 380h5v5h-5zM603 385h5v5h-5zM48 400h5v5h-5z"/>
<path fill="#a8a8a8" d="M298 100h5v5h-5zM328 105h5v5h-5zM343 110h5v5h-5zM353 115h5v5h-5zM493 115h5v5h-5zM513 115h5v5h-5zM468 125h5v5h-5zM368 130h5v5h-5zM463 130h5v5h-5zM453 135h5v5h-5zM363 140h5v5h-5zM443 140h5v5h-5zM568 140h5v5h-5zM438 145h5v5h-5zM588 155h5v5h-5zM593 160h5v5h-5zM153 175h5v5h-5zM603 175h5v5h-5zM343 185h5v5h-5zM608 190h5v5h-5zM433 195h5v5h-5zM608 195h5v5h-5zM338 200h5v5h-5zM608 205h5v5h-5zM608 210h5v5h-5zM323 215h5v5h-5zM608 225h5v5h-5zM293 230h5v5h-5zM608 230h5v5h-5zM608 235h5v5h-5zM133 240h5v5h-5zM608 240h5v5h-5zM133 245h5v5h-5zM398 245h5v5h-5zM133 250h5v5h-5zM258 250h5v5h-5zM388 250h5v5h-5zM598 250h5v5h-5zM248 255h5v5h-5zM138 260h5v5h-5zM388 260h5v5h-5zM578 260h5v5h-5zM158 265h25v5h-25zM393 265h5v5h-5zM573 265h5v5h-5zM208 270h5v5h-5zM223 270h10v5h-10zM393 270h5v5h-5zM388 275h5v5h-5zM378 285h5v5h-5zM373 295h5v5h-5zM658 295h10v5h-10zM673 300h5v5h-5zM543 305h5v5h-5zM643 310h5v5h-5zM688 310h5v5h-5zM693 315h5v5h-5zM698 320h5v5h-5zM363 325h5v5h-5zM633 325h5v5h-5zM703 325h5v5h-5zM113 330h10v5h-10zM103 335h5v5h-5zM128 335h5v5h-5zM98 340h5v5h-5zM233 340h10v5h-10zM523 340h10v5h-10zM538 340h5v5h-5zM623 340h5v5h-5zM88 345h5v5h-5zM348 345h5v5h-5zM618 345h5v5h-5zM718 345h5v5h-5zM78 350h5v5h-5zM213 350h5v5h-5zM243 350h5v5h-5zM263 350h10v5h-10zM283 350h5v5h-5zM518 350h5v5h-5zM613 350h5v5h-5zM198 355h5v5h-5zM308 355h5v5h-5zM743 355h10v5h-10zM58 370h5v5h-5zM513 370h5v5h-5zM603 370h5v5h-5zM508 375h5v5h-5zM603 375h5v5h-5zM503 380h5v5h-5zM603 380h5v5h-5zM48 405h5v5h-5zM478 415h5v5h-5zM478 420h5v5h-5zM478 425h5v5h-5z"/>
<path fill="#a9a9a9" d="M273 90h5v5h-5zM293 100h5v5h-5zM498 115h15v5h-15zM358 120h5v5h-5zM478 120h5v5h-5zM528 120h5v5h-5zM363 125h5v5h-5zM363 130h5v5h-5zM363 135h5v5h-5zM458 135h5v5h-5zM358 150h5v5h-5zM438 150h5v5h-5zM148 155h5v5h-5zM153 160h5v5h-5zM353 160h5v5h-5zM438 165h5v5h-5zM348 170h5v5h-5zM438 170h5v5h-5zM343 180h5v5h-5zM338 195h5v5h-5zM143 200h5v5h-5zM608 200h5v5h-5zM333 205h5v5h-5zM328 210h5v5h-5zM138 215h5v5h-5zM428 215h5v5h-5zM308 220h5v5h-5zM298 225h5v5h-5zM418 230h5v5h-5zM283 235h5v5h-5zM413 235h5v5h-5zM603 245h5v5h-5zM393 250h5v5h-5zM593 250h5v5h-5zM138 255h5v5h-5zM388 255h5v5h-5zM143 260h5v5h-5zM393 260h10v5h-10zM183 265h10v5h-10zM398 265h5v5h-5zM213 270h10v5h-10zM388 280h5v5h-5zM383 285h5v5h-5zM548 290h5v5h-5zM373 300h5v5h-5zM543 300h5v5h-5zM653 300h5v5h-5zM668 300h5v5h-5zM648 305h5v5h-5zM368 310h5v5h-5zM538 320h5v5h-5zM638 320h5v5h-5zM538 325h5v5h-5zM363 330h5v5h-5zM538 330h5v5h-5zM108 335h5v5h-5zM528 335h5v5h-5zM538 335h5v5h-5zM628 335h5v5h-5zM533 340h5v5h-5zM93 345h5v5h-5zM143 345h5v5h-5zM228 345h5v5h-5zM238 345h5v5h-5zM518 345h5v5h-5zM158 350h5v5h-5zM218 350h5v5h-5zM238 350h5v5h-5zM273 350h10v5h-10zM73 355h5v5h-5zM173 355h5v5h-5zM203 355h5v5h-5zM243 355h15v5h-15zM333 355h5v5h-5zM513 360h5v5h-5zM608 360h5v5h-5zM513 365h5v5h-5zM498 385h5v5h-5zM488 395h5v5h-5zM483 400h5v5h-5zM48 410h5v5h-5zM478 410h5v5h-5zM48 415h5v5h-5zM48 420h5v5h-5zM48 425h5v5h-5z"/>
<path fill="#aaaaaa" d="M273 95h5v5h-5zM288 100h5v5h-5zM323 105h5v5h-5zM338 110h5v5h-5zM348 115h5v5h-5zM473 125h5v5h-5zM558 135h5v5h-5zM448 140h5v5h-5zM358 145h5v5h-5zM438 155h5v5h-5zM438 160h5v5h-5zM438 175h5v5h-5zM433 200h5v5h-5zM318 215h5v5h-5zM138 220h5v5h-5zM423 225h5v5h-5zM273 240h5v5h-5zM408 240h5v5h-5zM263 245h5v5h-5zM403 245h5v5h-5zM138 250h5v5h-5zM253 250h5v5h-5zM398 250h5v5h-5zM393 255h10v5h-10zM583 255h5v5h-5zM148 260h5v5h-5zM193 265h5v5h-5zM233 265h5v5h-5zM398 270h5v5h-5zM393 275h5v5h-5zM378 290h5v5h-5zM658 300h10v5h-10zM678 305h5v5h-5zM538 315h5v5h-5zM643 315h5v5h-5zM533 330h5v5h-5zM633 330h5v5h-5zM123 335h5v5h-5zM523 335h5v5h-5zM533 335h5v5h-5zM103 340h5v5h-5zM133 340h5v5h-5zM358 340h5v5h-5zM518 340h5v5h-5zM713 340h5v5h-5zM233 345h5v5h-5zM83 350h5v5h-5zM223 350h5v5h-5zM233 350h5v5h-5zM343 350h5v5h-5zM238 355h5v5h-5zM258 355h10v5h-10zM303 355h5v5h-5zM513 355h5v5h-5zM613 355h5v5h-5zM68 360h5v5h-5zM318 360h5v5h-5zM733 360h10v5h-10zM63 365h5v5h-5zM608 365h5v5h-5zM508 370h5v5h-5zM53 385h5v5h-5zM493 390h5v5h-5zM608 395h5v5h-5zM608 400h5v5h-5z"/>
<path fill="#ababab" d="M268 85h5v5h-5zM283 100h5v5h-5zM318 105h5v5h-5zM353 120h5v5h-5zM483 120h5v5h-5zM358 125h5v5h-5zM538 125h5v5h-5zM468 130h5v5h-5zM548 130h5v5h-5zM358 140h5v5h-5zM443 145h5v5h-5zM573 145h5v5h-5zM148 150h5v5h-5zM353 155h5v5h-5zM158 165h5v5h-5zM348 165h5v5h-5zM598 170h5v5h-5zM343 175h5v5h-5zM153 180h5v5h-5zM438 180h5v5h-5zM603 180h5v5h-5zM148 190h5v5h-5zM338 190h5v5h-5zM333 200h5v5h-5zM603 215h5v5h-5zM303 220h5v5h-5zM603 220h5v5h-5zM138 225h5v5h-5zM288 230h5v5h-5zM603 240h5v5h-5zM138 245h5v5h-5zM598 245h5v5h-5zM143 255h5v5h-5zM243 255h5v5h-5zM153 260h10v5h-10zM238 260h5v5h-5zM198 265h5v5h-5zM228 265h5v5h-5zM378 295h5v5h-5zM373 305h5v5h-5zM653 305h5v5h-5zM673 305h5v5h-5zM648 310h5v5h-5zM683 310h5v5h-5zM368 315h5v5h-5zM638 325h5v5h-5zM113 335h10v5h-10zM363 335h5v5h-5zM98 345h5v5h-5zM353 345h5v5h-5zM623 345h5v5h-5zM228 350h5v5h-5zM513 350h5v5h-5zM618 350h5v5h-5zM208 355h5v5h-5zM268 355h5v5h-5zM298 355h5v5h-5zM323 360h5v5h-5zM743 360h5v5h-5zM508 365h5v5h-5zM58 375h5v5h-5zM503 375h5v5h-5zM608 390h5v5h-5zM478 405h5v5h-5zM608 405h5v5h-5zM608 410h5v5h-5zM608 415h5v5h-5z"/>
<path fill="#acacac" d="M268 90h5v5h-5zM333 110h5v5h-5zM343 115h5v5h-5zM523 120h5v5h-5zM358 130h5v5h-5zM358 135h5v5h-5zM463 135h5v5h-5zM453 140h5v5h-5zM153 155h5v5h-5zM158 160h5v5h-5zM338 185h5v5h-5zM603 185h5v5h-5zM143 205h5v5h-5zM328 205h5v5h-5zM323 210h5v5h-5zM603 210h5v5h-5zM313 215h5v5h-5zM293 225h5v5h-5zM603 225h5v5h-5zM138 230h5v5h-5zM603 230h5v5h-5zM138 235h5v5h-5zM603 235h5v5h-5zM138 240h5v5h-5zM403 250h5v5h-5zM588 250h5v5h-5zM163 260h10v5h-10zM203 265h10v5h-10zM223 265h5v5h-5zM398 275h5v5h-5zM393 280h5v5h-5zM388 285h5v5h-5zM383 290h5v5h-5zM543 295h5v5h-5zM658 305h5v5h-5zM538 310h5v5h-5zM688 315h5v5h-5zM533 325h5v5h-5zM528 330h5v5h-5zM518 335h5v5h-5zM708 335h5v5h-5zM128 340h5v5h-5zM628 340h5v5h-5zM138 345h5v5h-5zM513 345h5v5h-5zM88 350h5v5h-5zM153 350h5v5h-5zM168 355h5v5h-5zM213 355h5v5h-5zM233 355h5v5h-5zM273 355h25v5h-25zM338 355h5v5h-5zM723 355h5v5h-5zM243 360h15v5h-15zM313 360h5v5h-5zM328 360h5v5h-5zM508 360h5v5h-5zM613 360h5v5h-5zM728 360h5v5h-5zM748 360h5v5h-5zM608 370h5v5h-5zM608 375h5v5h-5zM498 380h5v5h-5zM608 380h5v5h-5zM608 385h5v5h-5zM53 390h5v5h-5zM608 420h5v5h-5z"/>
<path fill="#adadad" d="M268 95h5v5h-5zM278 100h5v5h-5zM313 105h5v5h-5zM348 120h5v5h-5zM488 120h5v5h-5zM353 125h5v5h-5zM563 140h5v5h-5zM353 150h5v5h-5zM443 150h5v5h-5zM578 150h5v5h-5zM348 160h5v5h-5zM593 165h5v5h-5zM158 170h5v5h-5zM343 170h5v5h-5zM438 185h5v5h-5zM333 195h5v5h-5zM433 205h5v5h-5zM603 205h5v5h-5zM428 220h5v5h-5zM278 235h5v5h-5zM418 235h5v5h-5zM268 240h5v5h-5zM413 240h5v5h-5zM258 245h5v5h-5zM408 245h5v5h-5zM143 250h5v5h-5zM248 250h5v5h-5zM148 255h5v5h-5zM403 255h5v5h-5zM173 260h10v5h-10zM233 260h5v5h-5zM403 260h5v5h-5zM213 265h10v5h-10zM403 265h5v5h-5zM558 275h5v5h-5zM553 280h5v5h-5zM383 295h5v5h-5zM378 300h5v5h-5zM538 305h5v5h-5zM663 305h10v5h-10zM373 310h5v5h-5zM653 310h5v5h-5zM648 315h5v5h-5zM368 320h5v5h-5zM533 320h5v5h-5zM643 320h5v5h-5zM693 320h5v5h-5zM368 325h5v5h-5zM698 325h5v5h-5zM523 330h5v5h-5zM703 330h5v5h-5zM633 335h5v5h-5zM108 340h5v5h-5zM513 340h5v5h-5zM348 350h5v5h-5zM718 350h5v5h-5zM78 355h5v5h-5zM218 355h5v5h-5zM228 355h5v5h-5zM508 355h5v5h-5zM238 360h5v5h-5zM258 360h10v5h-10zM503 370h5v5h-5zM483 395h5v5h-5zM478 400h5v5h-5zM473 420h5v5h-5zM473 425h5v5h-5zM608 425h5v5h-5z"/>
<path fill="#aeaeae" d="M263 85h5v5h-5zM273 100h5v5h-5zM308 105h5v5h-5zM328 110h5v5h-5zM518 120h5v5h-5zM478 125h5v5h-5zM553 135h5v5h-5zM458 140h5v5h-5zM353 145h5v5h-5zM448 145h5v5h-5zM153 150h5v5h-5zM158 155h5v5h-5zM443 155h5v5h-5zM583 155h5v5h-5zM588 160h5v5h-5zM598 175h5v5h-5zM338 180h5v5h-5zM603 190h5v5h-5zM148 195h5v5h-5zM603 195h5v5h-5zM603 200h5v5h-5zM143 210h5v5h-5zM318 210h5v5h-5zM308 215h5v5h-5zM298 220h5v5h-5zM423 230h5v5h-5zM598 240h5v5h-5zM143 245h5v5h-5zM593 245h5v5h-5zM153 255h5v5h-5zM578 255h5v5h-5zM183 260h10v5h-10zM573 260h5v5h-5zM568 265h5v5h-5zM403 270h5v5h-5zM563 270h5v5h-5zM393 285h5v5h-5zM548 285h5v5h-5zM388 290h5v5h-5zM678 310h5v5h-5zM528 325h5v5h-5zM368 330h5v5h-5zM638 330h5v5h-5zM363 340h5v5h-5zM103 345h5v5h-5zM133 345h5v5h-5zM358 345h5v5h-5zM93 350h5v5h-5zM148 350h5v5h-5zM508 350h5v5h-5zM623 350h5v5h-5zM223 355h5v5h-5zM618 355h5v5h-5zM73 360h5v5h-5zM188 360h10v5h-10zM268 360h10v5h-10zM308 360h5v5h-5zM503 360h5v5h-5zM503 365h5v5h-5zM613 365h5v5h-5zM733 365h10v5h-10zM63 370h5v5h-5zM58 380h5v5h-5zM493 385h5v5h-5zM488 390h5v5h-5zM53 395h5v5h-5zM473 415h5v5h-5z"/>
<path fill="#afafaf" d="M263 90h5v5h-5zM338 115h5v5h-5zM493 120h5v5h-5zM533 125h5v5h-5zM353 130h5v5h-5zM473 130h5v5h-5zM353 135h5v5h-5zM353 140h5v5h-5zM153 145h5v5h-5zM348 155h5v5h-5zM443 160h5v5h-5zM443 165h5v5h-5zM443 170h5v5h-5zM153 185h5v5h-5zM333 190h5v5h-5zM328 200h5v5h-5zM323 205h5v5h-5zM433 210h5v5h-5zM283 230h5v5h-5zM148 250h5v5h-5zM408 250h5v5h-5zM583 250h5v5h-5zM158 255h5v5h-5zM238 255h5v5h-5zM193 260h5v5h-5zM228 260h5v5h-5zM398 280h5v5h-5zM388 295h5v5h-5zM383 300h5v5h-5zM378 305h5v5h-5zM658 310h5v5h-5zM673 310h5v5h-5zM533 315h5v5h-5zM643 325h5v5h-5zM513 335h5v5h-5zM113 340h5v5h-5zM123 340h5v5h-5zM628 345h5v5h-5zM713 345h5v5h-5zM343 355h5v5h-5zM183 360h5v5h-5zM198 360h10v5h-10zM233 360h5v5h-5zM278 360h5v5h-5zM333 360h5v5h-5zM68 365h5v5h-5zM243 365h5v5h-5zM743 365h10v5h-10zM498 375h5v5h-5zM473 410h5v5h-5z"/>
<path fill="#b0b0b0" d="M258 85h5v5h-5zM263 95h5v5h-5zM268 100h5v5h-5zM303 105h5v5h-5zM343 120h5v5h-5zM498 120h5v5h-5zM513 120h5v5h-5zM348 125h5v5h-5zM543 130h5v5h-5zM468 135h5v5h-5zM453 145h5v5h-5zM158 150h5v5h-5zM163 155h5v5h-5zM163 160h5v5h-5zM343 165h5v5h-5zM158 175h5v5h-5zM338 175h5v5h-5zM438 190h5v5h-5zM313 210h5v5h-5zM143 215h5v5h-5zM288 225h5v5h-5zM598 235h5v5h-5zM143 240h5v5h-5zM263 240h5v5h-5zM253 245h5v5h-5zM413 245h5v5h-5zM243 250h5v5h-5zM163 255h5v5h-5zM198 260h10v5h-10zM223 260h5v5h-5zM403 275h5v5h-5zM393 290h5v5h-5zM543 290h5v5h-5zM538 300h5v5h-5zM663 310h10v5h-10zM373 315h5v5h-5zM653 315h5v5h-5zM683 315h5v5h-5zM648 320h5v5h-5zM518 330h5v5h-5zM368 335h5v5h-5zM118 340h5v5h-5zM633 340h5v5h-5zM508 345h5v5h-5zM98 350h5v5h-5zM143 350h5v5h-5zM353 350h5v5h-5zM83 355h5v5h-5zM163 355h5v5h-5zM503 355h5v5h-5zM208 360h5v5h-5zM283 360h10v5h-10zM298 360h10v5h-10zM618 360h5v5h-5zM248 365h10v5h-10zM318 365h5v5h-5zM498 365h5v5h-5zM728 365h5v5h-5zM498 370h5v5h-5zM613 370h5v5h-5zM733 370h15v5h-15zM493 380h5v5h-5zM53 400h5v5h-5zM473 405h5v5h-5z"/>
<path fill="#b1b1b1" d="M258 90h5v5h-5zM258 95h5v5h-5zM263 100h5v5h-5zM298 105h5v5h-5zM323 110h5v5h-5zM503 120h10v5h-10zM483 125h5v5h-5zM463 140h5v5h-5zM158 145h5v5h-5zM568 145h5v5h-5zM163 150h5v5h-5zM348 150h5v5h-5zM448 150h5v5h-5zM593 170h5v5h-5zM443 175h5v5h-5zM598 180h5v5h-5zM333 185h5v5h-5zM328 195h5v5h-5zM148 200h5v5h-5zM303 215h5v5h-5zM598 215h5v5h-5zM143 220h5v5h-5zM598 220h5v5h-5zM143 225h5v5h-5zM428 225h5v5h-5zM598 225h5v5h-5zM143 230h5v5h-5zM598 230h5v5h-5zM143 235h5v5h-5zM273 235h5v5h-5zM418 240h5v5h-5zM588 245h5v5h-5zM153 250h5v5h-5zM168 255h5v5h-5zM233 255h5v5h-5zM408 255h5v5h-5zM208 260h15v5h-15zM408 270h5v5h-5zM388 300h5v5h-5zM378 310h5v5h-5zM533 310h5v5h-5zM528 320h5v5h-5zM688 320h5v5h-5zM523 325h5v5h-5zM513 330h5v5h-5zM508 340h5v5h-5zM708 340h5v5h-5zM108 345h5v5h-5zM128 345h5v5h-5zM178 360h5v5h-5zM213 360h5v5h-5zM228 360h5v5h-5zM293 360h5v5h-5zM338 360h5v5h-5zM498 360h5v5h-5zM723 360h5v5h-5zM238 365h5v5h-5zM258 365h20v5h-20zM313 365h5v5h-5zM323 365h5v5h-5zM748 370h5v5h-5zM613 375h5v5h-5zM613 380h5v5h-5zM488 385h5v5h-5zM613 385h5v5h-5zM483 390h5v5h-5zM613 390h5v5h-5zM478 395h5v5h-5zM613 395h5v5h-5zM613 400h5v5h-5zM53 405h5v5h-5zM613 405h5v5h-5zM613 410h5v5h-5z"/>
<path fill="#b2b2b2" d="M258 100h5v5h-5zM288 105h10v5h-10zM333 115h5v5h-5zM528 125h5v5h-5zM348 130h5v5h-5zM558 140h5v5h-5zM163 145h5v5h-5zM348 145h5v5h-5zM168 155h5v5h-5zM343 160h5v5h-5zM163 165h5v5h-5zM338 170h5v5h-5zM438 195h5v5h-5zM323 200h5v5h-5zM318 205h5v5h-5zM433 215h5v5h-5zM293 220h5v5h-5zM423 235h5v5h-5zM593 240h5v5h-5zM148 245h5v5h-5zM173 255h5v5h-5zM408 260h5v5h-5zM408 265h5v5h-5zM398 285h5v5h-5zM393 295h5v5h-5zM383 305h5v5h-5zM658 315h5v5h-5zM678 315h5v5h-5zM373 320h5v5h-5zM638 335h5v5h-5zM138 350h5v5h-5zM503 350h5v5h-5zM88 355h5v5h-5zM348 355h5v5h-5zM623 355h5v5h-5zM718 355h5v5h-5zM78 360h5v5h-5zM218 360h10v5h-10zM278 365h5v5h-5zM328 365h5v5h-5zM618 365h5v5h-5zM63 375h5v5h-5zM493 375h5v5h-5zM733 375h10v5h-10zM58 385h5v5h-5zM473 400h5v5h-5zM613 415h5v5h-5z"/>
<path fill="#b3b3b3" d="M253 90h5v5h-5zM253 95h5v5h-5zM283 105h5v5h-5zM318 110h5v5h-5zM338 120h5v5h-5zM343 125h5v5h-5zM478 130h5v5h-5zM348 135h5v5h-5zM163 140h5v5h-5zM348 140h5v5h-5zM458 145h5v5h-5zM168 150h5v5h-5zM573 150h5v5h-5zM448 155h5v5h-5zM588 165h5v5h-5zM158 180h5v5h-5zM333 180h5v5h-5zM443 180h5v5h-5zM598 185h5v5h-5zM153 190h5v5h-5zM328 190h5v5h-5zM308 210h5v5h-5zM598 210h5v5h-5zM278 230h5v5h-5zM258 240h5v5h-5zM248 245h5v5h-5zM158 250h5v5h-5zM238 250h5v5h-5zM413 250h5v5h-5zM578 250h5v5h-5zM178 255h10v5h-10zM228 255h5v5h-5zM573 255h5v5h-5zM408 275h5v5h-5zM403 280h5v5h-5zM538 295h5v5h-5zM533 305h5v5h-5zM378 315h5v5h-5zM528 315h5v5h-5zM653 320h5v5h-5zM373 325h5v5h-5zM518 325h5v5h-5zM648 325h5v5h-5zM693 325h5v5h-5zM643 330h5v5h-5zM698 330h5v5h-5zM508 335h5v5h-5zM703 335h5v5h-5zM368 340h5v5h-5zM113 345h5v5h-5zM123 345h5v5h-5zM363 345h5v5h-5zM628 350h5v5h-5zM158 355h5v5h-5zM498 355h5v5h-5zM233 365h5v5h-5zM283 365h5v5h-5zM308 365h5v5h-5zM238 370h10v5h-10zM493 370h5v5h-5zM743 375h10v5h-10zM53 410h5v5h-5zM53 415h5v5h-5zM53 420h5v5h-5zM613 420h5v5h-5zM53 425h5v5h-5z"/>
<path fill="#b4b4b4" d="M248 90h5v5h-5zM253 100h5v5h-5zM278 105h5v5h-5zM328 115h5v5h-5zM488 125h5v5h-5zM538 130h5v5h-5zM473 135h5v5h-5zM548 135h5v5h-5zM168 145h5v5h-5zM173 150h5v5h-5zM453 150h5v5h-5zM343 155h5v5h-5zM578 155h5v5h-5zM168 160h5v5h-5zM448 160h5v5h-5zM583 160h5v5h-5zM163 170h5v5h-5zM598 190h5v5h-5zM148 205h5v5h-5zM313 205h5v5h-5zM598 205h5v5h-5zM298 215h5v5h-5zM283 225h5v5h-5zM268 235h5v5h-5zM593 235h5v5h-5zM148 240h5v5h-5zM153 245h5v5h-5zM418 245h5v5h-5zM583 245h5v5h-5zM188 255h10v5h-10zM413 255h5v5h-5zM548 280h5v5h-5zM393 300h5v5h-5zM388 305h5v5h-5zM383 310h5v5h-5zM663 315h15v5h-15zM523 320h5v5h-5zM513 325h5v5h-5zM373 330h5v5h-5zM118 345h5v5h-5zM503 345h5v5h-5zM633 345h5v5h-5zM103 350h5v5h-5zM133 350h5v5h-5zM358 350h5v5h-5zM713 350h5v5h-5zM173 360h5v5h-5zM343 360h5v5h-5zM623 360h5v5h-5zM73 365h5v5h-5zM288 365h20v5h-20zM493 365h5v5h-5zM68 370h5v5h-5zM618 370h5v5h-5zM728 370h5v5h-5zM488 380h5v5h-5zM738 380h15v5h-15zM483 385h5v5h-5zM468 415h5v5h-5zM468 420h5v5h-5zM468 425h5v5h-5zM613 425h5v5h-5z"/>
<path fill="#b5b5b5" d="M248 95h5v5h-5zM248 100h5v5h-5zM253 105h25v5h-25zM313 110h5v5h-5zM523 125h5v5h-5zM168 140h5v5h-5zM468 140h5v5h-5zM173 145h5v5h-5zM343 150h5v5h-5zM338 165h5v5h-5zM448 165h5v5h-5zM333 175h5v5h-5zM593 175h5v5h-5zM323 195h5v5h-5zM598 195h5v5h-5zM318 200h5v5h-5zM438 200h5v5h-5zM598 200h5v5h-5zM148 210h5v5h-5zM433 220h5v5h-5zM428 230h5v5h-5zM148 235h5v5h-5zM588 240h5v5h-5zM163 250h5v5h-5zM198 255h5v5h-5zM218 255h10v5h-10zM413 260h5v5h-5zM568 260h5v5h-5zM413 265h5v5h-5zM563 265h5v5h-5zM413 270h5v5h-5zM558 270h5v5h-5zM553 275h5v5h-5zM543 285h5v5h-5zM398 290h5v5h-5zM533 300h5v5h-5zM528 310h5v5h-5zM378 320h5v5h-5zM683 320h5v5h-5zM508 330h5v5h-5zM373 335h5v5h-5zM638 340h5v5h-5zM93 355h5v5h-5zM153 355h5v5h-5zM353 355h5v5h-5zM493 360h5v5h-5zM228 365h5v5h-5zM333 365h5v5h-5zM723 365h5v5h-5zM248 370h5v5h-5zM273 370h5v5h-5zM488 375h5v5h-5zM618 375h5v5h-5zM733 380h5v5h-5zM738 385h5v5h-5zM58 390h5v5h-5zM478 390h5v5h-5zM473 395h5v5h-5zM468 410h5v5h-5z"/>
<path fill="#b6b6b6" d="M243 90h5v5h-5zM243 95h5v5h-5zM248 105h5v5h-5zM493 125h5v5h-5zM343 130h5v5h-5zM168 135h5v5h-5zM173 140h5v5h-5zM178 145h5v5h-5zM563 145h5v5h-5zM173 155h5v5h-5zM448 170h5v5h-5zM328 185h5v5h-5zM443 185h5v5h-5zM153 195h5v5h-5zM303 210h5v5h-5zM288 220h5v5h-5zM148 230h5v5h-5zM593 230h5v5h-5zM263 235h5v5h-5zM253 240h5v5h-5zM423 240h5v5h-5zM243 245h5v5h-5zM168 250h5v5h-5zM233 250h5v5h-5zM203 255h15v5h-15zM403 285h5v5h-5zM388 310h5v5h-5zM383 315h5v5h-5zM518 320h5v5h-5zM658 320h5v5h-5zM643 335h5v5h-5zM128 350h5v5h-5zM498 350h5v5h-5zM628 355h5v5h-5zM83 360h5v5h-5zM193 365h35v5h-35zM623 365h5v5h-5zM233 370h5v5h-5zM253 370h20v5h-20zM278 370h10v5h-10zM313 370h10v5h-10zM488 370h5v5h-5zM728 375h5v5h-5zM63 380h5v5h-5zM618 380h5v5h-5zM618 385h5v5h-5zM743 385h15v5h-15zM618 390h5v5h-5zM468 405h5v5h-5z"/>
<path fill="#b7b7b7" d="M243 100h5v5h-5zM243 105h5v5h-5zM308 110h5v5h-5zM323 115h5v5h-5zM333 120h5v5h-5zM338 125h5v5h-5zM518 125h5v5h-5zM483 130h5v5h-5zM173 135h5v5h-5zM343 135h5v5h-5zM178 140h5v5h-5zM343 140h5v5h-5zM343 145h5v5h-5zM463 145h5v5h-5zM453 155h5v5h-5zM338 160h5v5h-5zM168 165h5v5h-5zM163 175h5v5h-5zM448 175h5v5h-5zM158 185h5v5h-5zM323 190h5v5h-5zM308 205h5v5h-5zM148 215h5v5h-5zM293 215h5v5h-5zM148 220h5v5h-5zM148 225h5v5h-5zM593 225h5v5h-5zM273 230h5v5h-5zM153 240h5v5h-5zM158 245h5v5h-5zM173 250h5v5h-5zM418 250h5v5h-5zM408 280h5v5h-5zM538 290h5v5h-5zM398 295h5v5h-5zM393 305h5v5h-5zM523 315h5v5h-5zM678 320h5v5h-5zM378 325h5v5h-5zM653 325h5v5h-5zM688 325h5v5h-5zM648 330h5v5h-5zM503 340h5v5h-5zM368 345h5v5h-5zM708 345h5v5h-5zM108 350h5v5h-5zM633 350h5v5h-5zM98 355h5v5h-5zM148 355h5v5h-5zM493 355h5v5h-5zM168 360h5v5h-5zM718 360h5v5h-5zM188 365h5v5h-5zM488 365h5v5h-5zM288 370h5v5h-5zM308 370h5v5h-5zM323 370h5v5h-5zM483 380h5v5h-5zM733 385h5v5h-5zM738 390h15v5h-15zM58 395h5v5h-5zM618 395h5v5h-5zM618 400h5v5h-5z"/>
<path fill="#b8b8b8" d="M238 95h5v5h-5zM238 100h5v5h-5zM498 125h5v5h-5zM513 125h5v5h-5zM173 130h5v5h-5zM533 130h5v5h-5zM178 135h5v5h-5zM553 140h5v5h-5zM178 150h5v5h-5zM458 150h5v5h-5zM333 170h5v5h-5zM588 170h5v5h-5zM328 180h5v5h-5zM593 180h5v5h-5zM318 195h5v5h-5zM313 200h5v5h-5zM438 205h5v5h-5zM593 220h5v5h-5zM278 225h5v5h-5zM433 225h5v5h-5zM428 235h5v5h-5zM248 240h5v5h-5zM583 240h5v5h-5zM238 245h5v5h-5zM578 245h5v5h-5zM178 250h5v5h-5zM228 250h5v5h-5zM573 250h5v5h-5zM418 255h5v5h-5zM413 275h5v5h-5zM528 305h5v5h-5zM383 320h5v5h-5zM663 320h15v5h-15zM508 325h5v5h-5zM378 330h5v5h-5zM693 330h5v5h-5zM373 340h5v5h-5zM703 340h5v5h-5zM638 345h5v5h-5zM123 350h5v5h-5zM363 350h5v5h-5zM138 355h10v5h-10zM348 360h5v5h-5zM628 360h5v5h-5zM78 365h5v5h-5zM183 365h5v5h-5zM338 365h5v5h-5zM228 370h5v5h-5zM293 370h15v5h-15zM623 370h5v5h-5zM68 375h5v5h-5zM483 375h5v5h-5zM478 385h5v5h-5zM753 390h5v5h-5zM468 400h5v5h-5zM618 405h5v5h-5zM618 410h5v5h-5z"/>
<path fill="#b9b9b9" d="M233 95h5v5h-5zM233 100h5v5h-5zM238 105h5v5h-5zM243 110h5v5h-5zM303 110h5v5h-5zM503 125h10v5h-10zM178 130h5v5h-5zM183 135h5v5h-5zM478 135h5v5h-5zM543 135h5v5h-5zM183 140h5v5h-5zM183 145h5v5h-5zM568 150h5v5h-5zM338 155h5v5h-5zM173 160h5v5h-5zM453 160h5v5h-5zM443 190h5v5h-5zM153 200h5v5h-5zM298 210h5v5h-5zM593 215h5v5h-5zM258 235h5v5h-5zM588 235h5v5h-5zM163 245h5v5h-5zM423 245h5v5h-5zM183 250h10v5h-10zM223 250h5v5h-5zM418 260h5v5h-5zM418 265h5v5h-5zM533 295h5v5h-5zM398 300h5v5h-5zM523 310h5v5h-5zM388 315h5v5h-5zM513 320h5v5h-5zM658 325h5v5h-5zM503 335h5v5h-5zM698 335h5v5h-5zM643 340h5v5h-5zM113 350h10v5h-10zM713 355h5v5h-5zM88 360h5v5h-5zM488 360h5v5h-5zM73 370h5v5h-5zM328 370h5v5h-5zM723 370h5v5h-5zM238 375h10v5h-10zM623 375h5v5h-5zM728 380h5v5h-5zM473 390h5v5h-5zM733 390h5v5h-5zM738 395h20v5h-20zM618 415h5v5h-5z"/>
<path fill="#bababa" d="M228 100h5v5h-5zM233 105h5v5h-5zM233 110h10v5h-10zM248 110h10v5h-10zM298 110h5v5h-5zM318 115h5v5h-5zM328 120h5v5h-5zM183 125h5v5h-5zM183 130h10v5h-10zM338 130h5v5h-5zM488 130h5v5h-5zM188 135h5v5h-5zM188 140h5v5h-5zM473 140h5v5h-5zM338 150h5v5h-5zM333 165h5v5h-5zM583 165h5v5h-5zM168 170h5v5h-5zM448 180h5v5h-5zM323 185h5v5h-5zM593 185h5v5h-5zM438 210h5v5h-5zM593 210h5v5h-5zM283 220h5v5h-5zM268 230h5v5h-5zM153 235h5v5h-5zM158 240h5v5h-5zM233 245h5v5h-5zM193 250h5v5h-5zM218 250h5v5h-5zM568 255h5v5h-5zM418 270h5v5h-5zM403 290h5v5h-5zM393 310h5v5h-5zM518 315h5v5h-5zM383 325h5v5h-5zM683 325h5v5h-5zM653 330h5v5h-5zM378 335h5v5h-5zM648 335h5v5h-5zM498 345h5v5h-5zM103 355h5v5h-5zM133 355h5v5h-5zM358 355h5v5h-5zM633 355h5v5h-5zM163 360h5v5h-5zM223 370h5v5h-5zM483 370h5v5h-5zM233 375h5v5h-5zM278 375h5v5h-5zM478 380h5v5h-5zM623 380h5v5h-5zM63 385h5v5h-5zM58 400h5v5h-5zM738 400h20v5h-20zM618 420h5v5h-5zM618 425h5v5h-5z"/>
<path fill="#bbbbbb" d="M223 100h5v5h-5zM213 105h20v5h-20zM203 110h30v5h-30zM258 110h40v5h-40zM198 115h35v5h-35zM188 120h35v5h-35zM188 125h25v5h-25zM333 125h5v5h-5zM193 130h10v5h-10zM193 135h5v5h-5zM338 135h5v5h-5zM338 145h5v5h-5zM178 155h5v5h-5zM573 155h5v5h-5zM578 160h5v5h-5zM453 165h5v5h-5zM328 175h5v5h-5zM163 180h5v5h-5zM158 190h5v5h-5zM318 190h5v5h-5zM308 200h5v5h-5zM153 205h5v5h-5zM303 205h5v5h-5zM593 205h5v5h-5zM288 215h5v5h-5zM153 230h5v5h-5zM433 230h5v5h-5zM588 230h5v5h-5zM243 240h5v5h-5zM428 240h5v5h-5zM168 245h5v5h-5zM198 250h20v5h-20zM423 250h5v5h-5zM543 280h5v5h-5zM408 285h5v5h-5zM528 300h5v5h-5zM398 305h5v5h-5zM388 320h5v5h-5zM503 330h5v5h-5zM493 350h5v5h-5zM178 365h5v5h-5zM343 365h5v5h-5zM483 365h5v5h-5zM628 365h5v5h-5zM718 365h5v5h-5zM213 370h10v5h-10zM333 370h5v5h-5zM248 375h5v5h-5zM268 375h10v5h-10zM283 375h15v5h-15zM478 375h5v5h-5zM723 375h5v5h-5zM473 385h5v5h-5zM623 385h5v5h-5zM728 385h5v5h-5zM468 395h5v5h-5zM733 395h5v5h-5zM58 405h5v5h-5zM738 405h20v5h-20zM738 410h20v5h-20zM738 415h20v5h-20zM463 420h5v5h-5zM738 420h20v5h-20zM463 425h5v5h-5zM738 425h20v5h-20z"/>
<path fill="#bcbcbc" d="M233 115h5v5h-5zM213 125h5v5h-5zM203 130h5v5h-5zM528 130h5v5h-5zM338 140h5v5h-5zM468 145h5v5h-5zM558 145h5v5h-5zM183 150h5v5h-5zM458 155h5v5h-5zM333 160h5v5h-5zM173 165h5v5h-5zM453 170h5v5h-5zM588 175h5v5h-5zM593 190h5v5h-5zM313 195h5v5h-5zM593 195h5v5h-5zM593 200h5v5h-5zM438 215h5v5h-5zM273 225h5v5h-5zM263 230h5v5h-5zM253 235h5v5h-5zM578 240h5v5h-5zM173 245h5v5h-5zM228 245h5v5h-5zM573 245h5v5h-5zM563 260h5v5h-5zM548 275h5v5h-5zM413 280h5v5h-5zM538 285h5v5h-5zM403 295h5v5h-5zM523 305h5v5h-5zM393 315h5v5h-5zM508 320h5v5h-5zM663 325h5v5h-5zM678 325h5v5h-5zM383 330h5v5h-5zM688 330h5v5h-5zM373 345h5v5h-5zM368 350h5v5h-5zM638 350h5v5h-5zM708 350h5v5h-5zM128 355h5v5h-5zM488 355h5v5h-5zM93 360h5v5h-5zM353 360h5v5h-5zM83 365h5v5h-5zM198 370h15v5h-15zM228 375h5v5h-5zM253 375h5v5h-5zM263 375h5v5h-5zM298 375h25v5h-25zM623 390h5v5h-5zM58 410h5v5h-5zM463 410h5v5h-5zM463 415h5v5h-5z"/>
<path fill="#bdbdbd" d="M313 115h5v5h-5zM223 120h5v5h-5zM323 120h5v5h-5zM493 130h5v5h-5zM198 135h5v5h-5zM483 135h5v5h-5zM538 135h5v5h-5zM193 140h5v5h-5zM548 140h5v5h-5zM188 145h5v5h-5zM463 150h5v5h-5zM328 170h5v5h-5zM323 180h5v5h-5zM443 195h5v5h-5zM153 210h5v5h-5zM293 210h5v5h-5zM153 225h5v5h-5zM158 235h5v5h-5zM583 235h5v5h-5zM163 240h5v5h-5zM178 245h5v5h-5zM428 245h5v5h-5zM423 255h5v5h-5zM558 265h5v5h-5zM553 270h5v5h-5zM418 275h5v5h-5zM533 290h5v5h-5zM518 310h5v5h-5zM513 315h5v5h-5zM388 325h5v5h-5zM503 325h5v5h-5zM668 325h10v5h-10zM658 330h5v5h-5zM378 340h5v5h-5zM498 340h5v5h-5zM643 345h5v5h-5zM108 355h5v5h-5zM158 360h5v5h-5zM483 360h5v5h-5zM633 360h5v5h-5zM193 370h5v5h-5zM478 370h5v5h-5zM628 370h5v5h-5zM258 375h5v5h-5zM68 380h5v5h-5zM473 380h5v5h-5zM63 390h5v5h-5zM468 390h5v5h-5zM623 395h5v5h-5zM733 400h5v5h-5zM463 405h5v5h-5zM58 415h5v5h-5z"/>
<path fill="#bebebe" d="M238 115h5v5h-5zM208 130h5v5h-5zM333 130h5v5h-5zM523 130h5v5h-5zM563 150h5v5h-5zM333 155h5v5h-5zM178 160h5v5h-5zM168 175h5v5h-5zM453 175h5v5h-5zM318 185h5v5h-5zM448 185h5v5h-5zM298 205h5v5h-5zM153 215h5v5h-5zM153 220h5v5h-5zM278 220h5v5h-5zM438 220h5v5h-5zM588 225h5v5h-5zM433 235h5v5h-5zM238 240h5v5h-5zM183 245h5v5h-5zM223 245h5v5h-5zM423 260h5v5h-5zM528 295h5v5h-5zM403 300h5v5h-5zM398 310h5v5h-5zM393 320h5v5h-5zM653 335h5v5h-5zM693 335h5v5h-5zM648 340h5v5h-5zM698 340h5v5h-5zM703 345h5v5h-5zM123 355h5v5h-5zM363 355h5v5h-5zM713 360h5v5h-5zM173 365h5v5h-5zM78 370h5v5h-5zM338 370h5v5h-5zM718 370h5v5h-5zM73 375h5v5h-5zM223 375h5v5h-5zM323 375h5v5h-5zM628 375h5v5h-5zM723 380h5v5h-5zM728 390h5v5h-5zM623 400h5v5h-5zM733 405h5v5h-5zM58 420h5v5h-5zM58 425h5v5h-5z"/>
<path fill="#bfbfbf" d="M243 115h5v5h-5zM308 115h5v5h-5zM228 120h5v5h-5zM218 125h5v5h-5zM328 125h5v5h-5zM498 130h5v5h-5zM333 135h5v5h-5zM478 140h5v5h-5zM333 150h5v5h-5zM183 155h5v5h-5zM458 160h5v5h-5zM328 165h5v5h-5zM583 170h5v5h-5zM588 180h5v5h-5zM163 185h5v5h-5zM313 190h5v5h-5zM158 195h5v5h-5zM308 195h5v5h-5zM303 200h5v5h-5zM283 215h5v5h-5zM268 225h5v5h-5zM258 230h5v5h-5zM248 235h5v5h-5zM168 240h5v5h-5zM188 245h5v5h-5zM218 245h5v5h-5zM428 250h5v5h-5zM568 250h5v5h-5zM423 265h5v5h-5zM408 290h5v5h-5zM523 300h5v5h-5zM383 335h5v5h-5zM498 335h5v5h-5zM493 345h5v5h-5zM488 350h5v5h-5zM113 355h10v5h-10zM638 355h5v5h-5zM98 360h5v5h-5zM153 360h5v5h-5zM88 365h5v5h-5zM348 365h5v5h-5zM478 365h5v5h-5zM633 365h5v5h-5zM188 370h5v5h-5zM218 375h5v5h-5zM328 375h5v5h-5zM473 375h5v5h-5zM238 380h5v5h-5zM278 380h20v5h-20zM463 400h5v5h-5zM623 405h5v5h-5zM623 410h5v5h-5zM733 410h5v5h-5zM733 415h5v5h-5zM733 420h5v5h-5zM733 425h5v5h-5z"/>
<path fill="#c0c0c0" d="M248 115h20v5h-20zM503 130h5v5h-5zM518 130h5v5h-5zM203 135h5v5h-5zM333 140h5v5h-5zM333 145h5v5h-5zM568 155h5v5h-5zM173 170h5v5h-5zM323 175h5v5h-5zM443 200h5v5h-5zM588 220h5v5h-5zM438 225h5v5h-5zM158 230h5v5h-5zM233 240h5v5h-5zM433 240h5v5h-5zM193 245h10v5h-10zM208 245h10v5h-10zM423 270h5v5h-5zM413 285h5v5h-5zM403 305h5v5h-5zM518 305h5v5h-5zM513 310h5v5h-5zM398 315h5v5h-5zM508 315h5v5h-5zM503 320h5v5h-5zM388 330h5v5h-5zM663 330h5v5h-5zM683 330h5v5h-5zM643 350h5v5h-5zM483 355h5v5h-5zM133 360h20v5h-20zM358 360h5v5h-5zM213 375h5v5h-5zM718 375h5v5h-5zM233 380h5v5h-5zM243 380h5v5h-5zM273 380h5v5h-5zM298 380h10v5h-10zM628 380h5v5h-5zM468 385h5v5h-5zM723 385h5v5h-5zM63 395h5v5h-5zM728 395h5v5h-5zM623 415h5v5h-5zM623 420h5v5h-5zM623 425h5v5h-5z"/>
<path fill="#c1c1c1" d="M268 115h5v5h-5zM303 115h5v5h-5zM233 120h5v5h-5zM318 120h5v5h-5zM223 125h5v5h-5zM213 130h5v5h-5zM508 130h10v5h-10zM488 135h5v5h-5zM533 135h5v5h-5zM198 140h5v5h-5zM473 145h5v5h-5zM553 145h5v5h-5zM188 150h5v5h-5zM463 155h5v5h-5zM328 160h5v5h-5zM573 160h5v5h-5zM178 165h5v5h-5zM458 165h5v5h-5zM578 165h5v5h-5zM453 180h5v5h-5zM588 185h5v5h-5zM158 200h5v5h-5zM288 210h5v5h-5zM588 215h5v5h-5zM273 220h5v5h-5zM583 230h5v5h-5zM163 235h5v5h-5zM243 235h5v5h-5zM578 235h5v5h-5zM173 240h5v5h-5zM228 240h5v5h-5zM573 240h5v5h-5zM203 245h5v5h-5zM428 255h5v5h-5zM418 280h5v5h-5zM538 280h5v5h-5zM533 285h5v5h-5zM393 325h5v5h-5zM498 330h5v5h-5zM668 330h5v5h-5zM678 330h5v5h-5zM658 335h5v5h-5zM378 345h5v5h-5zM648 345h5v5h-5zM373 350h5v5h-5zM708 355h5v5h-5zM713 365h5v5h-5zM183 370h5v5h-5zM473 370h5v5h-5zM208 375h5v5h-5zM228 380h5v5h-5zM248 380h5v5h-5zM268 380h5v5h-5zM308 380h5v5h-5zM68 385h5v5h-5zM628 385h5v5h-5zM463 395h5v5h-5z"/>
<path fill="#c2c2c2" d="M273 115h5v5h-5zM323 125h5v5h-5zM328 130h5v5h-5zM543 140h5v5h-5zM193 145h5v5h-5zM468 150h5v5h-5zM183 160h5v5h-5zM323 170h5v5h-5zM458 170h5v5h-5zM168 180h5v5h-5zM318 180h5v5h-5zM448 190h5v5h-5zM293 205h5v5h-5zM443 205h5v5h-5zM588 210h5v5h-5zM158 225h5v5h-5zM263 225h5v5h-5zM253 230h5v5h-5zM438 230h5v5h-5zM433 245h5v5h-5zM563 255h5v5h-5zM423 275h5v5h-5zM543 275h5v5h-5zM528 290h5v5h-5zM408 295h5v5h-5zM403 310h5v5h-5zM398 320h5v5h-5zM673 330h5v5h-5zM688 335h5v5h-5zM383 340h5v5h-5zM493 340h5v5h-5zM653 340h5v5h-5zM368 355h5v5h-5zM103 360h5v5h-5zM128 360h5v5h-5zM478 360h5v5h-5zM638 360h5v5h-5zM168 365h5v5h-5zM353 365h5v5h-5zM83 370h5v5h-5zM343 370h5v5h-5zM633 370h5v5h-5zM203 375h5v5h-5zM333 375h5v5h-5zM253 380h5v5h-5zM263 380h5v5h-5zM313 380h5v5h-5zM468 380h5v5h-5zM628 390h5v5h-5zM728 400h5v5h-5z"/>
<path fill="#c3c3c3" d="M278 115h25v5h-25zM238 120h5v5h-5zM218 130h5v5h-5zM208 135h5v5h-5zM483 140h5v5h-5zM328 155h5v5h-5zM583 175h5v5h-5zM313 185h5v5h-5zM163 190h5v5h-5zM308 190h5v5h-5zM588 190h5v5h-5zM303 195h5v5h-5zM588 195h5v5h-5zM298 200h5v5h-5zM588 200h5v5h-5zM158 205h5v5h-5zM588 205h5v5h-5zM278 215h5v5h-5zM178 240h5v5h-5zM223 240h5v5h-5zM568 245h5v5h-5zM428 260h5v5h-5zM523 295h5v5h-5zM518 300h5v5h-5zM498 325h5v5h-5zM388 335h5v5h-5zM488 345h5v5h-5zM483 350h5v5h-5zM703 350h5v5h-5zM93 365h5v5h-5zM473 365h5v5h-5zM78 375h5v5h-5zM198 375h5v5h-5zM468 375h5v5h-5zM633 375h5v5h-5zM73 380h5v5h-5zM223 380h5v5h-5zM258 380h5v5h-5zM318 380h5v5h-5zM718 380h5v5h-5zM463 390h5v5h-5zM723 390h5v5h-5zM63 400h5v5h-5zM458 415h5v5h-5zM458 420h5v5h-5zM458 425h5v5h-5z"/>
<path fill="#c4c4c4" d="M313 120h5v5h-5zM228 125h5v5h-5zM328 135h5v5h-5zM493 135h5v5h-5zM528 135h5v5h-5zM203 140h5v5h-5zM328 150h5v5h-5zM558 150h5v5h-5zM178 170h5v5h-5zM173 175h5v5h-5zM458 175h5v5h-5zM158 210h5v5h-5zM443 210h5v5h-5zM158 215h5v5h-5zM158 220h5v5h-5zM268 220h5v5h-5zM583 225h5v5h-5zM163 230h5v5h-5zM168 235h5v5h-5zM238 235h5v5h-5zM438 235h5v5h-5zM183 240h5v5h-5zM218 240h5v5h-5zM433 250h5v5h-5zM558 260h5v5h-5zM428 265h5v5h-5zM553 265h5v5h-5zM548 270h5v5h-5zM418 285h5v5h-5zM413 290h5v5h-5zM408 300h5v5h-5zM513 305h5v5h-5zM508 310h5v5h-5zM403 315h5v5h-5zM503 315h5v5h-5zM393 330h5v5h-5zM663 335h5v5h-5zM693 340h5v5h-5zM698 345h5v5h-5zM478 355h5v5h-5zM643 355h5v5h-5zM108 360h5v5h-5zM123 360h5v5h-5zM363 360h5v5h-5zM638 365h5v5h-5zM178 370h5v5h-5zM713 370h5v5h-5zM193 375h5v5h-5zM218 380h5v5h-5zM323 380h5v5h-5zM278 385h25v5h-25zM68 390h5v5h-5zM628 395h5v5h-5zM63 405h5v5h-5zM728 405h5v5h-5zM458 410h5v5h-5zM728 410h5v5h-5zM728 420h5v5h-5zM728 425h5v5h-5z"/>
<path fill="#c5c5c5" d="M243 120h5v5h-5zM213 135h5v5h-5zM328 140h5v5h-5zM328 145h5v5h-5zM478 145h5v5h-5zM188 155h5v5h-5zM463 160h5v5h-5zM183 165h5v5h-5zM323 165h5v5h-5zM318 175h5v5h-5zM453 185h5v5h-5zM283 210h5v5h-5zM443 215h5v5h-5zM258 225h5v5h-5zM248 230h5v5h-5zM188 240h5v5h-5zM213 240h5v5h-5zM428 270h5v5h-5zM423 280h5v5h-5zM408 305h5v5h-5zM498 320h5v5h-5zM398 325h5v5h-5zM493 335h5v5h-5zM683 335h5v5h-5zM658 340h5v5h-5zM648 350h5v5h-5zM113 360h10v5h-10zM708 360h5v5h-5zM163 365h5v5h-5zM348 370h5v5h-5zM468 370h5v5h-5zM338 375h5v5h-5zM213 380h5v5h-5zM633 380h5v5h-5zM238 385h10v5h-10zM273 385h5v5h-5zM303 385h5v5h-5zM463 385h5v5h-5zM718 385h5v5h-5zM628 400h5v5h-5zM458 405h5v5h-5zM728 415h5v5h-5z"/>
<path fill="#c6c6c6" d="M248 120h20v5h-20zM308 120h5v5h-5zM318 125h5v5h-5zM223 130h5v5h-5zM323 130h5v5h-5zM498 135h5v5h-5zM538 140h5v5h-5zM198 145h5v5h-5zM548 145h5v5h-5zM193 150h5v5h-5zM563 155h5v5h-5zM578 170h5v5h-5zM313 180h5v5h-5zM583 180h5v5h-5zM168 185h5v5h-5zM163 195h5v5h-5zM448 195h5v5h-5zM443 220h5v5h-5zM578 230h5v5h-5zM173 235h5v5h-5zM233 235h5v5h-5zM573 235h5v5h-5zM193 240h20v5h-20zM438 240h5v5h-5zM563 250h5v5h-5zM433 255h5v5h-5zM533 280h5v5h-5zM528 285h5v5h-5zM523 290h5v5h-5zM403 320h5v5h-5zM493 330h5v5h-5zM668 335h5v5h-5zM388 340h5v5h-5zM383 345h5v5h-5zM653 345h5v5h-5zM378 350h5v5h-5zM473 360h5v5h-5zM98 365h5v5h-5zM358 365h5v5h-5zM88 370h5v5h-5zM188 375h5v5h-5zM713 375h5v5h-5zM208 380h5v5h-5zM328 380h5v5h-5zM233 385h5v5h-5zM248 385h5v5h-5zM268 385h5v5h-5zM308 385h5v5h-5zM723 395h5v5h-5zM458 400h5v5h-5zM628 405h5v5h-5zM63 410h5v5h-5zM628 410h5v5h-5zM628 420h5v5h-5zM628 425h5v5h-5z"/>
<path fill="#c7c7c7" d="M268 120h5v5h-5zM233 125h5v5h-5zM503 135h5v5h-5zM523 135h5v5h-5zM208 140h5v5h-5zM488 140h5v5h-5zM473 150h5v5h-5zM468 155h5v5h-5zM323 160h5v5h-5zM568 160h5v5h-5zM463 165h5v5h-5zM573 165h5v5h-5zM318 170h5v5h-5zM308 185h5v5h-5zM303 190h5v5h-5zM288 205h5v5h-5zM273 215h5v5h-5zM263 220h5v5h-5zM583 220h5v5h-5zM163 225h5v5h-5zM168 230h5v5h-5zM228 235h5v5h-5zM568 240h5v5h-5zM438 245h5v5h-5zM433 260h5v5h-5zM428 275h5v5h-5zM538 275h5v5h-5zM413 295h5v5h-5zM518 295h5v5h-5zM513 300h5v5h-5zM508 305h5v5h-5zM408 310h5v5h-5zM493 325h5v5h-5zM393 335h5v5h-5zM673 335h10v5h-10zM488 340h5v5h-5zM483 345h5v5h-5zM478 350h5v5h-5zM373 355h5v5h-5zM643 360h5v5h-5zM138 365h5v5h-5zM158 365h5v5h-5zM173 370h5v5h-5zM638 370h5v5h-5zM203 380h5v5h-5zM463 380h5v5h-5zM73 385h5v5h-5zM228 385h5v5h-5zM253 385h5v5h-5zM263 385h5v5h-5zM313 385h5v5h-5zM633 385h5v5h-5zM458 395h5v5h-5zM63 415h5v5h-5zM628 415h5v5h-5z"/>
<path fill="#c8c8c8" d="M218 135h5v5h-5zM508 135h15v5h-15zM323 155h5v5h-5zM188 160h5v5h-5zM173 180h5v5h-5zM458 180h5v5h-5zM583 185h5v5h-5zM298 195h5v5h-5zM293 200h5v5h-5zM583 215h5v5h-5zM253 225h5v5h-5zM443 225h5v5h-5zM243 230h5v5h-5zM178 235h5v5h-5zM423 285h5v5h-5zM418 290h5v5h-5zM413 300h5v5h-5zM503 310h5v5h-5zM408 315h5v5h-5zM498 315h5v5h-5zM398 330h5v5h-5zM663 340h5v5h-5zM688 340h5v5h-5zM473 355h5v5h-5zM648 355h5v5h-5zM703 355h5v5h-5zM368 360h5v5h-5zM133 365h5v5h-5zM143 365h15v5h-15zM468 365h5v5h-5zM708 365h5v5h-5zM83 375h5v5h-5zM183 375h5v5h-5zM343 375h5v5h-5zM463 375h5v5h-5zM78 380h5v5h-5zM198 380h5v5h-5zM713 380h5v5h-5zM223 385h5v5h-5zM258 385h5v5h-5zM68 395h5v5h-5zM723 400h5v5h-5zM63 420h5v5h-5zM63 425h5v5h-5z"/>
<path fill="#c9c9c9" d="M273 120h5v5h-5zM303 120h5v5h-5zM238 125h5v5h-5zM313 125h5v5h-5zM228 130h5v5h-5zM323 135h5v5h-5zM533 140h5v5h-5zM483 145h5v5h-5zM553 150h5v5h-5zM183 170h5v5h-5zM463 170h5v5h-5zM178 175h5v5h-5zM578 175h5v5h-5zM163 200h5v5h-5zM448 200h5v5h-5zM278 210h5v5h-5zM583 210h5v5h-5zM163 220h5v5h-5zM578 225h5v5h-5zM443 230h5v5h-5zM183 235h5v5h-5zM223 235h5v5h-5zM438 250h5v5h-5zM558 255h5v5h-5zM433 265h5v5h-5zM543 270h5v5h-5zM428 280h5v5h-5zM413 305h5v5h-5zM493 320h5v5h-5zM403 325h5v5h-5zM488 335h5v5h-5zM658 345h5v5h-5zM693 345h5v5h-5zM653 350h5v5h-5zM698 350h5v5h-5zM103 365h5v5h-5zM128 365h5v5h-5zM93 370h5v5h-5zM353 370h5v5h-5zM638 375h5v5h-5zM333 380h5v5h-5zM218 385h5v5h-5zM318 385h5v5h-5zM273 390h30v5h-30zM458 390h5v5h-5zM633 390h5v5h-5zM718 390h5v5h-5z"/>
<path fill="#cacaca" d="M278 120h5v5h-5zM298 120h5v5h-5zM318 130h5v5h-5zM223 135h5v5h-5zM213 140h5v5h-5zM323 140h5v5h-5zM493 140h5v5h-5zM203 145h5v5h-5zM323 145h5v5h-5zM543 145h5v5h-5zM323 150h5v5h-5zM193 155h5v5h-5zM468 160h5v5h-5zM318 165h5v5h-5zM313 175h5v5h-5zM168 190h5v5h-5zM453 190h5v5h-5zM583 190h5v5h-5zM583 195h5v5h-5zM583 200h5v5h-5zM163 205h5v5h-5zM583 205h5v5h-5zM163 210h5v5h-5zM163 215h5v5h-5zM268 215h5v5h-5zM173 230h5v5h-5zM238 230h5v5h-5zM573 230h5v5h-5zM218 235h5v5h-5zM443 235h5v5h-5zM563 245h5v5h-5zM433 270h5v5h-5zM528 280h5v5h-5zM523 285h5v5h-5zM423 290h5v5h-5zM518 290h5v5h-5zM418 295h5v5h-5zM513 295h5v5h-5zM413 310h5v5h-5zM488 325h5v5h-5zM488 330h5v5h-5zM393 340h5v5h-5zM483 340h5v5h-5zM683 340h5v5h-5zM388 345h5v5h-5zM478 345h5v5h-5zM468 360h5v5h-5zM123 365h5v5h-5zM363 365h5v5h-5zM643 365h5v5h-5zM463 370h5v5h-5zM193 380h5v5h-5zM213 385h5v5h-5zM458 385h5v5h-5zM238 390h20v5h-20zM268 390h5v5h-5zM303 390h5v5h-5zM633 395h5v5h-5zM68 400h5v5h-5zM723 405h5v5h-5zM453 420h5v5h-5zM723 420h5v5h-5zM453 425h5v5h-5zM723 425h5v5h-5z"/>
<path fill="#cbcbcb" d="M283 120h15v5h-15zM243 125h5v5h-5zM198 150h5v5h-5zM478 150h5v5h-5zM558 155h5v5h-5zM188 165h5v5h-5zM463 175h5v5h-5zM308 180h5v5h-5zM283 205h5v5h-5zM448 205h5v5h-5zM258 220h5v5h-5zM168 225h5v5h-5zM188 235h5v5h-5zM213 235h5v5h-5zM568 235h5v5h-5zM443 240h5v5h-5zM438 255h5v5h-5zM553 260h5v5h-5zM548 265h5v5h-5zM428 285h5v5h-5zM423 295h5v5h-5zM418 300h5v5h-5zM508 300h5v5h-5zM503 305h5v5h-5zM498 310h5v5h-5zM408 320h5v5h-5zM398 335h5v5h-5zM483 335h5v5h-5zM668 340h5v5h-5zM383 350h5v5h-5zM473 350h5v5h-5zM378 355h5v5h-5zM108 365h5v5h-5zM118 365h5v5h-5zM168 370h5v5h-5zM708 370h5v5h-5zM178 375h5v5h-5zM638 380h5v5h-5zM208 385h5v5h-5zM323 385h5v5h-5zM713 385h5v5h-5zM73 390h5v5h-5zM233 390h5v5h-5zM258 390h10v5h-10zM453 410h5v5h-5zM723 410h5v5h-5zM453 415h5v5h-5zM723 415h5v5h-5z"/>
<path fill="#cccccc" d="M308 125h5v5h-5zM233 130h5v5h-5zM218 140h5v5h-5zM498 140h5v5h-5zM528 140h5v5h-5zM473 155h5v5h-5zM318 160h5v5h-5zM563 160h5v5h-5zM573 170h5v5h-5zM578 180h5v5h-5zM303 185h5v5h-5zM458 185h5v5h-5zM298 190h5v5h-5zM288 200h5v5h-5zM248 225h5v5h-5zM233 230h5v5h-5zM193 235h20v5h-20zM443 245h5v5h-5zM438 260h5v5h-5zM433 275h5v5h-5zM533 275h5v5h-5zM428 290h5v5h-5zM418 305h5v5h-5zM413 315h5v5h-5zM493 315h5v5h-5zM488 320h5v5h-5zM483 325h5v5h-5zM403 330h5v5h-5zM483 330h5v5h-5zM478 340h5v5h-5zM673 340h10v5h-10zM468 355h5v5h-5zM648 360h5v5h-5zM703 360h5v5h-5zM113 365h5v5h-5zM463 365h5v5h-5zM98 370h5v5h-5zM643 370h5v5h-5zM88 375h5v5h-5zM348 375h5v5h-5zM188 380h5v5h-5zM338 380h5v5h-5zM458 380h5v5h-5zM203 385h5v5h-5zM228 390h5v5h-5zM308 390h5v5h-5zM248 395h10v5h-10zM718 395h5v5h-5zM633 400h5v5h-5zM68 405h5v5h-5zM453 405h5v5h-5z"/>
<path fill="#cdcdcd" d="M248 125h20v5h-20zM318 135h5v5h-5zM208 145h5v5h-5zM488 145h5v5h-5zM538 145h5v5h-5zM468 165h5v5h-5zM568 165h5v5h-5zM313 170h5v5h-5zM173 185h5v5h-5zM168 195h5v5h-5zM293 195h5v5h-5zM273 210h5v5h-5zM448 210h5v5h-5zM263 215h5v5h-5zM448 215h5v5h-5zM578 220h5v5h-5zM178 230h5v5h-5zM563 240h5v5h-5zM558 250h5v5h-5zM433 280h5v5h-5zM428 295h5v5h-5zM423 300h5v5h-5zM408 325h5v5h-5zM478 330h5v5h-5zM478 335h5v5h-5zM473 345h5v5h-5zM663 345h5v5h-5zM688 345h5v5h-5zM658 350h5v5h-5zM653 355h5v5h-5zM373 360h5v5h-5zM163 370h5v5h-5zM358 370h5v5h-5zM708 375h5v5h-5zM83 380h5v5h-5zM78 385h5v5h-5zM198 385h5v5h-5zM328 385h5v5h-5zM638 385h5v5h-5zM223 390h5v5h-5zM313 390h5v5h-5zM243 395h5v5h-5zM258 395h30v5h-30zM453 400h5v5h-5zM633 405h5v5h-5zM68 410h5v5h-5zM633 425h5v5h-5z"/>
<path fill="#cecece" d="M313 130h5v5h-5zM228 135h5v5h-5zM318 140h5v5h-5zM503 140h5v5h-5zM523 140h5v5h-5zM548 150h5v5h-5zM318 155h5v5h-5zM193 160h5v5h-5zM178 180h5v5h-5zM463 180h5v5h-5zM578 185h5v5h-5zM453 195h5v5h-5zM168 220h5v5h-5zM448 220h5v5h-5zM173 225h5v5h-5zM448 225h5v5h-5zM573 225h5v5h-5zM183 230h5v5h-5zM228 230h5v5h-5zM443 250h5v5h-5zM438 265h5v5h-5zM538 270h5v5h-5zM523 280h5v5h-5zM433 285h5v5h-5zM518 285h5v5h-5zM513 290h5v5h-5zM508 295h5v5h-5zM428 300h5v5h-5zM503 300h5v5h-5zM423 305h5v5h-5zM498 305h5v5h-5zM418 310h5v5h-5zM413 320h5v5h-5zM483 320h5v5h-5zM478 325h5v5h-5zM473 340h5v5h-5zM468 350h5v5h-5zM693 350h5v5h-5zM698 355h5v5h-5zM463 360h5v5h-5zM368 365h5v5h-5zM173 375h5v5h-5zM458 375h5v5h-5zM183 380h5v5h-5zM218 390h5v5h-5zM73 395h5v5h-5zM238 395h5v5h-5zM288 395h10v5h-10zM453 395h5v5h-5zM253 400h5v5h-5zM633 410h5v5h-5zM68 415h5v5h-5zM633 415h5v5h-5zM633 420h5v5h-5z"/>
<path fill="#cfcfcf" d="M268 125h5v5h-5zM303 125h5v5h-5zM223 140h5v5h-5zM508 140h15v5h-15zM318 145h5v5h-5zM203 150h5v5h-5zM318 150h5v5h-5zM483 150h5v5h-5zM553 155h5v5h-5zM473 160h5v5h-5zM313 165h5v5h-5zM468 170h5v5h-5zM183 175h5v5h-5zM308 175h5v5h-5zM573 175h5v5h-5zM168 200h5v5h-5zM168 215h5v5h-5zM578 215h5v5h-5zM253 220h5v5h-5zM243 225h5v5h-5zM223 230h5v5h-5zM448 230h5v5h-5zM568 230h5v5h-5zM443 255h5v5h-5zM438 270h5v5h-5zM528 275h5v5h-5zM433 290h5v5h-5zM493 310h5v5h-5zM418 315h5v5h-5zM488 315h5v5h-5zM403 335h5v5h-5zM473 335h5v5h-5zM398 340h5v5h-5zM393 345h5v5h-5zM668 345h5v5h-5zM683 345h5v5h-5zM388 350h5v5h-5zM648 365h5v5h-5zM703 365h5v5h-5zM103 370h5v5h-5zM128 370h20v5h-20zM158 370h5v5h-5zM458 370h5v5h-5zM93 375h5v5h-5zM353 375h5v5h-5zM643 375h5v5h-5zM343 380h5v5h-5zM193 385h5v5h-5zM213 390h5v5h-5zM318 390h5v5h-5zM453 390h5v5h-5zM638 390h5v5h-5zM233 395h5v5h-5zM298 395h5v5h-5zM248 400h5v5h-5zM258 400h10v5h-10zM718 400h5v5h-5zM68 420h5v5h-5zM718 425h5v5h-5z"/>
<path fill="#d0d0d0" d="M273 125h5v5h-5zM238 130h5v5h-5zM213 145h5v5h-5zM493 145h5v5h-5zM533 145h5v5h-5zM198 155h5v5h-5zM478 155h5v5h-5zM188 170h5v5h-5zM303 180h5v5h-5zM173 190h5v5h-5zM458 190h5v5h-5zM578 190h5v5h-5zM578 195h5v5h-5zM453 200h5v5h-5zM168 205h5v5h-5zM278 205h5v5h-5zM578 205h5v5h-5zM168 210h5v5h-5zM578 210h5v5h-5zM188 230h5v5h-5zM448 235h5v5h-5zM563 235h5v5h-5zM448 240h5v5h-5zM558 245h5v5h-5zM553 255h5v5h-5zM443 260h5v5h-5zM548 260h5v5h-5zM543 265h5v5h-5zM438 275h5v5h-5zM433 295h5v5h-5zM428 305h5v5h-5zM423 310h5v5h-5zM408 330h5v5h-5zM473 330h5v5h-5zM468 345h5v5h-5zM673 345h10v5h-10zM383 355h5v5h-5zM463 355h5v5h-5zM123 370h5v5h-5zM148 370h10v5h-10zM363 370h5v5h-5zM708 380h5v5h-5zM333 385h5v5h-5zM78 390h5v5h-5zM208 390h5v5h-5zM713 390h5v5h-5zM228 395h5v5h-5zM303 395h5v5h-5zM243 400h5v5h-5zM268 400h5v5h-5zM718 420h5v5h-5zM68 425h5v5h-5z"/>
<path fill="#d1d1d1" d="M298 125h5v5h-5zM308 130h5v5h-5zM313 135h5v5h-5zM543 150h5v5h-5zM313 160h5v5h-5zM558 160h5v5h-5zM563 165h5v5h-5zM568 170h5v5h-5zM468 175h5v5h-5zM298 185h5v5h-5zM283 200h5v5h-5zM578 200h5v5h-5zM268 210h5v5h-5zM173 220h5v5h-5zM178 225h5v5h-5zM238 225h5v5h-5zM193 230h5v5h-5zM218 230h5v5h-5zM448 245h5v5h-5zM533 270h5v5h-5zM438 280h5v5h-5zM513 285h5v5h-5zM508 290h5v5h-5zM503 295h5v5h-5zM433 300h5v5h-5zM498 300h5v5h-5zM493 305h5v5h-5zM488 310h5v5h-5zM483 315h5v5h-5zM478 320h5v5h-5zM413 325h5v5h-5zM473 325h5v5h-5zM468 340h5v5h-5zM663 350h5v5h-5zM658 355h5v5h-5zM378 360h5v5h-5zM653 360h5v5h-5zM458 365h5v5h-5zM108 370h15v5h-15zM168 375h5v5h-5zM88 380h5v5h-5zM178 380h5v5h-5zM643 380h5v5h-5zM83 385h5v5h-5zM188 385h5v5h-5zM453 385h5v5h-5zM203 390h5v5h-5zM323 390h5v5h-5zM223 395h5v5h-5zM308 395h5v5h-5zM638 395h5v5h-5zM73 400h5v5h-5zM238 400h5v5h-5zM273 400h10v5h-10zM718 405h5v5h-5zM718 410h5v5h-5zM718 415h5v5h-5zM448 425h5v5h-5z"/>
<path fill="#d2d2d2" d="M278 125h5v5h-5zM293 125h5v5h-5zM243 130h5v5h-5zM233 135h5v5h-5zM218 145h5v5h-5zM498 145h5v5h-5zM528 145h5v5h-5zM488 150h5v5h-5zM473 165h5v5h-5zM308 170h5v5h-5zM573 180h5v5h-5zM463 185h5v5h-5zM293 190h5v5h-5zM288 195h5v5h-5zM453 205h5v5h-5zM258 215h5v5h-5zM573 220h5v5h-5zM198 230h20v5h-20zM448 250h5v5h-5zM443 265h5v5h-5zM518 280h5v5h-5zM438 285h5v5h-5zM438 290h5v5h-5zM433 305h5v5h-5zM428 310h5v5h-5zM423 315h5v5h-5zM418 320h5v5h-5zM468 330h5v5h-5zM468 335h5v5h-5zM463 350h5v5h-5zM688 350h5v5h-5zM698 360h5v5h-5zM373 365h5v5h-5zM648 370h5v5h-5zM703 370h5v5h-5zM98 375h5v5h-5zM348 380h5v5h-5zM453 380h5v5h-5zM338 385h5v5h-5zM198 390h5v5h-5zM218 395h5v5h-5zM283 400h5v5h-5zM253 405h15v5h-15zM448 410h5v5h-5zM448 415h5v5h-5zM448 420h5v5h-5z"/>
<path fill="#d3d3d3" d="M283 125h10v5h-10zM313 140h5v5h-5zM208 150h5v5h-5zM538 150h5v5h-5zM313 155h5v5h-5zM483 155h5v5h-5zM548 155h5v5h-5zM193 165h5v5h-5zM178 185h5v5h-5zM173 195h5v5h-5zM458 195h5v5h-5zM173 215h5v5h-5zM248 220h5v5h-5zM183 225h5v5h-5zM233 225h5v5h-5zM568 225h5v5h-5zM558 240h5v5h-5zM553 250h5v5h-5zM448 255h5v5h-5zM538 265h5v5h-5zM443 270h5v5h-5zM523 275h5v5h-5zM438 295h5v5h-5zM478 315h5v5h-5zM473 320h5v5h-5zM408 335h5v5h-5zM403 340h5v5h-5zM398 345h5v5h-5zM463 345h5v5h-5zM393 350h5v5h-5zM668 350h5v5h-5zM693 355h5v5h-5zM458 360h5v5h-5zM358 375h5v5h-5zM453 375h5v5h-5zM708 385h5v5h-5zM328 390h5v5h-5zM213 395h5v5h-5zM313 395h5v5h-5zM713 395h5v5h-5zM233 400h5v5h-5zM288 400h10v5h-10zM638 400h5v5h-5zM73 405h5v5h-5zM248 405h5v5h-5zM268 405h5v5h-5zM448 405h5v5h-5z"/>
<path fill="#d4d4d4" d="M248 130h5v5h-5zM303 130h5v5h-5zM308 135h5v5h-5zM228 140h5v5h-5zM313 145h5v5h-5zM503 145h5v5h-5zM523 145h5v5h-5zM313 150h5v5h-5zM478 160h5v5h-5zM553 160h5v5h-5zM473 170h5v5h-5zM303 175h5v5h-5zM183 180h5v5h-5zM468 180h5v5h-5zM573 185h5v5h-5zM273 205h5v5h-5zM453 210h5v5h-5zM453 215h5v5h-5zM573 215h5v5h-5zM178 220h5v5h-5zM453 220h5v5h-5zM453 225h5v5h-5zM563 230h5v5h-5zM448 260h5v5h-5zM528 270h5v5h-5zM443 275h5v5h-5zM443 280h5v5h-5zM508 285h5v5h-5zM503 290h5v5h-5zM498 295h5v5h-5zM438 300h5v5h-5zM493 300h5v5h-5zM488 305h5v5h-5zM433 310h5v5h-5zM483 310h5v5h-5zM428 315h5v5h-5zM423 320h5v5h-5zM468 325h5v5h-5zM413 330h5v5h-5zM463 335h5v5h-5zM463 340h5v5h-5zM673 350h5v5h-5zM683 350h5v5h-5zM388 355h5v5h-5zM653 365h5v5h-5zM368 370h5v5h-5zM103 375h5v5h-5zM163 375h5v5h-5zM93 380h5v5h-5zM173 380h5v5h-5zM183 385h5v5h-5zM643 385h5v5h-5zM193 390h5v5h-5zM78 395h5v5h-5zM208 395h5v5h-5zM223 400h10v5h-10zM298 400h5v5h-5zM448 400h5v5h-5zM243 405h5v5h-5zM273 405h5v5h-5zM638 405h5v5h-5zM73 410h5v5h-5zM258 410h10v5h-10z"/>
<path fill="#d5d5d5" d="M253 130h5v5h-5zM508 145h15v5h-15zM493 150h5v5h-5zM203 155h5v5h-5zM198 160h5v5h-5zM308 165h5v5h-5zM558 165h5v5h-5zM188 175h5v5h-5zM568 175h5v5h-5zM298 180h5v5h-5zM463 190h5v5h-5zM573 190h5v5h-5zM173 200h5v5h-5zM173 205h5v5h-5zM173 210h5v5h-5zM263 210h5v5h-5zM573 210h5v5h-5zM188 225h5v5h-5zM228 225h5v5h-5zM453 230h5v5h-5zM453 235h5v5h-5zM453 240h5v5h-5zM548 255h5v5h-5zM543 260h5v5h-5zM448 265h5v5h-5zM513 280h5v5h-5zM443 285h5v5h-5zM438 305h5v5h-5zM433 315h5v5h-5zM418 325h5v5h-5zM463 330h5v5h-5zM678 350h5v5h-5zM458 355h5v5h-5zM663 355h5v5h-5zM383 360h5v5h-5zM658 360h5v5h-5zM698 365h5v5h-5zM453 370h5v5h-5zM128 375h15v5h-15zM158 375h5v5h-5zM648 375h5v5h-5zM703 375h5v5h-5zM353 380h5v5h-5zM88 385h5v5h-5zM343 385h5v5h-5zM83 390h5v5h-5zM203 395h5v5h-5zM318 395h5v5h-5zM448 395h5v5h-5zM218 400h5v5h-5zM303 400h5v5h-5zM238 405h5v5h-5zM278 405h5v5h-5zM253 410h5v5h-5zM268 410h5v5h-5zM638 410h5v5h-5zM73 415h5v5h-5zM73 420h5v5h-5z"/>
<path fill="#d6d6d6" d="M258 130h10v5h-10zM298 130h5v5h-5zM238 135h5v5h-5zM308 140h5v5h-5zM223 145h5v5h-5zM533 150h5v5h-5zM543 155h5v5h-5zM478 165h5v5h-5zM563 170h5v5h-5zM473 175h5v5h-5zM293 185h5v5h-5zM573 195h5v5h-5zM278 200h5v5h-5zM458 200h5v5h-5zM573 200h5v5h-5zM573 205h5v5h-5zM253 215h5v5h-5zM243 220h5v5h-5zM568 220h5v5h-5zM223 225h5v5h-5zM558 235h5v5h-5zM453 245h5v5h-5zM553 245h5v5h-5zM453 250h5v5h-5zM533 265h5v5h-5zM448 270h5v5h-5zM518 275h5v5h-5zM443 290h5v5h-5zM498 290h5v5h-5zM493 295h5v5h-5zM488 300h5v5h-5zM483 305h5v5h-5zM438 310h5v5h-5zM478 310h5v5h-5zM473 315h5v5h-5zM428 320h5v5h-5zM468 320h5v5h-5zM463 325h5v5h-5zM458 350h5v5h-5zM688 355h5v5h-5zM378 365h5v5h-5zM453 365h5v5h-5zM108 375h20v5h-20zM143 375h15v5h-15zM363 375h5v5h-5zM168 380h5v5h-5zM178 385h5v5h-5zM188 390h5v5h-5zM333 390h5v5h-5zM448 390h5v5h-5zM643 390h5v5h-5zM198 395h5v5h-5zM78 400h5v5h-5zM213 400h5v5h-5zM713 400h5v5h-5zM233 405h5v5h-5zM283 405h5v5h-5zM248 410h5v5h-5zM638 415h5v5h-5zM638 420h5v5h-5zM73 425h5v5h-5zM638 425h5v5h-5z"/>
<path fill="#d7d7d7" d="M268 130h5v5h-5zM303 135h5v5h-5zM213 150h5v5h-5zM498 150h5v5h-5zM488 155h5v5h-5zM308 160h5v5h-5zM483 160h5v5h-5zM548 160h5v5h-5zM193 170h5v5h-5zM303 170h5v5h-5zM568 180h5v5h-5zM468 185h5v5h-5zM178 190h5v5h-5zM288 190h5v5h-5zM283 195h5v5h-5zM178 215h5v5h-5zM183 220h5v5h-5zM193 225h5v5h-5zM218 225h5v5h-5zM563 225h5v5h-5zM453 255h5v5h-5zM523 270h5v5h-5zM448 275h5v5h-5zM508 280h5v5h-5zM503 285h5v5h-5zM443 295h5v5h-5zM443 300h5v5h-5zM438 315h5v5h-5zM423 325h5v5h-5zM458 325h5v5h-5zM458 330h5v5h-5zM413 335h5v5h-5zM458 335h5v5h-5zM408 340h5v5h-5zM458 340h5v5h-5zM403 345h5v5h-5zM458 345h5v5h-5zM398 350h5v5h-5zM668 355h5v5h-5zM693 360h5v5h-5zM653 370h5v5h-5zM98 380h5v5h-5zM448 385h5v5h-5zM708 390h5v5h-5zM323 395h5v5h-5zM208 400h5v5h-5zM308 400h5v5h-5zM228 405h5v5h-5zM288 405h5v5h-5zM243 410h5v5h-5zM273 410h5v5h-5zM258 415h15v5h-15zM713 425h5v5h-5z"/>
<path fill="#d8d8d8" d="M273 130h5v5h-5zM293 130h5v5h-5zM308 145h5v5h-5zM308 150h5v5h-5zM528 150h5v5h-5zM308 155h5v5h-5zM538 155h5v5h-5zM463 195h5v5h-5zM268 205h5v5h-5zM458 205h5v5h-5zM568 215h5v5h-5zM238 220h5v5h-5zM198 225h10v5h-10zM213 225h5v5h-5zM553 240h5v5h-5zM548 250h5v5h-5zM543 255h5v5h-5zM453 260h5v5h-5zM538 260h5v5h-5zM453 265h5v5h-5zM513 275h5v5h-5zM448 280h5v5h-5zM448 285h5v5h-5zM488 295h5v5h-5zM483 300h5v5h-5zM443 305h5v5h-5zM443 310h5v5h-5zM473 310h5v5h-5zM443 315h5v5h-5zM468 315h5v5h-5zM433 320h15v5h-15zM463 320h5v5h-5zM453 325h5v5h-5zM418 330h5v5h-5zM393 355h5v5h-5zM673 355h5v5h-5zM683 355h5v5h-5zM453 360h5v5h-5zM663 360h5v5h-5zM373 370h5v5h-5zM358 380h5v5h-5zM448 380h5v5h-5zM648 380h5v5h-5zM703 380h5v5h-5zM93 385h5v5h-5zM348 385h5v5h-5zM183 390h5v5h-5zM338 390h5v5h-5zM83 395h5v5h-5zM193 395h5v5h-5zM643 395h5v5h-5zM203 400h5v5h-5zM78 405h5v5h-5zM218 405h10v5h-10zM713 405h5v5h-5zM238 410h5v5h-5zM278 410h5v5h-5zM253 415h5v5h-5zM443 415h5v5h-5zM263 420h10v5h-10zM443 420h5v5h-5zM713 420h5v5h-5zM443 425h5v5h-5z"/>
<path fill="#d9d9d9" d="M278 130h5v5h-5zM288 130h5v5h-5zM233 140h5v5h-5zM503 150h5v5h-5zM523 150h5v5h-5zM493 155h5v5h-5zM553 165h5v5h-5zM478 170h5v5h-5zM558 170h5v5h-5zM298 175h5v5h-5zM563 175h5v5h-5zM473 180h5v5h-5zM183 185h5v5h-5zM568 185h5v5h-5zM178 195h5v5h-5zM178 210h5v5h-5zM258 210h5v5h-5zM458 210h5v5h-5zM458 215h5v5h-5zM188 220h5v5h-5zM208 225h5v5h-5zM458 225h5v5h-5zM458 230h5v5h-5zM558 230h5v5h-5zM458 235h5v5h-5zM458 240h5v5h-5zM458 245h5v5h-5zM528 265h5v5h-5zM453 270h5v5h-5zM518 270h5v5h-5zM453 275h5v5h-5zM503 280h5v5h-5zM498 285h5v5h-5zM448 290h5v5h-5zM493 290h5v5h-5zM478 305h5v5h-5zM448 315h5v5h-5zM448 320h15v5h-15zM428 325h5v5h-5zM448 325h5v5h-5zM453 330h5v5h-5zM678 355h5v5h-5zM388 360h5v5h-5zM658 365h5v5h-5zM698 370h5v5h-5zM448 375h5v5h-5zM103 380h5v5h-5zM163 380h5v5h-5zM173 385h5v5h-5zM88 390h5v5h-5zM328 395h5v5h-5zM198 400h5v5h-5zM313 400h5v5h-5zM213 405h5v5h-5zM293 405h5v5h-5zM443 405h5v5h-5zM78 410h5v5h-5zM228 410h10v5h-10zM443 410h5v5h-5zM713 410h5v5h-5zM248 415h5v5h-5zM273 415h5v5h-5zM713 415h5v5h-5zM258 420h5v5h-5zM263 425h10v5h-10z"/>
<path fill="#dadada" d="M283 130h5v5h-5zM243 135h5v5h-5zM298 135h5v5h-5zM303 140h5v5h-5zM218 150h5v5h-5zM508 150h15v5h-15zM208 155h5v5h-5zM533 155h5v5h-5zM488 160h5v5h-5zM543 160h5v5h-5zM198 165h5v5h-5zM303 165h5v5h-5zM483 165h5v5h-5zM468 190h5v5h-5zM568 190h5v5h-5zM178 200h5v5h-5zM273 200h5v5h-5zM463 200h5v5h-5zM178 205h5v5h-5zM568 210h5v5h-5zM183 215h5v5h-5zM248 215h5v5h-5zM458 220h5v5h-5zM563 220h5v5h-5zM553 235h5v5h-5zM548 245h5v5h-5zM458 250h5v5h-5zM458 255h5v5h-5zM458 260h5v5h-5zM533 260h5v5h-5zM508 275h5v5h-5zM453 280h5v5h-5zM493 285h5v5h-5zM488 290h5v5h-5zM448 295h5v5h-5zM483 295h5v5h-5zM478 300h5v5h-5zM448 310h5v5h-5zM453 315h5v5h-5zM463 315h5v5h-5zM443 325h5v5h-5zM453 335h5v5h-5zM453 355h5v5h-5zM688 360h5v5h-5zM383 365h5v5h-5zM448 370h5v5h-5zM368 375h5v5h-5zM108 380h5v5h-5zM133 380h10v5h-10zM158 380h5v5h-5zM648 385h5v5h-5zM178 390h5v5h-5zM188 395h5v5h-5zM443 400h5v5h-5zM643 400h5v5h-5zM208 405h5v5h-5zM298 405h5v5h-5zM223 410h5v5h-5zM283 410h5v5h-5zM78 415h5v5h-5zM243 415h5v5h-5zM78 420h5v5h-5zM253 420h5v5h-5zM78 425h5v5h-5zM258 425h5v5h-5z"/>
<path fill="#dbdbdb" d="M228 145h5v5h-5zM498 155h5v5h-5zM203 160h5v5h-5zM548 165h5v5h-5zM478 175h5v5h-5zM188 180h5v5h-5zM293 180h5v5h-5zM563 180h5v5h-5zM473 185h5v5h-5zM568 195h5v5h-5zM568 200h5v5h-5zM568 205h5v5h-5zM193 220h5v5h-5zM233 220h5v5h-5zM558 225h5v5h-5zM543 250h5v5h-5zM538 255h5v5h-5zM458 265h5v5h-5zM523 265h5v5h-5zM458 270h5v5h-5zM513 270h5v5h-5zM503 275h5v5h-5zM498 280h5v5h-5zM453 285h5v5h-5zM448 300h5v5h-5zM448 305h5v5h-5zM473 305h5v5h-5zM468 310h5v5h-5zM458 315h5v5h-5zM433 325h10v5h-10zM423 330h5v5h-5zM448 330h5v5h-5zM418 335h5v5h-5zM413 340h5v5h-5zM453 340h5v5h-5zM408 345h5v5h-5zM453 345h5v5h-5zM403 350h5v5h-5zM453 350h5v5h-5zM668 360h5v5h-5zM693 365h5v5h-5zM378 370h5v5h-5zM653 375h5v5h-5zM113 380h20v5h-20zM143 380h15v5h-15zM98 385h5v5h-5zM168 385h5v5h-5zM353 385h5v5h-5zM703 385h5v5h-5zM343 390h5v5h-5zM443 395h5v5h-5zM708 395h5v5h-5zM83 400h5v5h-5zM193 400h5v5h-5zM318 400h5v5h-5zM203 405h5v5h-5zM303 405h5v5h-5zM213 410h10v5h-10zM233 415h10v5h-10zM273 420h5v5h-5z"/>
<path fill="#dcdcdc" d="M248 135h5v5h-5zM303 145h5v5h-5zM528 155h5v5h-5zM303 160h5v5h-5zM538 160h5v5h-5zM553 170h5v5h-5zM193 175h5v5h-5zM288 185h5v5h-5zM183 190h5v5h-5zM283 190h5v5h-5zM278 195h5v5h-5zM468 195h5v5h-5zM263 205h5v5h-5zM463 205h5v5h-5zM563 215h5v5h-5zM228 220h5v5h-5zM548 240h5v5h-5zM463 245h5v5h-5zM463 250h5v5h-5zM463 255h5v5h-5zM508 270h5v5h-5zM458 275h5v5h-5zM458 280h5v5h-5zM493 280h5v5h-5zM488 285h5v5h-5zM453 290h5v5h-5zM483 290h5v5h-5zM453 295h5v5h-5zM478 295h5v5h-5zM473 300h5v5h-5zM468 305h5v5h-5zM453 310h5v5h-5zM463 310h5v5h-5zM398 355h5v5h-5zM683 360h5v5h-5zM448 365h5v5h-5zM663 365h5v5h-5zM658 370h5v5h-5zM698 375h5v5h-5zM363 380h5v5h-5zM93 390h5v5h-5zM173 390h5v5h-5zM443 390h5v5h-5zM88 395h5v5h-5zM183 395h5v5h-5zM333 395h5v5h-5zM188 400h5v5h-5zM198 405h5v5h-5zM308 405h5v5h-5zM643 405h5v5h-5zM208 410h5v5h-5zM288 410h5v5h-5zM223 415h10v5h-10zM278 415h5v5h-5zM248 420h5v5h-5zM253 425h5v5h-5zM273 425h5v5h-5z"/>
<path fill="#dddddd" d="M293 135h5v5h-5zM238 140h5v5h-5zM303 150h5v5h-5zM303 155h5v5h-5zM503 155h5v5h-5zM493 160h5v5h-5zM488 165h5v5h-5zM298 170h5v5h-5zM483 170h5v5h-5zM558 175h5v5h-5zM478 180h5v5h-5zM563 185h5v5h-5zM473 190h5v5h-5zM183 210h5v5h-5zM253 210h5v5h-5zM463 210h5v5h-5zM188 215h5v5h-5zM243 215h5v5h-5zM198 220h5v5h-5zM223 220h5v5h-5zM463 230h5v5h-5zM553 230h5v5h-5zM463 235h5v5h-5zM463 240h5v5h-5zM463 260h5v5h-5zM528 260h5v5h-5zM463 265h5v5h-5zM518 265h5v5h-5zM463 270h5v5h-5zM463 275h5v5h-5zM498 275h5v5h-5zM463 280h5v5h-5zM488 280h5v5h-5zM458 285h5v5h-5zM483 285h5v5h-5zM458 290h5v5h-5zM478 290h5v5h-5zM473 295h5v5h-5zM453 300h5v5h-5zM453 305h5v5h-5zM458 310h5v5h-5zM428 330h5v5h-5zM443 330h5v5h-5zM448 335h5v5h-5zM393 360h5v5h-5zM448 360h5v5h-5zM673 360h10v5h-10zM373 375h5v5h-5zM443 380h5v5h-5zM103 385h5v5h-5zM163 385h5v5h-5zM443 385h5v5h-5zM648 390h5v5h-5zM323 400h5v5h-5zM83 405h5v5h-5zM193 405h5v5h-5zM203 410h5v5h-5zM293 410h5v5h-5zM643 410h5v5h-5zM213 415h10v5h-10zM223 420h25v5h-25z"/>
<path fill="#dedede" d="M253 135h10v5h-10zM298 140h5v5h-5zM213 155h5v5h-5zM508 155h5v5h-5zM518 155h10v5h-10zM533 160h5v5h-5zM543 165h5v5h-5zM183 195h5v5h-5zM468 200h5v5h-5zM183 205h5v5h-5zM563 210h5v5h-5zM463 215h5v5h-5zM203 220h5v5h-5zM218 220h5v5h-5zM463 220h5v5h-5zM558 220h5v5h-5zM463 225h5v5h-5zM548 235h5v5h-5zM543 245h5v5h-5zM538 250h5v5h-5zM533 255h5v5h-5zM523 260h5v5h-5zM468 265h5v5h-5zM513 265h5v5h-5zM468 270h5v5h-5zM503 270h5v5h-5zM468 275h5v5h-5zM493 275h5v5h-5zM468 280h5v5h-5zM483 280h5v5h-5zM463 285h20v5h-20zM463 290h15v5h-15zM458 295h15v5h-15zM468 300h5v5h-5zM463 305h5v5h-5zM433 330h10v5h-10zM423 335h5v5h-5zM418 340h5v5h-5zM413 345h5v5h-5zM448 355h5v5h-5zM388 365h5v5h-5zM688 365h5v5h-5zM693 370h5v5h-5zM443 375h5v5h-5zM653 380h5v5h-5zM108 385h5v5h-5zM158 385h5v5h-5zM358 385h5v5h-5zM98 390h5v5h-5zM168 390h5v5h-5zM348 390h5v5h-5zM178 395h5v5h-5zM338 395h5v5h-5zM88 400h5v5h-5zM183 400h5v5h-5zM708 400h5v5h-5zM188 405h5v5h-5zM313 405h5v5h-5zM83 410h5v5h-5zM198 410h5v5h-5zM298 410h5v5h-5zM83 415h5v5h-5zM208 415h5v5h-5zM283 415h5v5h-5zM643 415h5v5h-5zM213 420h10v5h-10zM278 420h5v5h-5zM438 420h5v5h-5zM643 420h5v5h-5zM218 425h20v5h-20zM248 425h5v5h-5zM438 425h5v5h-5zM643 425h5v5h-5z"/>
<path fill="#dfdfdf" d="M263 135h5v5h-5zM288 135h5v5h-5zM223 150h5v5h-5zM513 155h5v5h-5zM498 160h5v5h-5zM298 165h5v5h-5zM198 170h5v5h-5zM548 170h5v5h-5zM293 175h5v5h-5zM483 175h5v5h-5zM558 180h5v5h-5zM188 185h5v5h-5zM478 185h5v5h-5zM563 190h5v5h-5zM473 195h5v5h-5zM563 195h5v5h-5zM183 200h5v5h-5zM268 200h5v5h-5zM563 200h5v5h-5zM468 205h5v5h-5zM563 205h5v5h-5zM238 215h5v5h-5zM208 220h10v5h-10zM553 225h5v5h-5zM468 240h5v5h-5zM468 245h5v5h-5zM468 250h5v5h-5zM468 255h5v5h-5zM468 260h5v5h-5zM518 260h5v5h-5zM508 265h5v5h-5zM473 270h5v5h-5zM493 270h10v5h-10zM473 275h20v5h-20zM473 280h10v5h-10zM458 300h10v5h-10zM458 305h5v5h-5zM448 340h5v5h-5zM408 350h5v5h-5zM448 350h5v5h-5zM403 355h5v5h-5zM668 365h5v5h-5zM383 370h5v5h-5zM443 370h5v5h-5zM368 380h5v5h-5zM698 380h5v5h-5zM113 385h45v5h-45zM703 390h5v5h-5zM93 395h5v5h-5zM173 395h5v5h-5zM648 395h5v5h-5zM328 400h5v5h-5zM193 410h5v5h-5zM438 410h5v5h-5zM198 415h10v5h-10zM438 415h5v5h-5zM83 420h5v5h-5zM208 420h5v5h-5zM83 425h5v5h-5zM208 425h10v5h-10zM238 425h10v5h-10z"/>
<path fill="#e0e0e0" d="M268 135h10v5h-10zM283 135h5v5h-5zM233 145h5v5h-5zM298 145h5v5h-5zM208 160h5v5h-5zM528 160h5v5h-5zM203 165h5v5h-5zM493 165h5v5h-5zM538 165h5v5h-5zM488 170h5v5h-5zM553 175h5v5h-5zM288 180h5v5h-5zM483 180h5v5h-5zM273 195h5v5h-5zM258 205h5v5h-5zM188 210h5v5h-5zM248 210h5v5h-5zM468 210h5v5h-5zM193 215h5v5h-5zM558 215h5v5h-5zM468 230h5v5h-5zM548 230h5v5h-5zM468 235h5v5h-5zM543 240h5v5h-5zM473 255h5v5h-5zM528 255h5v5h-5zM473 260h5v5h-5zM513 260h5v5h-5zM473 265h10v5h-10zM498 265h10v5h-10zM478 270h15v5h-15zM448 345h5v5h-5zM398 360h5v5h-5zM443 365h5v5h-5zM663 370h5v5h-5zM378 375h5v5h-5zM658 375h5v5h-5zM363 385h5v5h-5zM103 390h5v5h-5zM163 390h5v5h-5zM353 390h5v5h-5zM178 400h5v5h-5zM438 400h5v5h-5zM88 405h5v5h-5zM183 405h5v5h-5zM318 405h5v5h-5zM438 405h5v5h-5zM708 405h5v5h-5zM188 410h5v5h-5zM303 410h5v5h-5zM193 415h5v5h-5zM288 415h5v5h-5zM198 420h10v5h-10zM203 425h5v5h-5zM278 425h5v5h-5z"/>
<path fill="#e1e1e1" d="M278 135h5v5h-5zM243 140h5v5h-5zM293 140h5v5h-5zM298 150h5v5h-5zM298 155h5v5h-5zM298 160h5v5h-5zM503 160h5v5h-5zM523 160h5v5h-5zM533 165h5v5h-5zM543 170h5v5h-5zM193 180h5v5h-5zM283 185h5v5h-5zM558 185h5v5h-5zM278 190h5v5h-5zM478 190h5v5h-5zM473 200h5v5h-5zM558 210h5v5h-5zM468 215h5v5h-5zM468 220h5v5h-5zM553 220h5v5h-5zM468 225h5v5h-5zM543 235h5v5h-5zM473 240h5v5h-5zM473 245h5v5h-5zM538 245h5v5h-5zM473 250h5v5h-5zM533 250h5v5h-5zM478 255h5v5h-5zM523 255h5v5h-5zM478 260h5v5h-5zM503 260h10v5h-10zM483 265h15v5h-15zM428 335h5v5h-5zM443 335h5v5h-5zM423 340h5v5h-5zM418 345h5v5h-5zM443 360h5v5h-5zM393 365h5v5h-5zM673 365h15v5h-15zM653 385h5v5h-5zM158 390h5v5h-5zM98 395h5v5h-5zM168 395h5v5h-5zM343 395h5v5h-5zM438 395h5v5h-5zM173 400h5v5h-5zM333 400h5v5h-5zM648 400h5v5h-5zM178 405h5v5h-5zM88 410h5v5h-5zM183 410h5v5h-5zM308 410h5v5h-5zM708 410h5v5h-5zM188 415h5v5h-5zM293 415h5v5h-5zM708 415h5v5h-5zM193 420h5v5h-5zM283 420h5v5h-5zM708 420h5v5h-5zM198 425h5v5h-5z"/>
<path fill="#e2e2e2" d="M218 155h5v5h-5zM508 160h15v5h-15zM498 165h5v5h-5zM293 170h5v5h-5zM493 170h5v5h-5zM488 175h5v5h-5zM548 175h5v5h-5zM553 180h5v5h-5zM483 185h5v5h-5zM188 190h5v5h-5zM558 190h5v5h-5zM478 195h5v5h-5zM188 205h5v5h-5zM473 205h5v5h-5zM558 205h5v5h-5zM198 215h5v5h-5zM233 215h5v5h-5zM548 225h5v5h-5zM473 230h5v5h-5zM473 235h5v5h-5zM538 240h5v5h-5zM478 245h5v5h-5zM478 250h5v5h-5zM528 250h5v5h-5zM483 255h5v5h-5zM513 255h10v5h-10zM483 260h20v5h-20zM433 335h5v5h-5zM413 350h5v5h-5zM408 355h5v5h-5zM443 355h5v5h-5zM388 370h5v5h-5zM688 370h5v5h-5zM693 375h5v5h-5zM373 380h5v5h-5zM438 385h5v5h-5zM108 390h10v5h-10zM133 390h25v5h-25zM438 390h5v5h-5zM163 395h5v5h-5zM93 400h5v5h-5zM323 405h5v5h-5zM88 415h5v5h-5zM183 415h5v5h-5zM298 415h5v5h-5zM88 420h5v5h-5zM188 420h5v5h-5zM88 425h5v5h-5zM193 425h5v5h-5zM708 425h5v5h-5z"/>
<path fill="#e3e3e3" d="M288 140h5v5h-5zM293 145h5v5h-5zM528 165h5v5h-5zM538 170h5v5h-5zM198 175h5v5h-5zM488 180h5v5h-5zM558 195h5v5h-5zM263 200h5v5h-5zM558 200h5v5h-5zM193 210h5v5h-5zM243 210h5v5h-5zM473 210h5v5h-5zM203 215h5v5h-5zM228 215h5v5h-5zM473 215h5v5h-5zM553 215h5v5h-5zM473 220h5v5h-5zM473 225h5v5h-5zM543 230h5v5h-5zM478 235h5v5h-5zM478 240h5v5h-5zM483 245h5v5h-5zM533 245h5v5h-5zM483 250h10v5h-10zM518 250h10v5h-10zM488 255h25v5h-25zM438 335h5v5h-5zM443 340h5v5h-5zM443 345h5v5h-5zM443 350h5v5h-5zM403 360h5v5h-5zM668 370h5v5h-5zM438 375h5v5h-5zM438 380h5v5h-5zM658 380h5v5h-5zM368 385h5v5h-5zM698 385h5v5h-5zM118 390h15v5h-15zM358 390h5v5h-5zM653 390h5v5h-5zM103 395h5v5h-5zM158 395h5v5h-5zM348 395h5v5h-5zM703 395h5v5h-5zM168 400h5v5h-5zM338 400h5v5h-5zM93 405h5v5h-5zM173 405h5v5h-5zM648 405h5v5h-5zM178 410h5v5h-5zM313 410h5v5h-5zM183 420h5v5h-5zM288 420h5v5h-5zM183 425h10v5h-10zM283 425h5v5h-5z"/>
<path fill="#e4e4e4" d="M248 140h5v5h-5zM238 145h5v5h-5zM228 150h5v5h-5zM213 160h5v5h-5zM293 165h5v5h-5zM503 165h5v5h-5zM288 175h5v5h-5zM493 175h5v5h-5zM543 175h5v5h-5zM553 185h5v5h-5zM483 190h5v5h-5zM188 195h5v5h-5zM268 195h5v5h-5zM188 200h5v5h-5zM478 200h5v5h-5zM253 205h5v5h-5zM553 210h5v5h-5zM208 215h5v5h-5zM223 215h5v5h-5zM548 220h5v5h-5zM478 225h5v5h-5zM478 230h5v5h-5zM538 235h5v5h-5zM483 240h5v5h-5zM533 240h5v5h-5zM488 245h5v5h-5zM528 245h5v5h-5zM493 250h25v5h-25zM428 340h5v5h-5zM423 345h5v5h-5zM418 350h5v5h-5zM438 365h5v5h-5zM438 370h5v5h-5zM383 375h5v5h-5zM663 375h5v5h-5zM153 395h5v5h-5zM98 400h5v5h-5zM163 400h5v5h-5zM168 405h5v5h-5zM328 405h5v5h-5zM173 410h5v5h-5zM318 410h5v5h-5zM648 410h5v5h-5zM178 415h5v5h-5zM303 415h5v5h-5zM433 415h5v5h-5zM178 420h5v5h-5zM293 420h5v5h-5zM433 420h5v5h-5zM178 425h5v5h-5zM433 425h5v5h-5z"/>
<path fill="#e5e5e5" d="M283 140h5v5h-5zM293 150h5v5h-5zM508 165h20v5h-20zM203 170h5v5h-5zM498 170h5v5h-5zM533 170h5v5h-5zM548 180h5v5h-5zM193 185h5v5h-5zM488 185h5v5h-5zM553 190h5v5h-5zM483 195h5v5h-5zM478 205h5v5h-5zM553 205h5v5h-5zM478 210h5v5h-5zM213 215h10v5h-10zM478 215h5v5h-5zM548 215h5v5h-5zM478 220h5v5h-5zM543 225h5v5h-5zM483 230h5v5h-5zM538 230h5v5h-5zM483 235h5v5h-5zM488 240h10v5h-10zM528 240h5v5h-5zM493 245h35v5h-35zM433 340h10v5h-10zM413 355h5v5h-5zM438 355h5v5h-5zM438 360h5v5h-5zM398 365h5v5h-5zM673 370h15v5h-15zM378 380h5v5h-5zM363 390h5v5h-5zM108 395h10v5h-10zM133 395h20v5h-20zM353 395h5v5h-5zM158 400h5v5h-5zM163 405h5v5h-5zM433 405h5v5h-5zM93 410h5v5h-5zM168 410h5v5h-5zM433 410h5v5h-5zM93 415h5v5h-5zM173 415h5v5h-5zM308 415h5v5h-5zM648 415h5v5h-5zM173 420h5v5h-5zM298 420h5v5h-5zM648 420h5v5h-5zM173 425h5v5h-5zM288 425h5v5h-5z"/>
<path fill="#e6e6e6" d="M253 140h10v5h-10zM223 155h5v5h-5zM293 155h5v5h-5zM293 160h5v5h-5zM208 165h5v5h-5zM503 170h5v5h-5zM528 170h5v5h-5zM538 175h5v5h-5zM283 180h5v5h-5zM493 180h5v5h-5zM278 185h5v5h-5zM548 185h5v5h-5zM273 190h5v5h-5zM488 190h5v5h-5zM553 195h5v5h-5zM483 200h5v5h-5zM553 200h5v5h-5zM193 205h5v5h-5zM483 205h5v5h-5zM198 210h5v5h-5zM238 210h5v5h-5zM483 220h5v5h-5zM543 220h5v5h-5zM483 225h5v5h-5zM488 230h5v5h-5zM488 235h10v5h-10zM533 235h5v5h-5zM498 240h10v5h-10zM523 240h5v5h-5zM428 345h15v5h-15zM423 350h5v5h-5zM438 350h5v5h-5zM408 360h5v5h-5zM393 370h5v5h-5zM688 375h5v5h-5zM693 380h5v5h-5zM373 385h5v5h-5zM658 385h5v5h-5zM698 390h5v5h-5zM118 395h15v5h-15zM433 395h5v5h-5zM653 395h5v5h-5zM103 400h5v5h-5zM148 400h10v5h-10zM343 400h5v5h-5zM433 400h5v5h-5zM703 400h5v5h-5zM98 405h5v5h-5zM158 405h5v5h-5zM333 405h5v5h-5zM163 410h5v5h-5zM323 410h5v5h-5zM168 415h5v5h-5zM313 415h5v5h-5zM93 420h5v5h-5zM168 420h5v5h-5zM303 420h5v5h-5zM93 425h5v5h-5zM168 425h5v5h-5zM293 425h5v5h-5zM648 425h5v5h-5z"/>
<path fill="#e7e7e7" d="M263 140h20v5h-20zM243 145h5v5h-5zM288 145h5v5h-5zM233 150h5v5h-5zM288 170h5v5h-5zM523 170h5v5h-5zM498 175h5v5h-5zM533 175h5v5h-5zM198 180h5v5h-5zM543 180h5v5h-5zM493 185h5v5h-5zM193 190h5v5h-5zM488 195h5v5h-5zM258 200h5v5h-5zM248 205h5v5h-5zM483 210h5v5h-5zM548 210h5v5h-5zM483 215h5v5h-5zM488 220h5v5h-5zM488 225h5v5h-5zM538 225h5v5h-5zM493 230h5v5h-5zM533 230h5v5h-5zM498 235h10v5h-10zM523 235h10v5h-10zM508 240h15v5h-15zM428 350h10v5h-10zM418 355h5v5h-5zM433 355h5v5h-5zM403 365h5v5h-5zM388 375h5v5h-5zM668 375h5v5h-5zM663 380h5v5h-5zM433 385h5v5h-5zM433 390h5v5h-5zM108 400h5v5h-5zM138 400h10v5h-10zM153 405h5v5h-5zM703 405h5v5h-5zM98 410h5v5h-5zM158 410h5v5h-5zM163 415h5v5h-5zM163 420h5v5h-5zM163 425h5v5h-5zM298 425h5v5h-5z"/>
<path fill="#e8e8e8" d="M218 160h5v5h-5zM508 170h15v5h-15zM503 175h5v5h-5zM498 180h5v5h-5zM538 180h5v5h-5zM493 190h5v5h-5zM548 190h5v5h-5zM193 195h5v5h-5zM263 195h5v5h-5zM548 195h5v5h-5zM193 200h5v5h-5zM488 200h5v5h-5zM548 200h5v5h-5zM488 205h5v5h-5zM548 205h5v5h-5zM203 210h5v5h-5zM233 210h5v5h-5zM488 210h5v5h-5zM488 215h5v5h-5zM543 215h5v5h-5zM493 220h5v5h-5zM538 220h5v5h-5zM493 225h10v5h-10zM533 225h5v5h-5zM498 230h15v5h-15zM528 230h5v5h-5zM508 235h15v5h-15zM423 355h10v5h-10zM413 360h5v5h-5zM433 360h5v5h-5zM433 365h5v5h-5zM433 370h5v5h-5zM433 375h5v5h-5zM383 380h5v5h-5zM433 380h5v5h-5zM368 390h5v5h-5zM358 395h5v5h-5zM113 400h25v5h-25zM348 400h5v5h-5zM653 400h5v5h-5zM103 405h5v5h-5zM148 405h5v5h-5zM338 405h5v5h-5zM153 410h5v5h-5zM703 410h5v5h-5zM98 415h5v5h-5zM158 415h5v5h-5zM318 415h5v5h-5zM158 420h5v5h-5zM308 420h5v5h-5zM158 425h5v5h-5zM303 425h5v5h-5z"/>
<path fill="#e9e9e9" d="M283 145h5v5h-5zM288 150h5v5h-5zM288 165h5v5h-5zM203 175h5v5h-5zM283 175h5v5h-5zM528 175h5v5h-5zM498 185h5v5h-5zM543 185h5v5h-5zM268 190h5v5h-5zM493 195h5v5h-5zM198 205h5v5h-5zM243 205h5v5h-5zM208 210h5v5h-5zM228 210h5v5h-5zM493 210h5v5h-5zM543 210h5v5h-5zM493 215h5v5h-5zM498 220h5v5h-5zM503 225h10v5h-10zM528 225h5v5h-5zM513 230h15v5h-15zM418 360h5v5h-5zM428 360h5v5h-5zM398 370h5v5h-5zM673 375h15v5h-15zM378 385h5v5h-5zM693 385h5v5h-5zM658 390h5v5h-5zM698 395h5v5h-5zM108 405h5v5h-5zM138 405h10v5h-10zM653 405h5v5h-5zM148 410h5v5h-5zM328 410h5v5h-5zM153 415h5v5h-5zM703 415h5v5h-5zM98 420h5v5h-5zM153 420h5v5h-5zM313 420h5v5h-5zM428 420h5v5h-5zM703 420h5v5h-5zM98 425h5v5h-5zM153 425h5v5h-5zM308 425h5v5h-5zM428 425h5v5h-5zM703 425h5v5h-5z"/>
<path fill="#eaeaea" d="M248 145h5v5h-5zM238 150h5v5h-5zM228 155h5v5h-5zM288 155h5v5h-5zM288 160h5v5h-5zM213 165h5v5h-5zM508 175h5v5h-5zM523 175h5v5h-5zM278 180h5v5h-5zM503 180h5v5h-5zM533 180h5v5h-5zM198 185h5v5h-5zM273 185h5v5h-5zM538 185h5v5h-5zM498 190h5v5h-5zM543 190h5v5h-5zM253 200h5v5h-5zM493 200h5v5h-5zM493 205h5v5h-5zM543 205h5v5h-5zM213 210h15v5h-15zM498 215h5v5h-5zM538 215h5v5h-5zM503 220h5v5h-5zM533 220h5v5h-5zM513 225h15v5h-15zM423 360h5v5h-5zM408 365h5v5h-5zM428 365h5v5h-5zM393 375h5v5h-5zM668 380h5v5h-5zM688 380h5v5h-5zM663 385h5v5h-5zM363 395h5v5h-5zM353 400h5v5h-5zM113 405h5v5h-5zM128 405h10v5h-10zM343 405h5v5h-5zM428 405h5v5h-5zM103 410h5v5h-5zM143 410h5v5h-5zM428 410h5v5h-5zM653 410h5v5h-5zM148 415h5v5h-5zM323 415h5v5h-5zM428 415h5v5h-5zM148 420h5v5h-5zM148 425h5v5h-5z"/>
<path fill="#ebebeb" d="M278 145h5v5h-5zM208 170h5v5h-5zM513 175h10v5h-10zM528 180h5v5h-5zM503 185h5v5h-5zM258 195h5v5h-5zM498 195h5v5h-5zM543 195h5v5h-5zM198 200h5v5h-5zM543 200h5v5h-5zM238 205h5v5h-5zM498 205h5v5h-5zM498 210h5v5h-5zM538 210h5v5h-5zM503 215h5v5h-5zM533 215h5v5h-5zM508 220h10v5h-10zM528 220h5v5h-5zM413 365h5v5h-5zM423 365h5v5h-5zM403 370h5v5h-5zM428 370h5v5h-5zM428 375h5v5h-5zM388 380h5v5h-5zM373 390h5v5h-5zM428 395h5v5h-5zM658 395h5v5h-5zM428 400h5v5h-5zM118 405h10v5h-10zM108 410h5v5h-5zM138 410h5v5h-5zM333 410h5v5h-5zM103 415h5v5h-5zM143 415h5v5h-5zM653 415h5v5h-5zM103 420h5v5h-5zM318 420h5v5h-5zM653 420h5v5h-5zM103 425h5v5h-5zM313 425h5v5h-5z"/>
<path fill="#ececec" d="M253 145h5v5h-5zM283 150h5v5h-5zM223 160h5v5h-5zM283 170h5v5h-5zM508 180h5v5h-5zM523 180h5v5h-5zM533 185h5v5h-5zM198 190h5v5h-5zM503 190h5v5h-5zM538 190h5v5h-5zM198 195h5v5h-5zM248 200h5v5h-5zM498 200h5v5h-5zM203 205h5v5h-5zM538 205h5v5h-5zM503 210h5v5h-5zM508 215h5v5h-5zM528 215h5v5h-5zM518 220h10v5h-10zM418 365h5v5h-5zM398 375h5v5h-5zM428 380h5v5h-5zM673 380h5v5h-5zM683 380h5v5h-5zM383 385h5v5h-5zM428 385h5v5h-5zM428 390h5v5h-5zM693 390h5v5h-5zM368 395h5v5h-5zM358 400h5v5h-5zM698 400h5v5h-5zM348 405h5v5h-5zM113 410h5v5h-5zM133 410h5v5h-5zM138 415h5v5h-5zM328 415h5v5h-5zM143 420h5v5h-5zM143 425h5v5h-5zM318 425h5v5h-5zM653 425h5v5h-5z"/>
<path fill="#ededed" d="M258 145h20v5h-20zM243 150h5v5h-5zM233 155h5v5h-5zM218 165h5v5h-5zM283 165h5v5h-5zM278 175h5v5h-5zM203 180h5v5h-5zM513 180h10v5h-10zM508 185h5v5h-5zM528 185h5v5h-5zM263 190h5v5h-5zM503 195h5v5h-5zM538 195h5v5h-5zM503 200h5v5h-5zM538 200h5v5h-5zM208 205h5v5h-5zM233 205h5v5h-5zM503 205h5v5h-5zM533 210h5v5h-5zM513 215h15v5h-15zM408 370h5v5h-5zM423 370h5v5h-5zM678 380h5v5h-5zM668 385h5v5h-5zM688 385h5v5h-5zM378 390h5v5h-5zM663 390h5v5h-5zM658 400h5v5h-5zM698 405h5v5h-5zM118 410h15v5h-15zM338 410h5v5h-5zM108 415h5v5h-5zM133 415h5v5h-5zM108 420h5v5h-5zM138 420h5v5h-5zM323 420h5v5h-5z"/>
<path fill="#eeeeee" d="M283 155h5v5h-5zM228 160h5v5h-5zM283 160h5v5h-5zM208 175h5v5h-5zM273 180h5v5h-5zM268 185h5v5h-5zM513 185h5v5h-5zM523 185h5v5h-5zM508 190h5v5h-5zM533 190h5v5h-5zM253 195h5v5h-5zM533 195h5v5h-5zM203 200h5v5h-5zM243 200h5v5h-5zM213 205h5v5h-5zM228 205h5v5h-5zM533 205h5v5h-5zM508 210h5v5h-5zM528 210h5v5h-5zM413 370h10v5h-10zM423 375h5v5h-5zM393 380h5v5h-5zM693 395h5v5h-5zM363 400h5v5h-5zM353 405h5v5h-5zM658 405h5v5h-5zM343 410h5v5h-5zM698 410h5v5h-5zM113 415h5v5h-5zM128 415h5v5h-5zM333 415h5v5h-5zM423 415h5v5h-5zM698 415h5v5h-5zM423 420h5v5h-5zM698 420h5v5h-5zM108 425h5v5h-5zM138 425h5v5h-5zM323 425h5v5h-5zM423 425h5v5h-5z"/>
<path fill="#efefef" d="M248 150h5v5h-5zM278 150h5v5h-5zM238 155h5v5h-5zM213 170h5v5h-5zM278 170h5v5h-5zM203 185h5v5h-5zM518 185h5v5h-5zM258 190h5v5h-5zM528 190h5v5h-5zM508 195h5v5h-5zM508 200h5v5h-5zM533 200h5v5h-5zM218 205h10v5h-10zM508 205h5v5h-5zM528 205h5v5h-5zM513 210h15v5h-15zM403 375h5v5h-5zM423 380h5v5h-5zM388 385h5v5h-5zM423 385h5v5h-5zM673 385h5v5h-5zM683 385h5v5h-5zM373 395h5v5h-5zM663 395h5v5h-5zM423 400h5v5h-5zM423 405h5v5h-5zM423 410h5v5h-5zM658 410h5v5h-5zM118 415h10v5h-10zM658 415h5v5h-5zM113 420h5v5h-5zM133 420h5v5h-5zM328 420h5v5h-5zM133 425h5v5h-5zM698 425h5v5h-5z"/>
<path fill="#f0f0f0" d="M273 150h5v5h-5zM278 155h5v5h-5zM233 160h5v5h-5zM223 165h5v5h-5zM263 185h5v5h-5zM203 190h5v5h-5zM513 190h15v5h-15zM203 195h5v5h-5zM248 195h5v5h-5zM528 195h5v5h-5zM208 200h5v5h-5zM238 200h5v5h-5zM528 200h5v5h-5zM513 205h5v5h-5zM523 205h5v5h-5zM408 375h5v5h-5zM418 375h5v5h-5zM398 380h5v5h-5zM678 385h5v5h-5zM383 390h5v5h-5zM423 390h5v5h-5zM668 390h5v5h-5zM688 390h5v5h-5zM423 395h5v5h-5zM358 405h5v5h-5zM348 410h5v5h-5zM338 415h5v5h-5zM118 420h5v5h-5zM128 420h5v5h-5zM658 420h5v5h-5zM113 425h5v5h-5zM658 425h5v5h-5z"/>
<path fill="#f1f1f1" d="M253 150h5v5h-5zM268 150h5v5h-5zM243 155h5v5h-5zM278 160h5v5h-5zM278 165h5v5h-5zM218 170h5v5h-5zM273 175h5v5h-5zM208 180h5v5h-5zM268 180h5v5h-5zM253 190h5v5h-5zM243 195h5v5h-5zM513 195h15v5h-15zM233 200h5v5h-5zM513 200h5v5h-5zM523 200h5v5h-5zM518 205h5v5h-5zM413 375h5v5h-5zM403 380h5v5h-5zM418 380h5v5h-5zM393 385h5v5h-5zM378 395h5v5h-5zM368 400h5v5h-5zM663 400h5v5h-5zM693 400h5v5h-5zM123 420h5v5h-5zM333 420h5v5h-5zM118 425h5v5h-5zM128 425h5v5h-5zM328 425h5v5h-5z"/>
<path fill="#f2f2f2" d="M258 150h10v5h-10zM238 160h5v5h-5zM228 165h5v5h-5zM273 170h5v5h-5zM213 175h5v5h-5zM208 185h5v5h-5zM258 185h5v5h-5zM208 195h5v5h-5zM213 200h20v5h-20zM518 200h5v5h-5zM408 380h5v5h-5zM418 385h5v5h-5zM388 390h5v5h-5zM673 390h5v5h-5zM683 390h5v5h-5zM668 395h5v5h-5zM688 395h5v5h-5zM363 405h5v5h-5zM663 405h5v5h-5zM693 405h5v5h-5zM353 410h5v5h-5zM693 410h5v5h-5zM343 415h5v5h-5zM693 415h5v5h-5zM693 420h5v5h-5zM123 425h5v5h-5zM333 425h5v5h-5zM693 425h5v5h-5z"/>
<path fill="#f3f3f3" d="M248 155h5v5h-5zM273 155h5v5h-5zM233 165h5v5h-5zM273 165h5v5h-5zM223 170h5v5h-5zM268 175h5v5h-5zM263 180h5v5h-5zM208 190h5v5h-5zM248 190h5v5h-5zM238 195h5v5h-5zM413 380h5v5h-5zM398 385h5v5h-5zM418 390h5v5h-5zM678 390h5v5h-5zM418 395h5v5h-5zM373 400h5v5h-5zM418 400h5v5h-5zM418 405h5v5h-5zM418 410h5v5h-5zM663 410h5v5h-5zM348 415h5v5h-5zM418 415h5v5h-5zM663 415h5v5h-5zM338 420h5v5h-5zM418 420h5v5h-5zM663 420h5v5h-5zM418 425h5v5h-5zM663 425h5v5h-5z"/>
<path fill="#f4f4f4" d="M253 155h5v5h-5zM268 155h5v5h-5zM243 160h5v5h-5zM273 160h5v5h-5zM238 165h5v5h-5zM228 170h5v5h-5zM218 175h5v5h-5zM213 180h5v5h-5zM258 180h5v5h-5zM248 185h10v5h-10zM243 190h5v5h-5zM213 195h5v5h-5zM233 195h5v5h-5zM403 385h15v5h-15zM393 390h5v5h-5zM383 395h5v5h-5zM673 395h5v5h-5zM683 395h5v5h-5zM668 400h5v5h-5zM688 400h5v5h-5zM358 410h5v5h-5zM343 420h5v5h-5zM338 425h5v5h-5z"/>
<path fill="#f5f5f5" d="M258 155h10v5h-10zM248 160h5v5h-5zM268 160h5v5h-5zM243 165h5v5h-5zM268 165h5v5h-5zM233 170h10v5h-10zM268 170h5v5h-5zM223 175h5v5h-5zM263 175h5v5h-5zM218 180h5v5h-5zM253 180h5v5h-5zM213 185h5v5h-5zM243 185h5v5h-5zM213 190h5v5h-5zM238 190h5v5h-5zM218 195h15v5h-15zM398 390h5v5h-5zM413 390h5v5h-5zM388 395h5v5h-5zM413 395h5v5h-5zM678 395h5v5h-5zM378 400h5v5h-5zM673 400h5v5h-5zM683 400h5v5h-5zM368 405h5v5h-5zM668 405h5v5h-5zM688 405h5v5h-5zM668 410h5v5h-5zM688 410h5v5h-5zM353 415h5v5h-5zM668 415h5v5h-5zM688 415h5v5h-5zM348 420h5v5h-5zM668 420h5v5h-5zM688 420h5v5h-5zM343 425h5v5h-5zM668 425h5v5h-5zM688 425h5v5h-5z"/>
<path fill="#f6f6f6" d="M253 160h15v5h-15zM248 165h5v5h-5zM243 170h10v5h-10zM263 170h5v5h-5zM228 175h35v5h-35zM238 180h15v5h-15zM218 185h5v5h-5zM238 185h5v5h-5zM218 190h20v5h-20zM403 390h10v5h-10zM413 400h5v5h-5zM678 400h5v5h-5zM413 405h5v5h-5zM673 405h5v5h-5zM683 405h5v5h-5zM363 410h5v5h-5zM413 410h5v5h-5zM673 415h5v5h-5zM683 415h5v5h-5zM673 420h15v5h-15zM673 425h15v5h-15z"/>
<path fill="#f7f7f7" d="M253 165h15v5h-15zM253 170h10v5h-10zM223 180h15v5h-15zM223 185h15v5h-15zM393 395h20v5h-20zM383 400h5v5h-5zM373 405h5v5h-5zM678 405h5v5h-5zM673 410h15v5h-15zM358 415h5v5h-5zM413 415h5v5h-5zM678 415h5v5h-5zM353 420h5v5h-5zM413 420h5v5h-5zM348 425h5v5h-5zM413 425h5v5h-5z"/>
<path fill="#f8f8f8" d="M388 400h5v5h-5zM408 400h5v5h-5zM408 405h5v5h-5zM368 410h5v5h-5zM363 415h5v5h-5zM353 425h5v5h-5z"/>
<path fill="#f9f9f9" d="M393 400h15v5h-15zM378 405h5v5h-5zM408 410h5v5h-5zM358 420h5v5h-5zM358 425h5v5h-5z"/>
<path fill="#fafafa" d="M383 405h5v5h-5zM403 405h5v5h-5zM373 410h5v5h-5zM368 415h5v5h-5zM408 415h5v5h-5zM363 420h5v5h-5zM408 420h5v5h-5zM408 425h5v5h-5z"/>
<path fill="#fbfbfb" d="M388 405h15v5h-15zM378 410h5v5h-5zM403 410h5v5h-5zM363 425h5v5h-5z"/>
<path fill="#fcfcfc" d="M383 410h5v5h-5zM398 410h5v5h-5zM373 415h5v5h-5zM403 415h5v5h-5zM368 420h5v5h-5zM403 420h5v5h-5zM368 425h5v5h-5z"/>
<path fill="#fdfdfd" d="M388 410h10v5h-10zM378 415h5v5h-5zM398 415h5v5h-5zM373 420h5v5h-5zM403 425h5v5h-5z"/>
<path fill="#fefefe" d="M383 415h15v5h-15zM378 420h5v5h-5zM393 420h10v5h-10zM373 425h5v5h-5zM398 425h5v5h-5z"/>
<path fill="#ffffff" d="M383 420h10v5h-10zM378 425h20v5h-20z"/>
</g>
</defs>
<g clip-path="url(#disc)"><g filter="url(#cm)"><rect x="0" y="40" width="780" height="774" fill="#777"/><use href="#half"/><use href="#half" transform="translate(0,860) scale(1,-1)"/></g></g>
</svg>

<!-- legend -->
<div class="abs lg" style="top:63px;width:93px"><span style="letter-spacing:-.8px">RMS</span><span class="num">8.469e-07</span></div>
<div class="abs lg" style="top:87px;width:93px"><span style="letter-spacing:-.4px">P-V</span><span class="num">4.531e-06</span></div>
<div class="abs sw" style="top:110px;background:rgb(26,26,255)"></div>
<div class="abs lg" style="top:111px;width:86px"><span class="num">1.62e-06</span></div>
<div class="abs sw" style="top:134px;background:rgb(33,51,204)"></div>
<div class="abs lg" style="top:135px;width:86px"><span class="num">1.15e-06</span></div>
<div class="abs sw" style="top:158px;background:rgb(51,102,153)"></div>
<div class="abs lg" style="top:159px;width:86px"><span class="num">6.79e-07</span></div>
<div class="abs sw" style="top:182px;background:rgb(77,153,108)"></div>
<div class="abs lg" style="top:183px;width:86px"><span class="num">2.07e-07</span></div>
<div class="abs sw" style="top:206px;background:rgb(102,204,77)"></div>
<div class="abs lg" style="top:207px;width:86px"><span class="num">-2.64e-07</span></div>
<div class="abs sw" style="top:230px;background:rgb(128,255,64)"></div>
<div class="abs lg" style="top:231px;width:86px"><span class="num">-7.36e-07</span></div>
<div class="abs sw" style="top:254px;background:rgb(102,204,51)"></div>
<div class="abs lg" style="top:255px;width:86px"><span class="num">-1.21e-06</span></div>
<div class="abs sw" style="top:278px;background:rgb(122,153,38)"></div>
<div class="abs lg" style="top:279px;width:86px"><span class="num">-1.68e-06</span></div>
<div class="abs sw" style="top:302px;background:rgb(148,102,26)"></div>
<div class="abs lg" style="top:303px;width:86px"><span class="num">-2.15e-06</span></div>
<div class="abs sw" style="top:326px;background:rgb(192,64,26)"></div>
<div class="abs lg" style="top:327px;width:86px"><span class="num">-2.62e-06</span></div>
<div class="abs sw" style="top:350px;background:rgb(230,48,26)"></div>
<div class="abs lg" style="top:351px;width:86px"><span class="num">-3.09e-06</span></div>

<!-- main window chrome -->
<div id="tb1" class="abs">
 <div class="abs glow"></div>
 <div class="abs blob" style="left:312px;top:14px;width:47px;height:14px;background:#e9eef3"></div>
 <div class="abs blob" style="left:322px;top:19px;width:27px;height:14px;border-radius:14px 14px 0 0;background:#3a3f47"></div>
 <div class="abs blob" style="left:501px;top:14px;width:47px;height:14px;background:#e9eef3"></div>
 <div class="abs blob" style="left:511px;top:19px;width:27px;height:14px;border-radius:14px 14px 0 0;background:#3a3f47"></div>
 <div class="abs blob" style="left:596px;top:18px;width:46px;height:12px;opacity:.8;filter:blur(3px);background:linear-gradient(90deg,#9a3a5a,#b0584a 30%,#c9a03a 48%,#a83a6a 70%,#8a2a5a)"></div>
 <div class="abs blob" style="left:689px;top:13px;width:46px;height:16px;background:#eef2f7"></div>
 <div class="abs blob" style="left:784px;top:14px;width:43px;height:16px;background:#e6ebef"></div>
 <div class="abs blob" style="left:793px;top:22px;width:12px;height:6px;background:#4a8a6a;opacity:.8"></div><div class="abs blob" style="left:810px;top:22px;width:10px;height:6px;background:#3a6a5a;opacity:.7"></div>
 <div class="abs blob" style="left:868px;top:18px;width:70px;height:10px;background:#474c6e;filter:blur(4px)"></div>
 <div class="abs blob" style="left:890px;top:20px;width:10px;height:6px;background:#8a8fb0;filter:blur(2px)"></div>
 <svg class="abs" style="left:4px;top:2px" width="17" height="17"><use href="#ico" x="0.5" y="0.5" width="16" height="16"/></svg>
 <div class="abs ttl">Plop Color Plot</div>
 <div id="cap1" class="abs"><i style="left:26px"></i><i style="left:54px"></i>
  <svg class="abs" style="left:0;top:0" width="98" height="16" viewBox="0 0 98 16">
   <rect x="8" y="7" width="10" height="3" fill="#fff" stroke="#3a3d44" stroke-width=".6"/>
   <rect x="36" y="3" width="8" height="6" fill="none" stroke="#fff" stroke-width="2"/>
   <path d="M73.5 2.5 L76.5 2.5 L78.5 5 L80.5 2.5 L83.5 2.5 L80 6.5 L83.5 10.5 L80.5 10.5 L78.5 8 L76.5 10.5 L73.5 10.5 L77 6.5 Z" fill="#fff"/>
  </svg>
 </div>
</div>
<div id="tline1" class="abs"></div><div id="tline2" class="abs"></div>
<div id="lb" class="abs"><i></i><b></b></div>
<div id="menu1" class="abs menu"><span style="left:7px">File</span><span style="left:39px">Options</span></div>

<!-- second window -->
<div id="w2" class="abs">
 <div class="abs glass"></div>
 <div class="abs tint"></div>
 <div class="abs hl"></div>
 <div class="abs glow"></div>
 <svg class="abs" style="left:7px;top:5px" width="17" height="17"><use href="#ico" x="0.5" y="0.5" width="16" height="16"/></svg>
 <div class="abs ttl">Plop Cell Parts</div>
 <div id="cap2" class="abs"><i style="left:27px"></i><i style="left:54px"></i>
  <svg class="abs" style="left:0;top:0" width="101" height="18" viewBox="0 0 101 18">
   <rect x="8.5" y="9.5" width="11" height="4" rx="1" fill="#fff" stroke="#4a4f58" stroke-width="1"/>
   <rect x="35.5" y="5.5" width="11" height="9" rx="1" fill="#fff" stroke="#4a4f58" stroke-width="1"/>
   <rect x="38.5" y="8.5" width="5" height="3" fill="#fff" stroke="#4a4f58" stroke-width="1"/>
   <path d="M73.5 5.5 L77 5.5 L79 7.8 L81 5.5 L84.5 5.5 L81 9.7 L84.5 14 L81 14 L79 11.6 L77 14 L73.5 14 L77 9.7 Z" fill="#fff" stroke="#3e434c" stroke-width="1.1"/>
  </svg>
 </div>
 <div id="cl2" class="abs">
  <div id="menu2" class="abs menu"><span style="left:7px">File</span><span style="left:39px">Options</span></div>
  <svg class="abs" style="left:0;top:19px" width="389" height="380" viewBox="530 461 389 380" font-family="Liberation Sans, sans-serif" font-size="11.5">
   <circle cx="710" cy="641" r="170.5" fill="none" stroke="#000" stroke-width="1"/>
   <g stroke="#000" fill="none" shape-rendering="crispEdges"><path d="M715.5 526.5 L671.5 575.5 L605.5 589.5 Z"/><path d="M807.5 578.5 L785.5 642.5 L807.5 706.5 Z"/><path d="M605.5 695.5 L671.5 708.5 L715.5 759.5 Z"/></g>
<rect x="721" y="520" width="15" height="13" fill="#fff"/>
<rect x="677" y="569" width="15" height="13" fill="#fff"/>
<rect x="611" y="583" width="15" height="13" fill="#fff"/>
<rect x="813" y="572" width="15" height="13" fill="#fff"/>
<rect x="791" y="636" width="15" height="13" fill="#fff"/>
<rect x="813" y="700" width="15" height="13" fill="#fff"/>
<rect x="611" y="689" width="15" height="13" fill="#fff"/>
<rect x="677" y="702" width="15" height="13" fill="#fff"/>
<rect x="721" y="753" width="15" height="13" fill="#fff"/>
<circle cx="715.5" cy="526.5" r="2.5" fill="none" stroke="#000"/>
<text x="721.5" y="530.5">(3)</text>
<circle cx="671.5" cy="575.5" r="2.5" fill="none" stroke="#000"/>
<text x="677.5" y="579.5">(1)</text>
<circle cx="605.5" cy="589.5" r="2.5" fill="none" stroke="#000"/>
<text x="611.5" y="593.5">(2)</text>
<circle cx="807.5" cy="578.5" r="2.5" fill="none" stroke="#000"/>
<text x="813.5" y="582.5">(2)</text>
<circle cx="785.5" cy="642.5" r="2.5" fill="none" stroke="#000"/>
<text x="791.5" y="646.5">(1)</text>
<circle cx="807.5" cy="706.5" r="2.5" fill="none" stroke="#000"/>
<text x="813.5" y="710.5">(3)</text>
<circle cx="605.5" cy="695.5" r="2.5" fill="none" stroke="#000"/>
<text x="611.5" y="699.5">(3)</text>
<circle cx="671.5" cy="708.5" r="2.5" fill="none" stroke="#000"/>
<text x="677.5" y="712.5">(1)</text>
<circle cx="715.5" cy="759.5" r="2.5" fill="none" stroke="#000"/>
<text x="721.5" y="763.5">(2)</text>
<path d="M660.0 564.5 h11 M665.5 559.0 v11" stroke="#e8200c" fill="none" shape-rendering="crispEdges"/>
<path d="M795.0 642.5 h11 M800.5 637.0 v11" stroke="#e8200c" fill="none" shape-rendering="crispEdges"/>
<path d="M660.0 721.5 h11 M665.5 716.0 v11" stroke="#e8200c" fill="none" shape-rendering="crispEdges"/>
  </svg>
 </div>
</div>
</body></html>
